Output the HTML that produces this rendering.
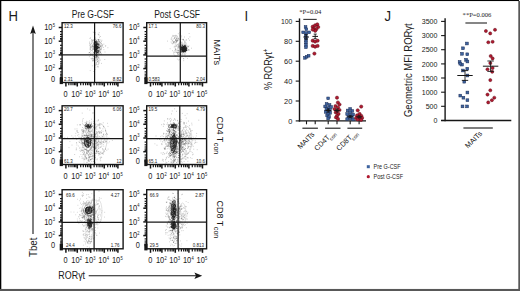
<!DOCTYPE html>
<html><head><meta charset="utf-8"><title>Figure</title>
<style>
html,body{margin:0;padding:0;background:#fff;}
body{width:520px;height:291px;overflow:hidden;font-family:"Liberation Sans",sans-serif;}
svg{display:block}
text{font-family:"Liberation Sans",sans-serif;fill:#1a1a1a}
.s{font-family:"Liberation Serif",serif}
</style></head><body>
<svg width="520" height="291" viewBox="0 0 520 291">
<rect x="0" y="0" width="520" height="291" fill="#fff"/>

<rect x="0" y="0" width="519" height="1.05" fill="#000"/>
<rect x="0" y="0" width="1.3" height="289.4" fill="#000"/>
<rect x="518.3" y="0.9" width="1.7" height="290.1" fill="#585858"/>
<rect x="0" y="288.95" width="520" height="2.05" fill="#585858"/>
<text transform="translate(8.6,20.9) scale(0.95,1)" font-size="13.8" text-anchor="start">H</text>
<text transform="translate(244.6,20.9) scale(0.95,1)" font-size="13.8" text-anchor="start">I</text>
<text transform="translate(384.5,20.9) scale(0.95,1)" font-size="13.8" text-anchor="start">J</text>
<text transform="translate(92.8,18) scale(0.82,1)" font-size="10.4" text-anchor="middle">Pre G-CSF</text>
<text transform="translate(177.1,18) scale(0.82,1)" font-size="10.4" text-anchor="middle">Post G-CSF</text>
<path d="M91.6 50.5h.01M99.6 44.7h.01M91.2 47.6h.01M97.7 55.1h.01M91.6 39.6h.01M98.5 51.1h.01M101.5 54.4h.01M95.6 46.2h.01M105.3 46.1h.01M93.2 40.6h.01M96.3 48.9h.01M94.8 47.6h.01M97.0 52.5h.01M99.9 49.4h.01M89.6 52.6h.01M90.9 46.9h.01M90.7 48.0h.01M93.2 49.4h.01M107.9 47.7h.01M99.0 39.4h.01M95.0 52.3h.01M95.7 50.4h.01M96.4 41.5h.01M98.0 42.7h.01M102.7 44.7h.01M98.5 48.0h.01M99.4 44.1h.01M99.6 47.2h.01M100.5 52.1h.01M96.5 42.9h.01M98.8 51.0h.01M101.9 45.5h.01M98.0 51.3h.01M97.0 49.4h.01M96.7 44.1h.01M92.3 45.4h.01M98.1 57.8h.01M99.5 54.8h.01M98.8 52.5h.01M96.7 53.0h.01M102.4 45.9h.01M93.5 60.7h.01M96.9 54.3h.01M99.1 40.6h.01M104.8 59.5h.01M96.6 52.9h.01M96.5 42.3h.01M95.6 50.4h.01M100.0 52.6h.01M96.2 56.8h.01M93.3 53.2h.01M100.0 46.1h.01M89.6 42.1h.01M96.9 51.4h.01M101.6 41.5h.01M96.0 52.2h.01M95.4 32.6h.01M98.9 63.0h.01M99.6 42.0h.01M94.5 49.4h.01M105.0 52.0h.01M96.4 58.1h.01M95.7 60.1h.01M93.5 44.9h.01M98.6 57.3h.01M98.4 50.0h.01M89.4 43.4h.01M93.8 44.5h.01M98.1 45.8h.01M98.8 48.5h.01M94.8 48.8h.01M97.5 53.6h.01M94.3 46.5h.01M91.1 58.4h.01M101.2 46.8h.01M94.3 40.0h.01M96.6 49.3h.01M103.9 49.6h.01M93.2 32.1h.01M101.1 49.2h.01M90.2 49.2h.01M90.2 70.6h.01M100.0 51.7h.01M95.4 34.1h.01M95.5 37.9h.01M98.1 34.1h.01M92.7 55.9h.01M101.9 40.3h.01M90.5 53.7h.01M99.1 41.6h.01M93.5 43.5h.01M91.7 43.6h.01M100.5 52.5h.01M103.4 47.4h.01M95.5 41.6h.01M95.6 39.5h.01M89.6 52.5h.01M101.2 53.4h.01M100.8 49.6h.01M93.4 48.6h.01M94.7 40.8h.01M89.9 38.4h.01M96.0 49.0h.01M94.3 57.3h.01M96.6 51.8h.01M100.4 42.7h.01M88.9 52.9h.01M93.5 56.5h.01M97.2 54.5h.01M98.7 34.5h.01M98.6 43.6h.01M93.3 45.2h.01M98.8 53.7h.01M99.6 37.2h.01M93.9 32.6h.01M95.6 51.9h.01M93.2 49.6h.01M96.8 54.5h.01M93.0 42.6h.01M93.3 59.4h.01M99.9 47.2h.01M96.8 48.7h.01M96.7 46.6h.01M94.8 39.8h.01M93.7 58.7h.01M97.9 48.4h.01M95.2 48.4h.01M97.3 43.8h.01M96.7 49.6h.01M93.3 42.9h.01M92.4 41.1h.01M99.2 32.7h.01M95.0 44.0h.01M93.8 48.6h.01M100.1 48.5h.01M95.5 44.0h.01M95.5 53.9h.01M94.6 40.5h.01M91.4 40.8h.01M91.0 55.1h.01M97.3 46.5h.01M101.3 43.7h.01M98.7 53.2h.01M90.4 37.9h.01M92.7 53.9h.01M100.7 40.0h.01M99.8 45.5h.01M94.6 44.4h.01M94.8 36.2h.01M92.4 40.0h.01M97.8 61.6h.01M105.8 45.8h.01M89.8 45.4h.01M92.6 60.9h.01M98.1 43.3h.01M99.4 51.5h.01M90.1 44.5h.01M95.1 48.1h.01M96.5 45.8h.01M96.7 44.2h.01M92.8 57.9h.01M97.3 50.8h.01M90.3 46.9h.01M98.9 39.6h.01M100.0 45.5h.01M97.4 47.1h.01M96.8 55.8h.01M94.5 58.2h.01M93.2 41.9h.01M98.6 41.1h.01M94.7 53.9h.01M100.4 36.5h.01M97.8 60.2h.01M100.3 46.4h.01M93.8 46.1h.01M91.8 46.3h.01M95.3 47.1h.01M100.3 46.5h.01M90.8 54.8h.01M92.1 45.1h.01M95.5 45.8h.01M92.4 46.4h.01M103.9 44.1h.01M95.5 55.3h.01M98.7 53.0h.01M99.1 35.2h.01M92.9 48.8h.01M97.8 56.4h.01M97.7 46.5h.01M96.1 46.6h.01M96.9 52.4h.01M94.8 42.7h.01M92.9 55.1h.01M100.6 54.4h.01M99.1 53.4h.01M96.0 52.3h.01M92.2 46.7h.01M93.4 52.7h.01M93.9 47.3h.01M97.4 56.8h.01" stroke="#222" stroke-opacity="0.33" stroke-width="0.8" stroke-linecap="round" fill="none"/>
<path d="M95.3 45.0h.01M97.3 44.5h.01M96.8 46.2h.01M96.2 42.2h.01M97.2 46.4h.01M95.2 54.6h.01M97.2 59.2h.01M96.8 46.9h.01M96.4 53.1h.01M96.3 49.4h.01M96.9 45.1h.01M96.5 46.4h.01M94.8 50.8h.01M97.1 48.2h.01M95.2 41.6h.01M96.9 47.7h.01M94.3 47.8h.01M94.5 47.9h.01M96.5 49.1h.01M96.6 48.5h.01M94.9 46.8h.01M95.7 47.2h.01M96.6 50.0h.01M98.3 39.8h.01M96.8 47.4h.01M99.0 51.0h.01M94.3 49.3h.01M95.7 51.2h.01M95.0 47.7h.01M96.1 47.7h.01M95.6 42.1h.01M96.9 51.2h.01M96.2 44.7h.01M96.5 49.8h.01M96.1 48.0h.01M98.0 44.4h.01M95.6 41.9h.01M95.5 45.6h.01M95.1 45.8h.01M98.5 47.4h.01M96.2 55.0h.01M96.2 42.5h.01M96.8 45.0h.01M98.3 44.0h.01M95.6 42.9h.01M96.4 44.8h.01M96.2 46.8h.01M95.6 51.0h.01M97.4 48.2h.01M95.2 44.6h.01M96.6 55.7h.01M95.8 45.5h.01M95.5 44.5h.01M95.1 47.3h.01M98.0 48.0h.01M95.7 42.8h.01M96.6 47.9h.01M94.8 44.5h.01M96.2 51.2h.01M97.1 48.7h.01M95.9 49.0h.01M96.3 55.0h.01M94.9 46.8h.01M97.8 47.1h.01M98.0 47.9h.01M96.5 46.8h.01M94.6 44.9h.01M99.0 50.1h.01M97.0 51.1h.01M97.0 51.3h.01M96.0 47.3h.01M97.5 46.9h.01M94.7 47.3h.01M95.6 50.0h.01M95.4 44.6h.01M95.9 53.0h.01M96.2 48.5h.01M96.3 48.9h.01M97.4 52.5h.01M94.3 52.4h.01M96.3 47.0h.01M99.2 47.5h.01M98.6 51.1h.01M95.1 49.6h.01M97.2 47.6h.01M93.5 46.9h.01M96.1 44.5h.01M98.5 47.2h.01M95.8 47.0h.01M95.4 45.5h.01M96.4 49.0h.01M95.7 47.7h.01M94.6 49.7h.01M95.4 48.7h.01M95.2 46.4h.01M96.6 44.1h.01M99.3 47.9h.01M96.2 45.6h.01M98.2 52.4h.01M96.7 43.6h.01M95.7 50.0h.01M95.7 44.2h.01M94.9 45.5h.01M96.3 45.9h.01M96.3 56.9h.01M98.4 44.7h.01M96.7 48.3h.01M96.1 51.3h.01M95.9 47.0h.01M95.9 47.7h.01M97.8 50.5h.01M94.7 46.6h.01M95.3 50.6h.01M96.6 50.8h.01M96.2 41.9h.01M96.8 48.7h.01M96.9 43.8h.01M96.4 45.8h.01M95.5 49.1h.01M96.7 45.1h.01M94.2 40.1h.01M95.6 51.6h.01M96.2 40.8h.01M95.3 49.3h.01M98.3 51.7h.01M96.7 48.6h.01M95.0 46.6h.01M95.9 45.5h.01M96.4 46.7h.01M96.7 52.6h.01M97.2 49.3h.01M96.0 43.1h.01M96.2 49.7h.01M95.1 52.0h.01M95.9 49.2h.01M95.9 44.0h.01M98.8 44.3h.01M97.4 46.2h.01M96.6 45.4h.01M95.8 50.9h.01M98.6 45.3h.01M96.3 51.0h.01M95.5 50.3h.01M95.4 49.9h.01M96.8 51.9h.01M96.7 44.2h.01M97.1 44.5h.01M97.2 52.8h.01M97.0 46.2h.01M97.7 48.5h.01M94.8 46.9h.01M98.0 47.0h.01M96.4 46.9h.01M94.3 46.4h.01M96.7 48.7h.01M96.1 41.2h.01M97.8 50.3h.01M97.5 52.2h.01M95.8 46.1h.01M96.7 53.4h.01M94.3 47.3h.01M95.4 49.8h.01M98.1 47.1h.01M94.8 48.2h.01M96.0 43.1h.01M97.4 46.3h.01M97.1 43.8h.01M97.6 43.4h.01M97.6 42.2h.01M98.0 46.8h.01" stroke="#222" stroke-opacity="0.75" stroke-width="1.0" stroke-linecap="round" fill="none"/>
<path d="M91.5 58.9h.01M96.4 55.5h.01M94.2 61.2h.01M95.1 46.2h.01M94.4 61.9h.01M96.3 64.5h.01M93.7 71.5h.01M97.6 61.4h.01M98.3 64.3h.01M95.8 57.2h.01M98.2 61.9h.01M90.6 55.0h.01M96.7 60.5h.01M96.2 62.9h.01M95.9 67.1h.01M94.0 58.2h.01M96.3 63.4h.01M97.5 66.7h.01M94.3 65.3h.01M96.7 55.3h.01M95.1 69.4h.01M97.5 57.9h.01M89.3 56.7h.01M93.7 60.3h.01M101.5 63.4h.01M96.3 55.8h.01M92.4 59.1h.01M94.3 73.5h.01M94.4 57.2h.01M98.4 60.3h.01M92.3 65.8h.01M94.7 54.0h.01M96.3 62.2h.01M94.6 63.1h.01M97.6 56.0h.01M90.2 49.2h.01M95.2 65.5h.01M98.1 66.3h.01M100.3 60.1h.01M98.2 53.1h.01M97.3 61.8h.01M95.3 58.0h.01M92.6 60.6h.01M98.8 58.3h.01M96.9 57.0h.01M96.2 55.5h.01M96.5 59.0h.01M96.3 57.3h.01M92.4 58.5h.01M98.2 67.1h.01" stroke="#222" stroke-opacity="0.3" stroke-width="0.8" stroke-linecap="round" fill="none"/>
<ellipse cx="95.6" cy="48" rx="5.5" ry="9" transform="rotate(0 95.6 48)" fill="none" stroke="#1a1a1a" stroke-opacity="0.25" stroke-width="0.5"/>
<ellipse cx="96" cy="47.5" rx="3.6" ry="6.5" transform="rotate(8 96 47.5)" fill="none" stroke="#1a1a1a" stroke-opacity="0.3" stroke-width="0.5"/>
<ellipse cx="98.5" cy="46" rx="3.5" ry="4.5" transform="rotate(0 98.5 46)" fill="none" stroke="#1a1a1a" stroke-opacity="0.3" stroke-width="0.5"/>
<ellipse cx="96.8" cy="60" rx="2.5" ry="5" transform="rotate(0 96.8 60)" fill="none" stroke="#1a1a1a" stroke-opacity="0.25" stroke-width="0.5"/>
<rect x="62.1" y="22.7" width="61.0" height="59.8" fill="none" stroke="#161616" stroke-width="1.4"/>
<line x1="94.6" y1="22.7" x2="94.6" y2="82.5" stroke="#161616" stroke-width="1.2"/>
<line x1="62.1" y1="54.8" x2="123.1" y2="54.8" stroke="#161616" stroke-width="1.2"/>
<text transform="translate(63.9,28.1) scale(0.9,1)" font-size="5.0" text-anchor="start" fill="#7c7c7c">12.3</text>
<text transform="translate(121.6,28.1) scale(0.9,1)" font-size="5.0" text-anchor="end" fill="#7c7c7c">76.6</text>
<text transform="translate(63.9,80.9) scale(0.9,1)" font-size="5.0" text-anchor="start" fill="#7c7c7c">2.31</text>
<text transform="translate(121.6,80.9) scale(0.9,1)" font-size="5.0" text-anchor="end" fill="#7c7c7c">8.82</text>
<line x1="58.7" y1="27.5" x2="62.1" y2="27.5" stroke="#161616" stroke-width="1.5"/>
<text transform="translate(54.9,30.1) scale(0.815,1)" font-size="9.2" text-anchor="end">10<tspan dy="-3.4" dx="0.2" font-size="5.0">5</tspan></text>
<line x1="58.7" y1="41.2" x2="62.1" y2="41.2" stroke="#161616" stroke-width="1.5"/>
<text transform="translate(54.9,43.8) scale(0.815,1)" font-size="9.2" text-anchor="end">10<tspan dy="-3.4" dx="0.2" font-size="5.0">4</tspan></text>
<line x1="58.7" y1="54.9" x2="62.1" y2="54.9" stroke="#161616" stroke-width="1.5"/>
<text transform="translate(54.9,57.5) scale(0.815,1)" font-size="9.2" text-anchor="end">10<tspan dy="-3.4" dx="0.2" font-size="5.0">3</tspan></text>
<line x1="58.7" y1="68.6" x2="62.1" y2="68.6" stroke="#161616" stroke-width="1.5"/>
<text transform="translate(54.9,71.2) scale(0.815,1)" font-size="9.2" text-anchor="end">10<tspan dy="-3.4" dx="0.2" font-size="5.0">2</tspan></text>
<line x1="60.0" y1="31.6" x2="62.1" y2="31.6" stroke="#161616" stroke-width="1.2"/>
<line x1="60.0" y1="34.4" x2="62.1" y2="34.4" stroke="#161616" stroke-width="1.2"/>
<line x1="60.0" y1="36.5" x2="62.1" y2="36.5" stroke="#161616" stroke-width="1.2"/>
<line x1="60.0" y1="38.5" x2="62.1" y2="38.5" stroke="#161616" stroke-width="1.2"/>
<line x1="60.0" y1="39.8" x2="62.1" y2="39.8" stroke="#161616" stroke-width="1.2"/>
<line x1="60.0" y1="45.3" x2="62.1" y2="45.3" stroke="#161616" stroke-width="1.2"/>
<line x1="60.0" y1="48.1" x2="62.1" y2="48.1" stroke="#161616" stroke-width="1.2"/>
<line x1="60.0" y1="50.2" x2="62.1" y2="50.2" stroke="#161616" stroke-width="1.2"/>
<line x1="60.0" y1="52.2" x2="62.1" y2="52.2" stroke="#161616" stroke-width="1.2"/>
<line x1="60.0" y1="53.5" x2="62.1" y2="53.5" stroke="#161616" stroke-width="1.2"/>
<line x1="60.0" y1="59.0" x2="62.1" y2="59.0" stroke="#161616" stroke-width="1.2"/>
<line x1="60.0" y1="61.8" x2="62.1" y2="61.8" stroke="#161616" stroke-width="1.2"/>
<line x1="60.0" y1="63.9" x2="62.1" y2="63.9" stroke="#161616" stroke-width="1.2"/>
<line x1="60.0" y1="65.9" x2="62.1" y2="65.9" stroke="#161616" stroke-width="1.2"/>
<line x1="60.0" y1="67.2" x2="62.1" y2="67.2" stroke="#161616" stroke-width="1.2"/>
<line x1="60.0" y1="71.9" x2="62.1" y2="71.9" stroke="#161616" stroke-width="1.2"/>
<line x1="60.0" y1="74.2" x2="62.1" y2="74.2" stroke="#161616" stroke-width="1.2"/>
<line x1="60.0" y1="75.9" x2="62.1" y2="75.9" stroke="#161616" stroke-width="1.2"/>
<line x1="60.0" y1="77.5" x2="62.1" y2="77.5" stroke="#161616" stroke-width="1.2"/>
<line x1="60.0" y1="78.6" x2="62.1" y2="78.6" stroke="#161616" stroke-width="1.2"/>
<text transform="translate(53.1,81.8) scale(0.8,1)" font-size="9.2" text-anchor="middle">0</text>
<rect x="59.7" y="77.5" width="3.2" height="6.6" fill="#161616"/>
<line x1="65.9" y1="82.5" x2="65.9" y2="86.5" stroke="#161616" stroke-width="1.5"/>
<text transform="translate(65.6,97.0) scale(0.8,1)" font-size="9.2" text-anchor="middle">0</text>
<line x1="77.3" y1="82.5" x2="77.3" y2="86.5" stroke="#161616" stroke-width="1.5"/>
<text transform="translate(76.7,97.0) scale(0.815,1)" font-size="9.2" text-anchor="middle">10<tspan dy="-3.4" dx="0.2" font-size="5.0">2</tspan></text>
<line x1="90.7" y1="82.5" x2="90.7" y2="86.5" stroke="#161616" stroke-width="1.5"/>
<text transform="translate(90.1,97.0) scale(0.815,1)" font-size="9.2" text-anchor="middle">10<tspan dy="-3.4" dx="0.2" font-size="5.0">3</tspan></text>
<line x1="104.3" y1="82.5" x2="104.3" y2="86.5" stroke="#161616" stroke-width="1.5"/>
<text transform="translate(103.7,97.0) scale(0.815,1)" font-size="9.2" text-anchor="middle">10<tspan dy="-3.4" dx="0.2" font-size="5.0">4</tspan></text>
<line x1="117.9" y1="82.5" x2="117.9" y2="86.5" stroke="#161616" stroke-width="1.5"/>
<text transform="translate(117.3,97.0) scale(0.815,1)" font-size="9.2" text-anchor="middle">10<tspan dy="-3.4" dx="0.2" font-size="5.0">5</tspan></text>
<line x1="68.8" y1="82.5" x2="68.8" y2="85.2" stroke="#161616" stroke-width="1.2"/>
<line x1="71.0" y1="82.5" x2="71.0" y2="85.2" stroke="#161616" stroke-width="1.2"/>
<line x1="73.0" y1="82.5" x2="73.0" y2="85.2" stroke="#161616" stroke-width="1.2"/>
<line x1="74.6" y1="82.5" x2="74.6" y2="85.2" stroke="#161616" stroke-width="1.2"/>
<line x1="75.9" y1="82.5" x2="75.9" y2="85.2" stroke="#161616" stroke-width="1.2"/>
<line x1="80.7" y1="82.5" x2="80.7" y2="85.2" stroke="#161616" stroke-width="1.2"/>
<line x1="83.3" y1="82.5" x2="83.3" y2="85.2" stroke="#161616" stroke-width="1.2"/>
<line x1="85.6" y1="82.5" x2="85.6" y2="85.2" stroke="#161616" stroke-width="1.2"/>
<line x1="87.5" y1="82.5" x2="87.5" y2="85.2" stroke="#161616" stroke-width="1.2"/>
<line x1="89.1" y1="82.5" x2="89.1" y2="85.2" stroke="#161616" stroke-width="1.2"/>
<line x1="94.1" y1="82.5" x2="94.1" y2="85.2" stroke="#161616" stroke-width="1.2"/>
<line x1="96.8" y1="82.5" x2="96.8" y2="85.2" stroke="#161616" stroke-width="1.2"/>
<line x1="99.1" y1="82.5" x2="99.1" y2="85.2" stroke="#161616" stroke-width="1.2"/>
<line x1="101.0" y1="82.5" x2="101.0" y2="85.2" stroke="#161616" stroke-width="1.2"/>
<line x1="102.7" y1="82.5" x2="102.7" y2="85.2" stroke="#161616" stroke-width="1.2"/>
<line x1="107.7" y1="82.5" x2="107.7" y2="85.2" stroke="#161616" stroke-width="1.2"/>
<line x1="110.4" y1="82.5" x2="110.4" y2="85.2" stroke="#161616" stroke-width="1.2"/>
<line x1="112.7" y1="82.5" x2="112.7" y2="85.2" stroke="#161616" stroke-width="1.2"/>
<line x1="114.6" y1="82.5" x2="114.6" y2="85.2" stroke="#161616" stroke-width="1.2"/>
<line x1="116.3" y1="82.5" x2="116.3" y2="85.2" stroke="#161616" stroke-width="1.2"/>
<path d="M179.9 51.8h.01M183.6 49.4h.01M175.7 48.9h.01M177.7 54.1h.01M183.7 50.7h.01M172.4 50.7h.01M183.4 39.3h.01M184.3 47.5h.01M180.4 42.7h.01M177.5 44.4h.01M191.5 48.2h.01M181.7 43.1h.01M178.9 43.7h.01M178.0 52.3h.01M180.1 52.2h.01M177.1 52.6h.01M180.9 51.0h.01M180.6 41.7h.01M185.1 44.4h.01M180.5 41.7h.01M181.7 44.7h.01M182.0 49.1h.01M178.7 38.5h.01M182.5 52.5h.01M183.4 40.1h.01M183.1 49.3h.01M182.0 49.6h.01M179.9 48.3h.01M184.2 44.0h.01M176.1 46.4h.01M181.7 35.9h.01M178.7 50.5h.01M180.5 47.6h.01M176.7 52.4h.01M187.0 45.8h.01M178.5 40.1h.01M184.0 47.6h.01M178.3 54.3h.01M183.6 50.6h.01M175.0 46.4h.01M183.1 39.7h.01M184.2 55.6h.01M184.5 42.7h.01M178.6 52.7h.01M184.4 54.4h.01M185.1 46.4h.01M179.6 35.9h.01M183.7 60.7h.01M179.4 44.1h.01M183.2 49.2h.01M176.3 42.7h.01M177.3 59.1h.01M178.6 52.1h.01M187.5 58.4h.01M185.8 56.8h.01M176.8 44.9h.01M178.5 45.3h.01M189.9 36.9h.01M182.9 39.6h.01M185.6 54.8h.01M179.3 59.4h.01M181.3 54.8h.01M182.1 43.6h.01M179.7 46.3h.01M183.1 47.8h.01M189.0 45.8h.01M179.4 42.7h.01M178.4 38.4h.01M177.6 52.4h.01M181.2 46.0h.01M182.2 53.4h.01M183.1 51.6h.01M179.1 45.4h.01M178.4 46.4h.01M178.2 44.8h.01M180.4 45.7h.01M180.1 44.0h.01M185.5 44.9h.01M177.6 48.2h.01M177.3 40.6h.01M181.3 37.0h.01M170.1 48.7h.01M184.5 37.0h.01M177.9 50.5h.01M174.2 41.8h.01M176.9 45.8h.01M174.3 52.4h.01M180.5 48.8h.01M179.9 34.3h.01M180.5 39.0h.01M181.0 41.9h.01M179.9 45.7h.01M183.6 51.6h.01M177.6 46.9h.01M186.0 50.0h.01M178.5 46.3h.01M179.8 52.6h.01M181.1 49.3h.01M188.5 38.7h.01M177.6 36.6h.01M175.6 52.1h.01M182.0 56.8h.01M174.3 41.7h.01M185.9 53.2h.01M184.0 52.2h.01M181.1 46.9h.01M181.1 52.1h.01M180.4 48.9h.01M185.9 40.2h.01M178.4 50.4h.01M180.1 46.1h.01M188.1 49.5h.01M179.6 53.6h.01M189.6 40.3h.01M178.7 47.7h.01M178.8 60.0h.01M182.8 44.6h.01M182.7 42.2h.01M178.9 47.6h.01M189.1 33.5h.01M182.4 55.1h.01M183.5 58.5h.01M182.5 47.9h.01M180.6 41.9h.01M186.6 39.9h.01M180.6 43.9h.01M178.3 33.7h.01M179.7 47.8h.01M181.5 52.1h.01M180.4 43.2h.01M182.0 51.0h.01M177.9 37.9h.01M177.5 53.3h.01M184.4 41.7h.01M181.4 52.0h.01M185.5 43.0h.01M180.2 55.5h.01M189.2 56.2h.01M177.1 49.7h.01M180.0 46.6h.01M178.7 44.1h.01M181.0 57.8h.01M183.4 49.6h.01M181.1 42.5h.01M180.2 54.4h.01M183.8 58.8h.01M181.9 46.9h.01M175.5 49.4h.01M175.1 56.2h.01M178.9 47.0h.01" stroke="#222" stroke-opacity="0.33" stroke-width="0.8" stroke-linecap="round" fill="none"/>
<path d="M182.0 48.0h.01M182.6 50.7h.01M184.4 46.8h.01M181.1 48.7h.01M183.3 46.9h.01M184.9 48.5h.01M184.2 47.8h.01M183.1 48.0h.01M181.6 49.9h.01M184.6 45.9h.01M184.2 50.8h.01M184.4 51.0h.01M183.6 48.8h.01M182.1 47.3h.01M181.3 47.3h.01M184.4 49.7h.01M185.7 49.0h.01M182.5 49.5h.01M183.8 51.8h.01M186.9 50.4h.01M182.3 47.9h.01M184.3 47.6h.01M184.8 50.0h.01M185.3 49.2h.01M182.7 47.4h.01M183.8 51.1h.01M186.4 50.5h.01M184.5 49.9h.01M185.2 51.0h.01M185.3 46.2h.01M185.4 49.5h.01M183.3 49.7h.01M184.4 48.7h.01M181.5 49.0h.01M184.8 48.7h.01M181.6 49.6h.01M185.1 49.1h.01M184.6 48.2h.01M183.0 49.7h.01M183.5 49.1h.01M188.9 50.0h.01M184.2 46.0h.01M184.1 50.1h.01M182.9 48.4h.01M180.6 49.7h.01M183.1 50.0h.01M186.0 48.5h.01M185.5 49.2h.01M183.7 48.3h.01M182.7 51.0h.01M185.3 47.1h.01M185.3 47.6h.01M181.7 50.8h.01M182.1 50.8h.01M184.3 50.3h.01M184.8 50.8h.01M184.5 49.8h.01M184.4 50.7h.01M183.4 50.5h.01M186.3 48.7h.01M184.7 47.9h.01M183.6 49.2h.01M183.5 47.3h.01M184.0 49.1h.01M184.5 50.0h.01M181.3 51.2h.01M183.7 47.5h.01M183.4 49.6h.01M185.3 48.2h.01M184.2 46.1h.01M184.3 48.6h.01M183.4 50.3h.01M186.7 50.6h.01M182.8 51.4h.01M183.5 48.7h.01M183.1 49.6h.01M184.8 49.0h.01M183.7 48.6h.01M183.4 50.5h.01M183.2 48.5h.01M183.7 47.5h.01M183.7 46.3h.01M184.6 49.7h.01M183.6 51.4h.01M182.8 49.7h.01M184.7 47.9h.01M183.6 50.3h.01M184.1 49.3h.01M186.1 49.2h.01M181.5 47.6h.01M185.2 48.6h.01M182.4 45.5h.01M184.5 51.3h.01M182.1 45.1h.01M184.7 47.9h.01M183.6 48.3h.01M182.7 49.5h.01M185.4 49.4h.01M183.2 50.6h.01M183.8 49.8h.01M182.6 49.9h.01M185.1 51.0h.01M184.0 49.5h.01M183.1 50.3h.01M185.2 50.6h.01M183.4 46.7h.01M183.9 48.5h.01M182.9 49.8h.01M185.4 49.5h.01M185.7 49.5h.01M182.6 47.8h.01M183.5 50.0h.01M185.4 49.0h.01M185.5 47.4h.01M183.8 51.3h.01M184.7 50.6h.01M181.2 46.0h.01M182.7 50.5h.01M186.4 47.8h.01M182.5 47.1h.01M182.7 49.7h.01M183.5 52.0h.01M185.1 47.7h.01M184.4 48.5h.01M185.2 50.3h.01M183.5 50.3h.01M184.8 48.7h.01M184.4 49.9h.01M183.5 47.7h.01M185.9 48.8h.01M183.1 49.6h.01M181.8 48.9h.01M182.0 48.1h.01M181.4 47.6h.01M185.3 48.5h.01M182.2 51.7h.01M183.1 51.3h.01M183.2 46.4h.01M186.7 48.1h.01M185.1 50.8h.01M182.1 48.9h.01M183.2 49.8h.01M184.0 46.7h.01M184.1 50.1h.01M183.6 49.7h.01M183.2 48.7h.01M184.5 49.0h.01M185.9 50.4h.01M185.2 50.0h.01M184.2 46.9h.01M185.6 51.7h.01M184.3 48.4h.01M184.0 50.8h.01M184.4 47.2h.01M183.8 47.5h.01M183.7 47.3h.01M182.7 51.3h.01M185.5 46.1h.01M182.6 48.1h.01M183.4 46.5h.01M185.3 46.1h.01M185.0 50.0h.01M183.5 47.7h.01M184.1 49.1h.01M180.9 46.7h.01M184.8 48.6h.01M183.4 47.2h.01M183.0 47.5h.01M188.1 46.7h.01M186.3 49.6h.01M184.3 49.1h.01M183.5 51.5h.01M184.8 48.8h.01M183.8 49.1h.01M182.3 48.3h.01M183.1 49.8h.01M184.9 45.7h.01M183.7 50.5h.01M182.1 46.8h.01M185.5 48.6h.01M183.4 46.8h.01M184.3 47.9h.01M184.3 49.5h.01M185.0 48.3h.01M183.2 48.9h.01M183.9 49.1h.01M183.2 48.4h.01M183.2 47.8h.01M184.2 50.7h.01M183.2 49.8h.01" stroke="#222" stroke-opacity="0.85" stroke-width="1.0" stroke-linecap="round" fill="none"/>
<path d="M175.8 40.3h.01M176.5 38.4h.01M176.2 40.9h.01M167.5 41.1h.01M176.3 45.8h.01M172.7 40.3h.01M175.8 37.2h.01M177.6 41.3h.01M173.3 36.5h.01M174.1 47.0h.01M179.7 32.8h.01M171.1 42.0h.01M174.8 38.2h.01M176.3 40.3h.01M175.6 40.8h.01M172.7 43.9h.01M174.0 43.4h.01M176.5 40.1h.01M175.3 39.9h.01M171.0 39.1h.01M175.9 35.3h.01M171.8 43.2h.01M176.8 35.5h.01M176.0 39.9h.01M177.1 39.1h.01M174.5 37.8h.01M175.4 39.6h.01M173.6 39.0h.01M173.4 41.9h.01M172.8 35.4h.01M172.9 43.2h.01M173.9 41.9h.01M176.6 38.5h.01M176.6 41.5h.01M174.9 37.9h.01M174.9 36.2h.01M174.4 38.3h.01M176.0 41.0h.01M173.6 42.6h.01M177.6 40.2h.01" stroke="#222" stroke-opacity="0.3" stroke-width="0.8" stroke-linecap="round" fill="none"/>
<ellipse cx="181" cy="47" rx="6" ry="8" transform="rotate(0 181 47)" fill="none" stroke="#1a1a1a" stroke-opacity="0.25" stroke-width="0.5"/>
<ellipse cx="183" cy="48.5" rx="4" ry="4.5" transform="rotate(0 183 48.5)" fill="none" stroke="#1a1a1a" stroke-opacity="0.35" stroke-width="0.5"/>
<ellipse cx="184.2" cy="48.8" rx="2.6" ry="2.8" transform="rotate(0 184.2 48.8)" fill="none" stroke="#1a1a1a" stroke-opacity="0.6" stroke-width="0.7"/>
<ellipse cx="174.5" cy="39" rx="2.8" ry="3.6" transform="rotate(-15 174.5 39)" fill="none" stroke="#1a1a1a" stroke-opacity="0.3" stroke-width="0.5"/>
<ellipse cx="176" cy="53" rx="2.5" ry="3" transform="rotate(0 176 53)" fill="none" stroke="#1a1a1a" stroke-opacity="0.25" stroke-width="0.5"/>
<rect x="146.7" y="22.7" width="59.9" height="59.8" fill="none" stroke="#161616" stroke-width="1.4"/>
<line x1="180.3" y1="22.7" x2="180.3" y2="82.5" stroke="#161616" stroke-width="1.2"/>
<line x1="146.7" y1="56.2" x2="206.6" y2="56.2" stroke="#161616" stroke-width="1.2"/>
<text transform="translate(148.5,28.1) scale(0.9,1)" font-size="5.0" text-anchor="start" fill="#7c7c7c">17.1</text>
<text transform="translate(205.1,28.1) scale(0.9,1)" font-size="5.0" text-anchor="end" fill="#7c7c7c">80.3</text>
<text transform="translate(148.5,80.9) scale(0.9,1)" font-size="5.0" text-anchor="start" fill="#7c7c7c">0.583</text>
<text transform="translate(205.1,80.9) scale(0.9,1)" font-size="5.0" text-anchor="end" fill="#7c7c7c">2.04</text>
<line x1="143.3" y1="27.5" x2="146.7" y2="27.5" stroke="#161616" stroke-width="1.5"/>
<text transform="translate(139.5,30.1) scale(0.815,1)" font-size="9.2" text-anchor="end">10<tspan dy="-3.4" dx="0.2" font-size="5.0">5</tspan></text>
<line x1="143.3" y1="41.2" x2="146.7" y2="41.2" stroke="#161616" stroke-width="1.5"/>
<text transform="translate(139.5,43.8) scale(0.815,1)" font-size="9.2" text-anchor="end">10<tspan dy="-3.4" dx="0.2" font-size="5.0">4</tspan></text>
<line x1="143.3" y1="54.9" x2="146.7" y2="54.9" stroke="#161616" stroke-width="1.5"/>
<text transform="translate(139.5,57.5) scale(0.815,1)" font-size="9.2" text-anchor="end">10<tspan dy="-3.4" dx="0.2" font-size="5.0">3</tspan></text>
<line x1="143.3" y1="68.6" x2="146.7" y2="68.6" stroke="#161616" stroke-width="1.5"/>
<text transform="translate(139.5,71.2) scale(0.815,1)" font-size="9.2" text-anchor="end">10<tspan dy="-3.4" dx="0.2" font-size="5.0">2</tspan></text>
<line x1="144.6" y1="31.6" x2="146.7" y2="31.6" stroke="#161616" stroke-width="1.2"/>
<line x1="144.6" y1="34.4" x2="146.7" y2="34.4" stroke="#161616" stroke-width="1.2"/>
<line x1="144.6" y1="36.5" x2="146.7" y2="36.5" stroke="#161616" stroke-width="1.2"/>
<line x1="144.6" y1="38.5" x2="146.7" y2="38.5" stroke="#161616" stroke-width="1.2"/>
<line x1="144.6" y1="39.8" x2="146.7" y2="39.8" stroke="#161616" stroke-width="1.2"/>
<line x1="144.6" y1="45.3" x2="146.7" y2="45.3" stroke="#161616" stroke-width="1.2"/>
<line x1="144.6" y1="48.1" x2="146.7" y2="48.1" stroke="#161616" stroke-width="1.2"/>
<line x1="144.6" y1="50.2" x2="146.7" y2="50.2" stroke="#161616" stroke-width="1.2"/>
<line x1="144.6" y1="52.2" x2="146.7" y2="52.2" stroke="#161616" stroke-width="1.2"/>
<line x1="144.6" y1="53.5" x2="146.7" y2="53.5" stroke="#161616" stroke-width="1.2"/>
<line x1="144.6" y1="59.0" x2="146.7" y2="59.0" stroke="#161616" stroke-width="1.2"/>
<line x1="144.6" y1="61.8" x2="146.7" y2="61.8" stroke="#161616" stroke-width="1.2"/>
<line x1="144.6" y1="63.9" x2="146.7" y2="63.9" stroke="#161616" stroke-width="1.2"/>
<line x1="144.6" y1="65.9" x2="146.7" y2="65.9" stroke="#161616" stroke-width="1.2"/>
<line x1="144.6" y1="67.2" x2="146.7" y2="67.2" stroke="#161616" stroke-width="1.2"/>
<line x1="144.6" y1="71.9" x2="146.7" y2="71.9" stroke="#161616" stroke-width="1.2"/>
<line x1="144.6" y1="74.2" x2="146.7" y2="74.2" stroke="#161616" stroke-width="1.2"/>
<line x1="144.6" y1="75.9" x2="146.7" y2="75.9" stroke="#161616" stroke-width="1.2"/>
<line x1="144.6" y1="77.5" x2="146.7" y2="77.5" stroke="#161616" stroke-width="1.2"/>
<line x1="144.6" y1="78.6" x2="146.7" y2="78.6" stroke="#161616" stroke-width="1.2"/>
<text transform="translate(137.7,81.8) scale(0.8,1)" font-size="9.2" text-anchor="middle">0</text>
<rect x="144.29999999999998" y="77.5" width="3.2" height="6.6" fill="#161616"/>
<line x1="150.5" y1="82.5" x2="150.5" y2="86.5" stroke="#161616" stroke-width="1.5"/>
<text transform="translate(150.2,97.0) scale(0.8,1)" font-size="9.2" text-anchor="middle">0</text>
<line x1="161.9" y1="82.5" x2="161.9" y2="86.5" stroke="#161616" stroke-width="1.5"/>
<text transform="translate(161.3,97.0) scale(0.815,1)" font-size="9.2" text-anchor="middle">10<tspan dy="-3.4" dx="0.2" font-size="5.0">2</tspan></text>
<line x1="175.3" y1="82.5" x2="175.3" y2="86.5" stroke="#161616" stroke-width="1.5"/>
<text transform="translate(174.7,97.0) scale(0.815,1)" font-size="9.2" text-anchor="middle">10<tspan dy="-3.4" dx="0.2" font-size="5.0">3</tspan></text>
<line x1="188.9" y1="82.5" x2="188.9" y2="86.5" stroke="#161616" stroke-width="1.5"/>
<text transform="translate(188.3,97.0) scale(0.815,1)" font-size="9.2" text-anchor="middle">10<tspan dy="-3.4" dx="0.2" font-size="5.0">4</tspan></text>
<line x1="202.5" y1="82.5" x2="202.5" y2="86.5" stroke="#161616" stroke-width="1.5"/>
<text transform="translate(201.9,97.0) scale(0.815,1)" font-size="9.2" text-anchor="middle">10<tspan dy="-3.4" dx="0.2" font-size="5.0">5</tspan></text>
<line x1="153.3" y1="82.5" x2="153.3" y2="85.2" stroke="#161616" stroke-width="1.2"/>
<line x1="155.6" y1="82.5" x2="155.6" y2="85.2" stroke="#161616" stroke-width="1.2"/>
<line x1="157.6" y1="82.5" x2="157.6" y2="85.2" stroke="#161616" stroke-width="1.2"/>
<line x1="159.2" y1="82.5" x2="159.2" y2="85.2" stroke="#161616" stroke-width="1.2"/>
<line x1="160.5" y1="82.5" x2="160.5" y2="85.2" stroke="#161616" stroke-width="1.2"/>
<line x1="165.2" y1="82.5" x2="165.2" y2="85.2" stroke="#161616" stroke-width="1.2"/>
<line x1="167.9" y1="82.5" x2="167.9" y2="85.2" stroke="#161616" stroke-width="1.2"/>
<line x1="170.2" y1="82.5" x2="170.2" y2="85.2" stroke="#161616" stroke-width="1.2"/>
<line x1="172.1" y1="82.5" x2="172.1" y2="85.2" stroke="#161616" stroke-width="1.2"/>
<line x1="173.7" y1="82.5" x2="173.7" y2="85.2" stroke="#161616" stroke-width="1.2"/>
<line x1="178.7" y1="82.5" x2="178.7" y2="85.2" stroke="#161616" stroke-width="1.2"/>
<line x1="181.4" y1="82.5" x2="181.4" y2="85.2" stroke="#161616" stroke-width="1.2"/>
<line x1="183.7" y1="82.5" x2="183.7" y2="85.2" stroke="#161616" stroke-width="1.2"/>
<line x1="185.6" y1="82.5" x2="185.6" y2="85.2" stroke="#161616" stroke-width="1.2"/>
<line x1="187.3" y1="82.5" x2="187.3" y2="85.2" stroke="#161616" stroke-width="1.2"/>
<line x1="192.3" y1="82.5" x2="192.3" y2="85.2" stroke="#161616" stroke-width="1.2"/>
<line x1="195.0" y1="82.5" x2="195.0" y2="85.2" stroke="#161616" stroke-width="1.2"/>
<line x1="197.3" y1="82.5" x2="197.3" y2="85.2" stroke="#161616" stroke-width="1.2"/>
<line x1="199.2" y1="82.5" x2="199.2" y2="85.2" stroke="#161616" stroke-width="1.2"/>
<line x1="200.9" y1="82.5" x2="200.9" y2="85.2" stroke="#161616" stroke-width="1.2"/>
<path d="M85.0 144.0h.01M75.8 133.3h.01M92.2 158.8h.01M85.0 154.1h.01M101.7 157.6h.01M76.2 149.9h.01M90.1 149.1h.01M88.1 133.0h.01M87.8 153.9h.01M93.6 136.2h.01M91.1 147.6h.01M92.1 138.6h.01M85.4 131.7h.01M86.7 133.6h.01M80.4 125.0h.01M93.8 128.0h.01M81.9 138.6h.01M96.9 151.5h.01M86.8 128.8h.01M86.1 130.0h.01M86.0 143.8h.01M83.2 131.3h.01M87.6 138.8h.01M84.8 131.2h.01M82.8 131.6h.01M91.9 136.6h.01M72.0 145.1h.01M88.6 130.4h.01M87.6 108.9h.01M80.0 150.6h.01M100.7 160.7h.01M85.0 139.4h.01M93.3 126.8h.01M98.6 131.8h.01M90.9 127.6h.01M91.0 138.9h.01M94.9 127.5h.01M89.0 157.1h.01M82.5 142.5h.01M91.4 134.1h.01M87.5 153.1h.01M95.3 144.7h.01M90.5 127.7h.01M89.5 156.9h.01M94.8 125.4h.01M77.6 132.4h.01M89.9 133.5h.01M87.3 142.4h.01M93.9 141.1h.01M95.9 124.8h.01M91.6 143.3h.01M80.8 151.5h.01M80.2 124.5h.01M103.7 152.0h.01M91.1 152.6h.01M95.3 127.7h.01M91.7 153.0h.01M88.1 139.7h.01M86.4 146.4h.01M86.0 133.1h.01M82.2 129.7h.01M90.2 143.7h.01M86.9 128.5h.01M90.9 142.6h.01M96.0 134.0h.01M86.7 144.2h.01M97.4 138.5h.01M88.6 129.6h.01M86.9 148.5h.01M93.7 150.2h.01M79.9 147.4h.01M83.9 145.0h.01M75.9 138.0h.01M84.1 151.8h.01M89.7 152.1h.01M86.6 158.8h.01M86.5 158.1h.01M86.3 129.1h.01M94.0 135.0h.01M88.7 125.5h.01M87.1 140.2h.01M85.1 143.0h.01M76.3 148.0h.01M86.7 153.9h.01M87.1 132.4h.01M86.5 141.8h.01M92.3 134.3h.01M84.6 143.4h.01M93.6 121.4h.01M83.2 132.2h.01M98.5 151.5h.01M93.4 144.0h.01M82.8 150.4h.01M86.5 131.0h.01M99.8 124.4h.01M96.7 141.1h.01M83.9 140.8h.01M84.3 140.9h.01M85.4 127.0h.01M103.8 133.9h.01M94.5 138.5h.01M92.8 126.2h.01M94.6 143.5h.01M82.5 147.5h.01M90.3 148.3h.01M92.4 146.8h.01M88.9 134.8h.01M93.0 151.5h.01M82.5 127.5h.01M88.8 157.3h.01M87.9 121.8h.01M93.5 146.7h.01M99.8 141.0h.01M100.0 131.7h.01M94.1 140.4h.01M82.4 136.2h.01M96.4 150.4h.01M86.9 150.3h.01M94.1 148.1h.01M90.6 142.1h.01M84.4 138.4h.01M89.7 131.6h.01M87.4 140.7h.01M90.2 149.7h.01M83.3 135.0h.01M90.5 135.2h.01M90.9 134.3h.01M95.6 136.7h.01M82.7 146.6h.01M98.3 119.6h.01M88.3 139.8h.01M94.8 154.2h.01M88.2 123.3h.01M92.7 149.2h.01M91.6 139.9h.01M82.4 123.8h.01M94.5 142.0h.01M92.8 142.7h.01M98.4 153.5h.01M86.0 149.2h.01M82.5 121.8h.01M95.7 134.7h.01M77.1 138.9h.01M85.3 144.2h.01M88.7 131.3h.01M85.1 146.8h.01M83.9 140.4h.01M83.5 143.6h.01M98.9 144.8h.01M95.2 143.6h.01M83.7 136.0h.01M89.4 143.5h.01M85.7 145.3h.01M85.0 139.7h.01M89.0 127.4h.01M94.6 139.6h.01M89.6 138.7h.01M77.3 124.9h.01M84.1 149.1h.01M85.8 145.2h.01M83.3 130.5h.01M86.4 149.8h.01M79.8 137.3h.01M91.3 140.4h.01M88.9 146.9h.01M90.6 128.9h.01M92.6 131.2h.01M87.1 153.7h.01M102.6 153.7h.01M91.4 131.2h.01M84.8 155.9h.01M90.9 125.1h.01M97.8 144.9h.01M96.4 143.2h.01M77.1 131.6h.01M88.2 137.4h.01M97.4 132.3h.01M88.5 138.5h.01M88.5 128.6h.01M82.2 113.1h.01M90.9 137.0h.01M90.2 128.4h.01M89.1 129.3h.01M83.4 142.5h.01M92.6 144.9h.01M88.8 135.2h.01M96.8 151.6h.01M85.5 128.1h.01M91.1 142.3h.01M84.0 162.1h.01M77.4 130.7h.01M90.4 149.0h.01M78.8 134.7h.01M97.0 153.2h.01M87.6 139.4h.01M84.1 143.0h.01M83.2 118.6h.01M80.6 139.6h.01M81.7 150.2h.01M96.1 149.1h.01M92.7 150.5h.01M90.5 147.8h.01M91.6 147.0h.01M83.4 132.4h.01M83.5 147.4h.01M91.8 131.1h.01M83.6 133.2h.01M93.9 137.9h.01M87.7 132.1h.01M88.4 155.2h.01M85.2 135.5h.01M98.4 146.3h.01M82.7 150.0h.01M82.0 144.7h.01M75.0 129.0h.01M94.1 133.1h.01M85.0 139.6h.01M89.1 134.4h.01M85.3 157.2h.01M97.3 142.4h.01M82.7 133.7h.01M87.4 144.0h.01M97.9 133.8h.01M89.9 134.7h.01M89.8 132.1h.01M91.1 150.8h.01M86.8 135.8h.01M89.7 125.8h.01M99.1 125.6h.01M87.1 130.2h.01M97.3 134.2h.01M86.2 158.1h.01M88.4 131.2h.01M89.0 141.0h.01M84.9 137.2h.01M87.9 146.4h.01M93.3 147.5h.01M88.4 147.1h.01M87.9 150.8h.01M91.3 134.8h.01M95.9 123.8h.01M83.7 131.1h.01M88.3 126.7h.01M82.4 120.1h.01M89.7 131.3h.01M101.2 146.9h.01M82.7 152.4h.01M89.6 149.9h.01M82.9 150.8h.01M95.1 134.9h.01M84.3 135.3h.01M90.5 163.3h.01M99.1 154.2h.01M87.8 135.8h.01M91.1 136.3h.01M86.5 137.0h.01M93.7 138.4h.01M90.4 136.4h.01M88.0 135.8h.01M96.0 141.4h.01M97.3 137.4h.01M94.9 125.2h.01M86.8 138.5h.01M85.5 137.9h.01M83.9 137.4h.01M85.4 139.0h.01M87.4 129.0h.01M86.8 139.4h.01M82.0 140.0h.01M96.0 136.8h.01M92.1 145.3h.01M84.6 152.4h.01M102.9 128.8h.01M100.9 132.0h.01M97.1 120.9h.01M95.3 140.5h.01M82.0 130.8h.01M83.2 130.0h.01M91.1 137.3h.01M75.2 135.9h.01M91.6 140.0h.01M98.4 120.6h.01M90.4 139.4h.01M93.0 125.6h.01M81.8 137.4h.01M89.5 120.9h.01M91.1 139.0h.01M93.1 112.8h.01M91.8 130.1h.01M86.4 146.9h.01M98.4 140.6h.01M88.4 152.2h.01M84.1 137.5h.01M86.2 129.2h.01M90.1 159.6h.01M90.4 144.1h.01M88.9 150.4h.01M90.0 130.2h.01M89.6 153.5h.01M88.6 151.1h.01M88.7 159.5h.01M90.6 145.7h.01M87.4 147.5h.01M87.8 124.2h.01M90.7 126.9h.01M97.2 147.0h.01M89.1 146.0h.01M74.7 154.5h.01M85.4 145.8h.01M103.2 122.8h.01M86.7 142.5h.01M91.4 122.1h.01M83.9 154.0h.01M85.7 144.7h.01M81.5 129.9h.01M79.0 141.8h.01M95.4 140.0h.01M87.5 141.5h.01M91.6 136.2h.01M92.1 158.7h.01M101.3 133.3h.01M82.1 158.4h.01M94.5 151.3h.01M92.4 136.8h.01M94.4 150.3h.01M95.6 128.2h.01M94.7 135.6h.01M87.1 142.6h.01M87.1 162.4h.01M92.2 141.8h.01M88.0 141.6h.01M87.8 145.0h.01M93.8 147.5h.01M82.1 135.8h.01M89.5 126.8h.01M91.1 137.7h.01M89.4 142.9h.01M85.6 154.7h.01M94.8 133.6h.01M91.6 146.6h.01M84.8 135.5h.01M92.9 113.1h.01M81.8 142.4h.01M92.5 129.8h.01M93.8 161.4h.01M90.2 138.7h.01M89.4 128.9h.01M92.1 140.9h.01M93.2 153.5h.01M89.3 140.9h.01M90.9 156.6h.01M81.0 139.1h.01M85.6 140.4h.01M93.7 139.8h.01M93.1 141.0h.01M85.1 132.5h.01M81.4 141.4h.01M86.9 147.6h.01M94.4 130.2h.01M83.1 145.2h.01M84.2 141.2h.01M92.4 135.2h.01M98.9 131.3h.01M91.4 135.0h.01M73.1 137.4h.01M88.2 144.9h.01M88.3 131.8h.01M86.2 136.1h.01M93.3 136.4h.01M95.9 147.7h.01M85.0 149.5h.01M76.6 139.4h.01M83.7 138.1h.01M95.4 139.1h.01M88.1 152.0h.01M84.9 130.8h.01M94.4 145.3h.01M81.2 140.6h.01M93.4 137.5h.01M86.8 140.5h.01M90.2 132.0h.01M93.7 123.3h.01M88.7 160.6h.01M83.2 138.7h.01M76.5 130.8h.01M82.7 139.7h.01M86.3 157.6h.01M84.0 138.8h.01M90.3 145.6h.01M94.0 123.4h.01M101.2 136.0h.01M85.1 122.6h.01M86.6 121.3h.01M90.1 133.1h.01M90.8 131.2h.01M89.5 161.4h.01M95.5 140.7h.01M83.6 153.8h.01M79.7 124.9h.01M96.2 133.1h.01M96.5 144.8h.01M101.1 157.0h.01M92.3 132.8h.01M92.3 153.2h.01M89.8 110.1h.01M87.0 135.4h.01M88.7 135.6h.01M95.3 126.4h.01M91.5 119.2h.01M77.0 128.9h.01M84.9 130.1h.01M85.2 145.2h.01M92.2 139.8h.01M90.1 132.1h.01M83.6 124.8h.01M86.7 127.7h.01M87.2 146.3h.01" stroke="#222" stroke-opacity="0.33" stroke-width="0.8" stroke-linecap="round" fill="none"/>
<path d="M97.0 145.3h.01M83.6 131.2h.01M82.0 148.0h.01M98.3 138.3h.01M103.9 138.3h.01M107.1 138.4h.01M88.4 142.8h.01M81.7 139.3h.01M109.5 141.8h.01M82.1 139.0h.01M91.8 137.0h.01M95.7 145.0h.01M92.4 143.6h.01M94.7 140.6h.01M85.2 143.9h.01M104.2 138.2h.01M84.1 142.1h.01M92.9 144.5h.01M96.4 139.5h.01M79.5 142.5h.01M92.9 134.9h.01M78.6 132.7h.01M97.6 138.3h.01M86.3 139.6h.01M92.3 138.6h.01M98.7 144.1h.01M90.0 146.3h.01M90.9 136.5h.01M93.4 134.3h.01M89.3 135.7h.01M88.1 140.8h.01M69.9 141.6h.01M94.3 139.1h.01M98.4 141.4h.01M88.7 136.0h.01M98.6 143.0h.01M78.7 137.1h.01M81.3 143.3h.01M86.8 135.0h.01M105.6 141.8h.01M94.1 141.0h.01M90.4 140.1h.01M100.0 141.8h.01M87.8 140.4h.01M108.9 137.8h.01M80.1 140.4h.01M81.7 150.5h.01M97.6 142.3h.01M95.3 147.9h.01M82.8 139.8h.01M76.9 145.0h.01M91.3 147.1h.01M89.4 135.8h.01M85.6 143.2h.01M84.5 141.0h.01M85.4 137.1h.01M86.9 146.5h.01M82.2 141.3h.01M99.2 137.0h.01M78.3 146.0h.01M107.6 139.0h.01M81.1 143.5h.01M91.6 136.7h.01M88.4 130.3h.01M84.5 135.1h.01M80.0 142.3h.01M94.3 146.8h.01M67.6 137.3h.01M84.3 145.3h.01M101.3 140.4h.01M92.7 136.9h.01M87.2 138.2h.01M69.0 147.6h.01M98.5 148.3h.01M103.1 141.9h.01M99.4 133.1h.01M82.7 143.4h.01M88.4 133.4h.01M91.8 134.7h.01M91.9 146.3h.01M81.5 138.1h.01M96.9 139.8h.01M93.5 136.5h.01M88.8 130.3h.01M90.2 145.1h.01M81.6 139.2h.01M98.3 144.9h.01M102.4 136.3h.01M88.0 147.0h.01M87.6 141.1h.01M84.1 137.3h.01M64.8 137.7h.01M71.8 135.8h.01M82.9 145.4h.01M98.8 141.5h.01M87.1 134.3h.01M96.2 136.6h.01M90.7 143.7h.01M90.1 139.8h.01M82.7 144.2h.01M96.6 142.8h.01M106.6 133.3h.01M92.0 142.5h.01M94.8 141.1h.01M96.0 133.7h.01M91.1 144.6h.01M91.3 139.1h.01M99.5 132.8h.01M95.4 146.1h.01M89.4 136.6h.01M96.6 138.1h.01M84.3 140.6h.01M76.6 142.6h.01M80.8 137.7h.01M98.4 139.8h.01M94.1 145.5h.01M105.6 148.4h.01M86.7 143.6h.01M76.7 143.1h.01M103.7 136.9h.01M96.0 143.3h.01M90.3 137.3h.01M105.5 134.5h.01M93.3 143.8h.01M93.9 146.3h.01M105.3 141.8h.01M107.9 142.9h.01M80.5 138.6h.01M94.2 140.7h.01M76.3 149.2h.01M77.5 135.3h.01M95.9 140.7h.01M105.8 140.8h.01M95.2 142.9h.01M85.1 134.7h.01M87.6 144.0h.01M89.2 145.0h.01M86.8 143.0h.01M92.1 143.3h.01M91.9 140.7h.01M87.5 145.0h.01M91.5 141.9h.01M97.7 136.3h.01M84.2 139.7h.01M103.4 135.6h.01M82.5 135.9h.01M88.2 135.6h.01M84.4 142.1h.01M81.9 139.9h.01M81.1 139.1h.01M96.6 131.8h.01M92.3 140.8h.01M91.3 141.0h.01M95.6 134.7h.01M90.7 142.5h.01M103.6 134.4h.01M86.4 134.4h.01M91.7 135.6h.01M82.9 143.0h.01" stroke="#222" stroke-opacity="0.28" stroke-width="0.8" stroke-linecap="round" fill="none"/>
<path d="M91.7 135.6h.01M90.6 139.3h.01M88.8 143.4h.01M89.8 141.6h.01M86.1 142.0h.01M89.0 139.4h.01M88.3 142.2h.01M87.9 142.3h.01M88.7 144.9h.01M87.0 141.1h.01M83.7 139.4h.01M84.8 144.4h.01M85.6 140.0h.01M88.5 145.5h.01M89.8 139.5h.01M88.0 145.7h.01M86.0 141.5h.01M85.4 140.2h.01M88.9 142.6h.01M86.9 140.4h.01M90.3 144.7h.01M85.3 149.3h.01M86.8 141.8h.01M86.7 140.4h.01M88.7 137.6h.01M87.6 141.2h.01M90.7 143.5h.01M88.4 144.0h.01M88.7 142.7h.01M83.1 143.6h.01M87.0 144.5h.01M88.1 140.5h.01M86.0 139.0h.01M88.1 141.9h.01M86.0 141.1h.01M88.2 140.1h.01M87.3 140.3h.01M82.9 142.6h.01M87.7 144.9h.01M89.9 139.9h.01M88.7 143.1h.01M87.7 144.9h.01M89.2 138.2h.01M90.3 141.7h.01M86.4 140.0h.01M87.2 138.6h.01M89.6 143.6h.01M85.9 144.9h.01M88.0 142.5h.01M89.3 142.0h.01M87.1 143.9h.01M84.3 138.4h.01M88.5 145.7h.01M84.5 142.3h.01M86.4 141.4h.01M88.7 147.1h.01M90.8 145.3h.01M88.7 142.7h.01M84.2 143.5h.01M85.4 138.7h.01M87.8 137.2h.01M90.8 144.2h.01M88.2 143.8h.01M88.0 142.5h.01M88.9 140.1h.01M88.1 142.8h.01M89.0 138.7h.01M88.0 141.9h.01M88.7 144.0h.01M87.9 143.8h.01M88.4 146.7h.01M88.1 144.0h.01M85.9 141.6h.01M89.0 145.6h.01M85.8 142.1h.01M87.1 142.4h.01M86.7 140.9h.01M87.5 142.7h.01M89.4 139.5h.01M85.8 144.8h.01M88.5 141.7h.01M85.5 145.7h.01M85.6 145.9h.01M88.0 141.8h.01M87.3 144.9h.01M87.6 136.7h.01M86.3 135.4h.01M88.3 145.2h.01M89.4 138.0h.01M91.4 148.1h.01M87.4 135.9h.01M86.0 145.6h.01M91.3 140.5h.01M84.3 139.2h.01M91.0 142.3h.01M85.0 135.6h.01M88.7 144.9h.01M86.7 141.6h.01M87.7 141.2h.01M86.6 140.4h.01M86.5 146.2h.01M88.3 145.6h.01M90.9 134.9h.01M87.5 145.3h.01M87.2 140.4h.01M88.3 140.6h.01M86.1 141.3h.01M87.7 142.3h.01M89.2 142.3h.01M86.7 152.0h.01" stroke="#222" stroke-opacity="0.6" stroke-width="0.9" stroke-linecap="round" fill="none"/>
<path d="M88.2 125.9h.01M88.4 125.4h.01M85.5 126.5h.01M91.6 123.9h.01M87.2 126.8h.01M87.3 127.0h.01M88.6 124.9h.01M88.2 125.6h.01M89.8 123.0h.01M89.5 128.0h.01M89.0 126.6h.01M87.6 126.7h.01M88.4 124.6h.01M86.3 123.3h.01M89.5 126.5h.01M90.9 126.6h.01M90.1 124.5h.01M84.9 125.5h.01M88.0 126.8h.01M88.4 126.1h.01M88.8 126.6h.01M89.1 126.7h.01M87.7 126.2h.01M85.7 124.8h.01M88.1 126.8h.01M87.2 124.5h.01M90.6 125.2h.01M85.2 125.0h.01M86.3 123.1h.01M87.9 128.5h.01M87.2 125.2h.01M91.0 126.4h.01M88.5 128.1h.01M86.3 126.2h.01M89.7 126.5h.01M86.3 125.1h.01M92.2 126.2h.01M88.2 127.7h.01M85.1 126.2h.01M85.2 128.1h.01M86.7 126.4h.01M86.8 126.5h.01M89.3 126.3h.01M88.0 126.6h.01M88.2 125.6h.01M89.9 127.4h.01M86.0 125.0h.01M87.1 126.7h.01M85.9 128.3h.01M88.8 126.5h.01M90.4 125.3h.01M89.4 126.8h.01M91.3 124.9h.01M91.5 127.1h.01M89.2 127.7h.01M88.2 126.0h.01M90.4 125.8h.01M90.9 128.1h.01M89.1 126.5h.01M87.4 125.1h.01" stroke="#222" stroke-opacity="0.7" stroke-width="0.9" stroke-linecap="round" fill="none"/>
<path d="M105.5 130.7h.01M99.4 142.6h.01M95.0 133.9h.01M95.8 159.0h.01M100.7 152.5h.01M108.1 149.1h.01M104.9 136.0h.01M95.9 153.1h.01M105.6 130.9h.01M104.2 142.7h.01M102.6 148.7h.01M107.6 134.4h.01M99.0 151.4h.01M97.9 145.0h.01M98.7 124.8h.01M96.6 148.0h.01M96.6 126.3h.01M96.8 141.0h.01M101.3 143.1h.01M101.4 130.7h.01M96.4 133.2h.01M97.1 144.1h.01M105.1 138.1h.01M103.8 150.1h.01M93.9 132.8h.01M99.8 127.8h.01M107.5 123.3h.01M93.6 147.2h.01M95.7 146.6h.01M94.7 149.7h.01M96.5 146.7h.01M103.6 126.8h.01M95.1 124.5h.01M94.1 148.5h.01M99.0 147.8h.01M105.5 149.5h.01M102.4 136.4h.01M97.4 143.1h.01M103.0 150.0h.01M100.5 137.6h.01M98.8 155.2h.01M100.4 158.2h.01M95.9 148.1h.01M100.1 147.1h.01M95.8 143.3h.01M98.9 137.8h.01M93.8 127.6h.01M97.6 145.2h.01M100.3 142.5h.01M100.6 128.2h.01M103.9 140.9h.01M95.8 135.4h.01M103.6 142.0h.01M91.7 159.2h.01M92.5 155.7h.01M103.0 131.3h.01M104.7 151.6h.01M103.8 146.2h.01M100.6 142.3h.01M96.8 142.8h.01M104.9 139.4h.01M108.0 126.4h.01M99.3 127.1h.01M91.3 142.6h.01M97.7 135.4h.01M94.4 138.3h.01M91.9 138.6h.01M96.8 129.2h.01M101.0 123.7h.01M101.1 142.8h.01M101.5 141.6h.01M102.7 138.0h.01M94.3 143.8h.01M95.7 137.1h.01M99.7 132.1h.01M103.6 126.6h.01M104.7 140.1h.01M106.8 150.3h.01M102.2 143.0h.01M99.7 128.1h.01M96.7 131.9h.01M96.0 139.2h.01M95.6 141.6h.01M98.0 136.2h.01M100.9 144.5h.01M93.2 137.6h.01M112.3 140.5h.01M101.2 132.4h.01M103.6 154.1h.01M101.8 139.2h.01M99.3 123.4h.01M101.8 137.6h.01M101.0 143.7h.01M100.1 159.2h.01M103.3 134.5h.01M101.9 146.0h.01M99.4 153.0h.01M97.5 124.7h.01M94.4 143.8h.01M94.8 141.7h.01M92.4 143.8h.01M98.0 132.2h.01M96.7 137.9h.01M103.3 142.5h.01M98.3 141.8h.01M103.2 144.5h.01M107.0 133.9h.01M102.9 141.5h.01M96.4 145.7h.01M102.9 149.1h.01M101.3 132.5h.01M99.9 143.8h.01M106.6 141.5h.01M99.9 154.3h.01M99.5 136.4h.01M100.5 147.3h.01M99.9 125.4h.01M97.4 149.3h.01M95.9 148.0h.01M99.9 133.3h.01" stroke="#222" stroke-opacity="0.3" stroke-width="0.8" stroke-linecap="round" fill="none"/>
<path d="M94.2 145.6h.01M79.8 148.5h.01M92.8 154.8h.01M93.3 155.8h.01M90.9 153.6h.01M88.2 161.1h.01M94.0 149.6h.01M94.0 151.5h.01M93.9 157.3h.01M88.6 161.0h.01M96.3 153.6h.01M90.8 154.3h.01M88.1 159.0h.01M91.5 156.6h.01M84.6 159.3h.01M84.8 159.8h.01M89.8 156.9h.01M87.9 152.0h.01M85.1 156.3h.01M89.8 157.6h.01M88.8 160.0h.01M90.9 156.8h.01M89.0 156.1h.01M93.4 152.7h.01M84.3 158.1h.01M92.3 156.3h.01M91.4 149.8h.01M85.4 156.2h.01M90.0 150.1h.01M92.5 146.8h.01M96.3 151.0h.01M87.4 151.1h.01M83.6 154.6h.01M80.9 154.5h.01M91.0 154.7h.01M90.1 149.1h.01M81.1 149.7h.01M95.4 157.7h.01M93.3 161.5h.01M95.2 162.6h.01M81.9 156.6h.01M93.6 156.2h.01M88.9 145.8h.01M90.7 152.0h.01M96.9 159.8h.01M89.8 154.2h.01M95.6 153.6h.01M95.6 157.2h.01M88.8 158.0h.01M98.8 148.3h.01M93.9 159.8h.01M88.9 163.4h.01M93.5 158.9h.01M85.2 159.0h.01M83.8 158.7h.01M100.8 151.8h.01M97.8 150.8h.01M90.5 159.7h.01M83.0 157.8h.01M86.4 153.1h.01M94.3 155.8h.01M92.2 156.3h.01M90.8 154.8h.01M90.3 159.7h.01M92.4 145.6h.01M89.8 158.3h.01M103.0 153.2h.01M88.8 150.5h.01M89.8 147.5h.01M86.0 155.8h.01M82.7 154.8h.01M86.8 162.4h.01M90.9 159.5h.01M101.9 153.0h.01M98.6 151.7h.01M95.4 148.4h.01M88.2 155.2h.01M88.9 146.6h.01M90.8 154.7h.01M97.5 159.0h.01M79.4 156.8h.01M95.4 155.7h.01M86.7 149.4h.01M88.3 151.5h.01M88.8 154.6h.01M96.5 151.3h.01M91.8 150.7h.01M91.5 161.3h.01M87.3 150.3h.01M90.3 156.3h.01M87.0 158.2h.01M90.5 159.5h.01M83.3 159.9h.01M96.4 152.1h.01M100.0 157.3h.01M83.7 150.9h.01M86.5 152.9h.01M89.0 157.6h.01M89.1 154.6h.01M85.4 146.0h.01M86.6 150.1h.01M94.5 144.2h.01M95.8 142.0h.01M89.2 156.2h.01" stroke="#222" stroke-opacity="0.28" stroke-width="0.8" stroke-linecap="round" fill="none"/>
<ellipse cx="87.6" cy="142.3" rx="3.0" ry="4.8" transform="rotate(0 87.6 142.3)" fill="none" stroke="#1a1a1a" stroke-opacity="0.85" stroke-width="1.0"/>
<ellipse cx="87.8" cy="142.3" rx="1.4" ry="2.8" transform="rotate(0 87.8 142.3)" fill="none" stroke="#1a1a1a" stroke-opacity="0.6" stroke-width="0.6"/>
<ellipse cx="88.7" cy="126.3" rx="2.3" ry="1.4" transform="rotate(0 88.7 126.3)" fill="none" stroke="#1a1a1a" stroke-opacity="0.8" stroke-width="0.8"/>
<ellipse cx="88" cy="138" rx="6.5" ry="13" transform="rotate(0 88 138)" fill="none" stroke="#1a1a1a" stroke-opacity="0.22" stroke-width="0.5"/>
<ellipse cx="100.5" cy="139" rx="6.5" ry="15" transform="rotate(0 100.5 139)" fill="none" stroke="#1a1a1a" stroke-opacity="0.28" stroke-width="0.55"/>
<ellipse cx="89" cy="150" rx="5" ry="11" transform="rotate(0 89 150)" fill="none" stroke="#1a1a1a" stroke-opacity="0.22" stroke-width="0.5"/>
<rect x="62.1" y="105.8" width="61.0" height="58.7" fill="none" stroke="#161616" stroke-width="1.4"/>
<line x1="94.5" y1="105.8" x2="94.5" y2="164.5" stroke="#161616" stroke-width="1.2"/>
<line x1="62.1" y1="138.6" x2="123.1" y2="138.6" stroke="#161616" stroke-width="1.2"/>
<text transform="translate(63.9,111.2) scale(0.9,1)" font-size="5.0" text-anchor="start" fill="#7c7c7c">20.7</text>
<text transform="translate(121.6,111.2) scale(0.9,1)" font-size="5.0" text-anchor="end" fill="#7c7c7c">6.06</text>
<text transform="translate(63.9,162.9) scale(0.9,1)" font-size="5.0" text-anchor="start" fill="#7c7c7c">61.3</text>
<text transform="translate(121.6,162.9) scale(0.9,1)" font-size="5.0" text-anchor="end" fill="#7c7c7c">12</text>
<line x1="58.7" y1="110.6" x2="62.1" y2="110.6" stroke="#161616" stroke-width="1.5"/>
<text transform="translate(54.9,113.2) scale(0.815,1)" font-size="9.2" text-anchor="end">10<tspan dy="-3.4" dx="0.2" font-size="5.0">5</tspan></text>
<line x1="58.7" y1="124.3" x2="62.1" y2="124.3" stroke="#161616" stroke-width="1.5"/>
<text transform="translate(54.9,126.9) scale(0.815,1)" font-size="9.2" text-anchor="end">10<tspan dy="-3.4" dx="0.2" font-size="5.0">4</tspan></text>
<line x1="58.7" y1="138.0" x2="62.1" y2="138.0" stroke="#161616" stroke-width="1.5"/>
<text transform="translate(54.9,140.6) scale(0.815,1)" font-size="9.2" text-anchor="end">10<tspan dy="-3.4" dx="0.2" font-size="5.0">3</tspan></text>
<line x1="58.7" y1="151.7" x2="62.1" y2="151.7" stroke="#161616" stroke-width="1.5"/>
<text transform="translate(54.9,154.3) scale(0.815,1)" font-size="9.2" text-anchor="end">10<tspan dy="-3.4" dx="0.2" font-size="5.0">2</tspan></text>
<line x1="60.0" y1="114.7" x2="62.1" y2="114.7" stroke="#161616" stroke-width="1.2"/>
<line x1="60.0" y1="117.4" x2="62.1" y2="117.4" stroke="#161616" stroke-width="1.2"/>
<line x1="60.0" y1="119.6" x2="62.1" y2="119.6" stroke="#161616" stroke-width="1.2"/>
<line x1="60.0" y1="121.6" x2="62.1" y2="121.6" stroke="#161616" stroke-width="1.2"/>
<line x1="60.0" y1="122.9" x2="62.1" y2="122.9" stroke="#161616" stroke-width="1.2"/>
<line x1="60.0" y1="128.4" x2="62.1" y2="128.4" stroke="#161616" stroke-width="1.2"/>
<line x1="60.0" y1="131.2" x2="62.1" y2="131.2" stroke="#161616" stroke-width="1.2"/>
<line x1="60.0" y1="133.3" x2="62.1" y2="133.3" stroke="#161616" stroke-width="1.2"/>
<line x1="60.0" y1="135.3" x2="62.1" y2="135.3" stroke="#161616" stroke-width="1.2"/>
<line x1="60.0" y1="136.6" x2="62.1" y2="136.6" stroke="#161616" stroke-width="1.2"/>
<line x1="60.0" y1="142.1" x2="62.1" y2="142.1" stroke="#161616" stroke-width="1.2"/>
<line x1="60.0" y1="144.8" x2="62.1" y2="144.8" stroke="#161616" stroke-width="1.2"/>
<line x1="60.0" y1="147.0" x2="62.1" y2="147.0" stroke="#161616" stroke-width="1.2"/>
<line x1="60.0" y1="149.0" x2="62.1" y2="149.0" stroke="#161616" stroke-width="1.2"/>
<line x1="60.0" y1="150.3" x2="62.1" y2="150.3" stroke="#161616" stroke-width="1.2"/>
<line x1="60.0" y1="155.0" x2="62.1" y2="155.0" stroke="#161616" stroke-width="1.2"/>
<line x1="60.0" y1="157.2" x2="62.1" y2="157.2" stroke="#161616" stroke-width="1.2"/>
<line x1="60.0" y1="159.0" x2="62.1" y2="159.0" stroke="#161616" stroke-width="1.2"/>
<line x1="60.0" y1="160.6" x2="62.1" y2="160.6" stroke="#161616" stroke-width="1.2"/>
<line x1="60.0" y1="161.7" x2="62.1" y2="161.7" stroke="#161616" stroke-width="1.2"/>
<text transform="translate(53.1,163.8) scale(0.8,1)" font-size="9.2" text-anchor="middle">0</text>
<rect x="59.7" y="159.5" width="3.2" height="6.6" fill="#161616"/>
<line x1="65.9" y1="164.5" x2="65.9" y2="168.5" stroke="#161616" stroke-width="1.5"/>
<text transform="translate(65.6,179.0) scale(0.8,1)" font-size="9.2" text-anchor="middle">0</text>
<line x1="77.3" y1="164.5" x2="77.3" y2="168.5" stroke="#161616" stroke-width="1.5"/>
<text transform="translate(76.7,179.0) scale(0.815,1)" font-size="9.2" text-anchor="middle">10<tspan dy="-3.4" dx="0.2" font-size="5.0">2</tspan></text>
<line x1="90.7" y1="164.5" x2="90.7" y2="168.5" stroke="#161616" stroke-width="1.5"/>
<text transform="translate(90.1,179.0) scale(0.815,1)" font-size="9.2" text-anchor="middle">10<tspan dy="-3.4" dx="0.2" font-size="5.0">3</tspan></text>
<line x1="104.3" y1="164.5" x2="104.3" y2="168.5" stroke="#161616" stroke-width="1.5"/>
<text transform="translate(103.7,179.0) scale(0.815,1)" font-size="9.2" text-anchor="middle">10<tspan dy="-3.4" dx="0.2" font-size="5.0">4</tspan></text>
<line x1="117.9" y1="164.5" x2="117.9" y2="168.5" stroke="#161616" stroke-width="1.5"/>
<text transform="translate(117.3,179.0) scale(0.815,1)" font-size="9.2" text-anchor="middle">10<tspan dy="-3.4" dx="0.2" font-size="5.0">5</tspan></text>
<line x1="68.8" y1="164.5" x2="68.8" y2="167.2" stroke="#161616" stroke-width="1.2"/>
<line x1="71.0" y1="164.5" x2="71.0" y2="167.2" stroke="#161616" stroke-width="1.2"/>
<line x1="73.0" y1="164.5" x2="73.0" y2="167.2" stroke="#161616" stroke-width="1.2"/>
<line x1="74.6" y1="164.5" x2="74.6" y2="167.2" stroke="#161616" stroke-width="1.2"/>
<line x1="75.9" y1="164.5" x2="75.9" y2="167.2" stroke="#161616" stroke-width="1.2"/>
<line x1="80.7" y1="164.5" x2="80.7" y2="167.2" stroke="#161616" stroke-width="1.2"/>
<line x1="83.3" y1="164.5" x2="83.3" y2="167.2" stroke="#161616" stroke-width="1.2"/>
<line x1="85.6" y1="164.5" x2="85.6" y2="167.2" stroke="#161616" stroke-width="1.2"/>
<line x1="87.5" y1="164.5" x2="87.5" y2="167.2" stroke="#161616" stroke-width="1.2"/>
<line x1="89.1" y1="164.5" x2="89.1" y2="167.2" stroke="#161616" stroke-width="1.2"/>
<line x1="94.1" y1="164.5" x2="94.1" y2="167.2" stroke="#161616" stroke-width="1.2"/>
<line x1="96.8" y1="164.5" x2="96.8" y2="167.2" stroke="#161616" stroke-width="1.2"/>
<line x1="99.1" y1="164.5" x2="99.1" y2="167.2" stroke="#161616" stroke-width="1.2"/>
<line x1="101.0" y1="164.5" x2="101.0" y2="167.2" stroke="#161616" stroke-width="1.2"/>
<line x1="102.7" y1="164.5" x2="102.7" y2="167.2" stroke="#161616" stroke-width="1.2"/>
<line x1="107.7" y1="164.5" x2="107.7" y2="167.2" stroke="#161616" stroke-width="1.2"/>
<line x1="110.4" y1="164.5" x2="110.4" y2="167.2" stroke="#161616" stroke-width="1.2"/>
<line x1="112.7" y1="164.5" x2="112.7" y2="167.2" stroke="#161616" stroke-width="1.2"/>
<line x1="114.6" y1="164.5" x2="114.6" y2="167.2" stroke="#161616" stroke-width="1.2"/>
<line x1="116.3" y1="164.5" x2="116.3" y2="167.2" stroke="#161616" stroke-width="1.2"/>
<path d="M168.6 129.7h.01M179.4 128.5h.01M174.2 140.8h.01M178.2 126.5h.01M181.8 138.6h.01M180.2 124.9h.01M180.6 139.3h.01M178.9 133.3h.01M179.4 140.7h.01M171.0 145.4h.01M173.6 135.4h.01M172.6 150.4h.01M179.8 150.5h.01M165.7 149.2h.01M176.8 152.8h.01M174.6 141.8h.01M170.8 162.2h.01M172.9 152.3h.01M170.2 138.7h.01M172.5 139.1h.01M171.9 147.3h.01M178.3 122.7h.01M172.3 125.9h.01M180.5 126.5h.01M177.2 142.0h.01M174.4 118.9h.01M184.0 138.7h.01M178.4 151.9h.01M169.2 129.4h.01M184.1 161.6h.01M170.2 139.4h.01M179.9 138.7h.01M181.9 147.0h.01M174.3 147.7h.01M172.1 154.2h.01M171.0 154.7h.01M188.5 121.1h.01M184.0 124.1h.01M174.3 160.5h.01M180.6 147.8h.01M176.7 142.3h.01M177.2 138.2h.01M173.1 126.8h.01M184.3 140.1h.01M185.2 148.5h.01M177.2 128.3h.01M173.3 140.9h.01M174.0 137.0h.01M162.1 135.9h.01M173.3 135.1h.01M173.0 123.2h.01M170.0 156.6h.01M169.5 134.6h.01M170.1 138.6h.01M171.8 162.4h.01M169.0 155.3h.01M172.1 145.3h.01M188.6 140.2h.01M174.7 108.8h.01M172.8 137.9h.01M175.4 143.0h.01M168.7 130.1h.01M178.9 137.5h.01M174.9 147.7h.01M175.3 142.1h.01M168.8 140.5h.01M165.4 159.9h.01M170.5 159.0h.01M172.0 139.0h.01M181.9 142.8h.01M175.7 137.5h.01M173.3 132.4h.01M170.5 120.8h.01M173.9 131.8h.01M185.3 127.4h.01M172.8 139.1h.01M166.3 157.7h.01M178.7 143.8h.01M185.4 146.0h.01M173.1 143.6h.01M172.2 145.8h.01M167.5 146.2h.01M173.1 135.9h.01M172.7 139.2h.01M165.2 147.2h.01M173.7 160.4h.01M174.7 151.0h.01M174.6 139.1h.01M168.1 135.5h.01M171.6 113.9h.01M173.2 132.6h.01M176.5 152.0h.01M173.1 153.7h.01M181.7 149.0h.01M173.0 141.8h.01M183.8 157.7h.01M181.1 121.6h.01M162.3 160.3h.01M178.8 155.5h.01M178.0 137.3h.01M177.4 140.2h.01M183.1 149.9h.01M169.6 132.3h.01M180.4 150.4h.01M176.4 144.5h.01M167.9 131.2h.01M177.7 120.4h.01M177.5 147.1h.01M178.5 150.1h.01M185.4 143.9h.01M170.3 121.8h.01M162.4 141.8h.01M179.8 122.2h.01M175.8 132.8h.01M173.4 143.1h.01M175.1 127.6h.01M179.0 139.2h.01M164.5 149.3h.01M183.6 136.4h.01M183.7 123.2h.01M173.5 155.1h.01M182.1 146.4h.01M180.7 136.2h.01M178.8 151.3h.01M180.1 144.9h.01M179.5 145.5h.01M178.2 123.6h.01M178.2 130.3h.01M172.8 141.3h.01M176.2 126.1h.01M171.9 143.4h.01M172.6 141.0h.01M176.1 143.1h.01M171.8 142.7h.01M178.0 126.7h.01M179.2 129.6h.01M176.9 147.5h.01M178.4 127.7h.01M169.8 127.6h.01M178.0 142.2h.01M164.9 148.8h.01M181.4 134.9h.01M174.4 143.4h.01M169.2 135.9h.01M177.9 136.8h.01M174.8 141.9h.01M184.3 143.6h.01M176.7 135.4h.01M181.7 141.4h.01M174.7 155.2h.01M182.3 130.4h.01M173.1 154.8h.01M172.2 158.0h.01M173.9 162.2h.01M169.5 119.1h.01M166.8 162.5h.01M170.8 135.8h.01M171.6 132.4h.01M175.7 142.0h.01M171.4 134.8h.01M182.2 151.2h.01M180.3 154.4h.01M173.7 150.3h.01M183.9 131.5h.01M182.3 113.4h.01M164.3 124.4h.01M169.3 129.9h.01M172.1 149.6h.01M170.7 136.5h.01M167.6 122.9h.01M173.8 132.3h.01M179.7 141.8h.01M164.8 148.6h.01M168.1 136.1h.01M169.0 131.4h.01M171.4 127.4h.01M170.7 137.4h.01M178.7 148.3h.01M184.6 122.6h.01M172.6 153.9h.01M168.5 138.6h.01M178.7 157.5h.01M177.9 144.0h.01M173.8 147.3h.01M175.3 144.2h.01M171.2 139.0h.01M169.8 128.4h.01M170.0 131.1h.01M171.0 134.0h.01M166.3 143.8h.01M176.4 157.5h.01M161.7 124.7h.01M169.3 130.7h.01M175.0 131.0h.01M170.4 148.4h.01M173.7 122.6h.01M180.9 138.6h.01M182.2 139.6h.01M172.7 143.1h.01M181.8 141.6h.01M173.0 125.1h.01M175.7 128.5h.01M174.1 125.0h.01M169.9 129.6h.01M171.0 127.8h.01M181.4 148.9h.01M172.8 128.9h.01M180.7 137.6h.01M177.8 151.4h.01M172.4 145.1h.01M177.1 135.6h.01M173.7 133.5h.01M156.0 136.0h.01M183.7 151.5h.01M189.6 141.1h.01M179.5 133.5h.01M170.5 130.7h.01M177.2 148.8h.01M164.1 148.0h.01M179.7 149.0h.01M167.6 142.5h.01M176.5 125.6h.01M170.9 134.9h.01M163.9 133.5h.01M182.1 144.6h.01M170.0 140.7h.01M176.7 146.7h.01M169.2 144.4h.01M171.0 134.8h.01M170.0 131.5h.01M177.3 120.9h.01M169.7 137.1h.01M174.2 157.4h.01M166.8 146.5h.01M174.1 161.8h.01M173.5 162.1h.01M169.3 144.2h.01M168.6 133.7h.01M167.8 135.8h.01M183.1 134.4h.01M188.2 157.9h.01M176.3 140.4h.01M176.3 132.0h.01M177.9 141.3h.01M163.9 140.6h.01M177.8 140.8h.01M176.3 140.3h.01M172.0 151.7h.01M182.3 136.9h.01M179.0 128.4h.01M181.5 131.2h.01M174.8 150.6h.01M171.9 140.7h.01M180.1 134.2h.01M176.5 152.2h.01M176.0 131.7h.01M172.4 137.5h.01M174.7 147.1h.01M166.1 139.4h.01M175.7 156.6h.01M166.6 130.6h.01M179.5 139.7h.01M180.6 139.7h.01M171.1 139.6h.01M181.3 148.1h.01M175.7 141.8h.01M180.4 146.9h.01M175.9 148.1h.01M175.1 128.1h.01M179.5 153.3h.01M182.2 139.5h.01M168.1 144.6h.01M171.4 119.9h.01M175.4 131.9h.01M175.0 134.9h.01M179.0 149.4h.01M177.3 152.9h.01M165.3 148.2h.01M180.2 135.9h.01M175.2 127.3h.01M172.2 143.3h.01M167.8 119.2h.01M172.7 131.1h.01M169.4 138.4h.01M167.2 152.0h.01M180.8 140.5h.01M171.4 139.5h.01M174.0 131.6h.01M171.1 144.7h.01M169.7 133.3h.01M172.2 129.4h.01M176.0 126.4h.01M179.6 147.8h.01M174.4 149.3h.01M180.5 136.0h.01M174.3 133.6h.01M172.6 136.0h.01M175.0 145.7h.01M186.4 143.7h.01M179.6 137.7h.01M183.4 141.4h.01M173.6 137.1h.01M174.7 135.9h.01M175.5 159.0h.01M174.9 132.0h.01M164.6 139.0h.01M169.2 131.9h.01M175.3 143.8h.01M177.1 152.4h.01M169.5 133.1h.01M169.8 129.3h.01M171.0 131.0h.01M178.2 128.7h.01M186.2 118.1h.01M178.9 123.3h.01M171.9 127.0h.01M174.5 145.1h.01M172.3 133.0h.01M169.2 131.0h.01M169.9 132.7h.01M174.8 149.3h.01M170.7 118.4h.01M172.5 148.7h.01M169.0 143.8h.01M168.3 126.3h.01M175.6 120.1h.01M172.2 111.0h.01M168.8 143.8h.01M171.7 132.2h.01M177.2 130.0h.01M168.3 135.3h.01M174.0 141.2h.01M173.4 152.3h.01M177.3 138.2h.01M186.6 123.1h.01M175.6 131.4h.01M185.8 142.7h.01M178.7 143.9h.01M182.1 133.8h.01M179.2 121.4h.01M177.3 151.7h.01M178.9 146.0h.01M164.4 140.5h.01M172.5 155.8h.01M177.2 146.6h.01M181.3 145.2h.01M167.1 131.0h.01M163.2 152.5h.01M173.3 126.0h.01M176.9 135.1h.01M172.7 153.4h.01M163.4 124.0h.01M173.8 136.9h.01M180.3 135.8h.01M177.1 157.9h.01M167.0 124.4h.01M170.5 137.3h.01M168.4 142.3h.01M170.2 151.6h.01M177.0 146.8h.01M175.4 141.7h.01M165.6 137.2h.01M164.8 153.6h.01M168.2 129.8h.01M171.8 162.9h.01M168.4 157.4h.01M173.1 133.7h.01M174.1 133.6h.01M170.5 147.1h.01M171.9 149.0h.01M177.5 149.4h.01M182.7 150.9h.01M169.2 153.8h.01M161.1 153.0h.01M180.8 128.2h.01M181.1 119.5h.01M179.6 135.2h.01M172.8 137.7h.01M171.3 147.4h.01M174.0 139.1h.01M174.6 135.7h.01M168.9 145.9h.01M178.7 127.0h.01M179.4 153.0h.01M175.2 155.2h.01M162.7 154.2h.01M170.3 142.8h.01M172.1 146.7h.01M166.5 136.4h.01M176.6 138.4h.01M170.3 155.5h.01M166.1 140.5h.01M173.4 135.7h.01M177.8 142.1h.01M173.3 146.6h.01M173.9 145.3h.01M181.1 142.2h.01M174.7 133.5h.01M181.9 149.9h.01M177.2 142.9h.01M169.9 140.5h.01M175.9 127.2h.01M169.2 138.4h.01M184.5 143.5h.01M166.6 153.2h.01M179.1 147.2h.01M171.4 138.4h.01M186.0 151.6h.01M198.8 120.2h.01M165.9 135.1h.01M169.5 132.5h.01M178.2 153.9h.01M166.7 145.8h.01M178.9 142.4h.01M181.6 152.1h.01M170.0 141.2h.01M175.8 126.9h.01M173.1 150.6h.01M176.4 140.0h.01M188.2 146.4h.01M179.5 130.5h.01M180.9 135.0h.01M173.4 135.3h.01M167.5 145.9h.01M167.8 148.7h.01M170.1 153.4h.01M176.2 152.3h.01M168.5 145.9h.01M178.4 142.8h.01M173.8 133.5h.01M157.0 145.2h.01M167.6 128.6h.01M176.4 111.3h.01M170.3 147.2h.01M174.5 137.5h.01M170.2 141.7h.01M166.1 133.8h.01M178.7 130.0h.01M173.7 135.8h.01M167.7 118.6h.01M169.7 131.5h.01M168.8 139.2h.01M176.1 146.6h.01M176.3 127.3h.01M181.9 143.6h.01M178.4 126.0h.01M177.2 151.9h.01M171.3 141.6h.01M174.1 147.0h.01M175.3 142.8h.01M169.5 127.1h.01M169.1 145.6h.01M181.6 133.0h.01M165.6 143.9h.01M174.2 130.6h.01M182.6 147.6h.01M174.4 125.1h.01M181.2 152.2h.01M178.9 157.5h.01M168.9 129.2h.01M179.2 144.8h.01M174.2 134.7h.01M180.0 142.7h.01M179.2 127.6h.01M174.8 144.5h.01M180.0 121.9h.01M173.4 132.9h.01M174.5 138.5h.01M176.8 148.5h.01M175.9 139.2h.01M179.3 155.2h.01M174.8 131.3h.01M184.1 149.9h.01M186.3 135.5h.01M172.4 138.1h.01M174.0 124.1h.01M179.0 123.8h.01M159.4 139.5h.01M168.7 142.8h.01M168.2 125.3h.01M163.3 126.3h.01M172.9 163.2h.01M178.2 133.0h.01M181.8 142.7h.01M164.3 120.9h.01M166.3 133.7h.01M174.7 133.3h.01M171.6 129.8h.01M175.4 148.6h.01M168.7 153.6h.01M169.9 136.9h.01M183.6 146.6h.01M174.8 119.1h.01M174.9 136.1h.01M173.3 152.0h.01M171.5 159.6h.01M174.8 141.8h.01M172.8 141.1h.01M181.9 142.7h.01M169.1 131.6h.01M180.9 146.0h.01M169.9 138.7h.01M175.0 146.3h.01M169.3 141.1h.01M167.4 131.6h.01M173.3 154.8h.01M174.0 158.2h.01M176.6 154.2h.01M173.6 120.4h.01" stroke="#222" stroke-opacity="0.36" stroke-width="0.8" stroke-linecap="round" fill="none"/>
<path d="M157.5 139.3h.01M192.9 140.4h.01M172.5 143.4h.01M173.7 139.5h.01M178.8 142.6h.01M171.8 137.8h.01M191.4 137.6h.01M168.9 140.3h.01M175.7 142.2h.01M191.0 146.2h.01M176.7 141.5h.01M185.7 140.5h.01M178.5 136.7h.01M180.6 140.7h.01M164.2 142.0h.01M196.9 142.4h.01M169.9 146.1h.01M180.2 141.8h.01M190.6 144.6h.01M195.7 137.8h.01M173.1 140.7h.01M178.8 136.3h.01M179.6 135.4h.01M172.0 140.0h.01M179.3 142.3h.01M170.2 142.4h.01M179.7 140.6h.01M177.3 139.0h.01M193.2 146.5h.01M179.3 146.3h.01M169.2 138.9h.01M174.1 142.8h.01M174.1 137.4h.01M163.6 136.6h.01M185.4 142.9h.01M164.4 148.4h.01M172.7 139.2h.01M175.5 141.2h.01M173.6 140.9h.01M183.9 144.6h.01M171.0 140.3h.01M170.3 139.3h.01M176.1 139.7h.01M182.3 137.3h.01M180.5 143.9h.01M174.2 139.7h.01M182.4 139.5h.01M174.0 141.8h.01M154.9 143.8h.01M179.2 143.3h.01M164.7 139.3h.01M180.9 143.2h.01M171.7 139.2h.01M190.7 142.1h.01M188.0 135.7h.01M180.8 138.8h.01M172.5 146.0h.01M167.6 137.3h.01M170.8 140.0h.01M177.3 142.7h.01M188.1 142.9h.01M192.8 145.2h.01M181.9 140.4h.01M189.3 139.8h.01M185.8 141.1h.01M172.0 143.6h.01M183.1 142.2h.01M186.8 141.5h.01M170.5 141.3h.01M193.7 137.2h.01M160.8 141.0h.01M167.9 146.3h.01M178.5 137.3h.01M176.5 137.3h.01M181.4 144.7h.01M187.8 145.2h.01M176.9 145.7h.01M181.4 136.0h.01M189.2 137.5h.01M171.8 134.8h.01M169.6 132.7h.01M166.0 137.7h.01M166.4 139.5h.01M184.1 139.8h.01M180.9 145.4h.01M171.6 146.9h.01M176.6 140.8h.01M180.2 146.4h.01M166.2 144.7h.01M172.7 141.4h.01M168.0 131.0h.01M187.4 144.0h.01M167.6 137.4h.01M166.3 140.8h.01M195.2 140.5h.01M161.9 143.9h.01M168.9 134.7h.01M180.5 141.0h.01M178.5 143.8h.01M185.5 132.7h.01M178.5 145.6h.01M188.1 136.9h.01M160.7 136.6h.01M180.5 140.2h.01M184.3 140.3h.01M165.7 136.6h.01M174.9 144.3h.01M190.2 137.0h.01M181.0 140.7h.01M166.7 136.3h.01M190.9 139.3h.01M176.2 142.8h.01M180.2 143.7h.01M169.8 139.5h.01M179.3 142.4h.01M170.5 134.2h.01M184.7 144.4h.01M185.5 140.5h.01M161.0 139.4h.01M195.1 142.2h.01M179.2 134.5h.01M171.2 144.9h.01M180.0 140.5h.01M188.2 143.8h.01M181.9 140.3h.01M180.8 145.1h.01M179.8 136.0h.01M175.4 139.9h.01M180.7 146.0h.01M176.4 139.3h.01M183.6 142.9h.01M170.0 142.8h.01M178.7 142.4h.01M163.4 133.2h.01M163.6 134.3h.01M185.7 145.0h.01M165.5 146.8h.01M166.9 137.8h.01M196.3 135.9h.01M183.3 144.3h.01M186.9 143.6h.01M179.3 147.1h.01M176.3 141.4h.01M180.6 139.7h.01M175.7 145.8h.01M191.5 143.4h.01M176.1 139.0h.01M173.6 139.6h.01M173.1 140.7h.01M175.0 145.3h.01M164.4 139.4h.01M184.3 139.4h.01M173.4 143.2h.01M176.3 137.2h.01M178.4 143.5h.01M162.0 144.6h.01M161.7 143.8h.01M165.3 141.9h.01M176.7 145.1h.01M176.4 139.3h.01" stroke="#222" stroke-opacity="0.28" stroke-width="0.8" stroke-linecap="round" fill="none"/>
<path d="M172.6 144.6h.01M173.4 148.2h.01M174.3 150.2h.01M174.8 144.4h.01M173.6 146.9h.01M174.9 136.2h.01M174.3 141.5h.01M174.2 147.8h.01M170.9 142.8h.01M175.2 134.0h.01M174.1 143.5h.01M172.9 148.4h.01M175.1 143.6h.01M175.8 151.5h.01M174.0 148.1h.01M175.0 152.9h.01M174.9 147.2h.01M173.9 147.5h.01M176.1 143.1h.01M173.6 138.3h.01M177.5 141.4h.01M173.0 140.4h.01M175.5 145.5h.01M170.7 144.3h.01M176.5 143.3h.01M173.9 159.3h.01M173.4 142.4h.01M174.7 156.8h.01M174.4 134.7h.01M173.5 142.4h.01M174.9 141.6h.01M174.0 136.6h.01M171.9 143.9h.01M176.2 138.3h.01M171.4 150.0h.01M174.3 147.9h.01M173.5 144.9h.01M173.6 143.6h.01M176.4 141.4h.01M173.2 143.7h.01M173.5 152.8h.01M173.5 145.8h.01M171.9 146.6h.01M174.7 147.2h.01M171.4 140.2h.01M169.8 152.7h.01M173.6 152.6h.01M176.6 149.2h.01M172.8 142.5h.01M174.9 132.9h.01M175.8 151.7h.01M175.1 142.1h.01M174.3 134.9h.01M172.3 141.2h.01M172.6 152.7h.01M174.4 130.4h.01M175.5 146.4h.01M173.4 139.7h.01M176.8 144.9h.01M174.2 134.9h.01M172.9 148.5h.01M174.0 141.1h.01M173.3 134.9h.01M170.1 146.5h.01M171.6 135.0h.01M174.2 148.7h.01M173.2 149.6h.01M173.8 126.4h.01M176.2 137.6h.01M176.1 142.0h.01M173.6 141.0h.01M172.2 146.9h.01M176.2 150.7h.01M172.9 146.3h.01M175.3 146.8h.01M171.8 154.8h.01M172.6 139.0h.01M174.0 144.9h.01M172.9 136.4h.01M171.9 143.6h.01M170.9 149.8h.01M174.7 144.8h.01M174.1 138.8h.01M172.9 148.5h.01M173.0 152.3h.01M175.3 147.4h.01M173.4 138.5h.01M173.5 138.3h.01M173.2 141.6h.01M172.9 149.8h.01M172.4 139.4h.01M175.5 145.0h.01M174.5 140.1h.01M174.2 150.8h.01M173.8 145.9h.01M175.6 146.9h.01M175.6 137.0h.01M171.1 137.4h.01M174.4 139.9h.01M170.7 153.5h.01M175.7 140.6h.01M172.8 139.7h.01M174.8 146.1h.01M174.0 151.1h.01M172.5 137.0h.01M173.7 143.3h.01M173.9 145.8h.01M171.4 152.3h.01M171.1 145.4h.01M174.3 148.1h.01M174.1 139.0h.01M173.4 136.0h.01M173.5 142.3h.01M170.9 155.6h.01M172.8 146.5h.01M175.7 143.4h.01M173.1 137.4h.01M172.6 139.6h.01M173.5 147.9h.01M174.0 151.8h.01M174.3 144.8h.01M169.2 142.7h.01M174.1 135.4h.01M173.6 139.7h.01M173.4 143.3h.01M173.3 143.2h.01M174.3 145.3h.01M172.7 148.6h.01M173.8 145.6h.01M176.4 152.7h.01M177.0 142.2h.01M174.4 146.2h.01M173.9 142.7h.01M175.0 149.8h.01M177.0 140.6h.01M174.4 139.4h.01M173.3 130.5h.01M176.9 134.8h.01M173.9 133.8h.01M173.2 137.9h.01M170.6 137.8h.01M173.4 142.9h.01M170.8 147.0h.01M173.3 137.3h.01M176.0 139.7h.01M174.1 151.8h.01M173.8 142.9h.01M175.2 141.1h.01M173.8 142.7h.01M173.2 147.6h.01M174.1 151.3h.01M174.3 135.8h.01M174.3 141.9h.01M173.4 148.8h.01M174.4 134.7h.01M176.7 142.8h.01M171.3 141.7h.01M174.5 137.3h.01M172.4 133.7h.01M174.1 140.6h.01M176.0 145.0h.01M174.1 140.1h.01M175.2 135.9h.01M174.1 146.1h.01M172.6 137.0h.01M175.5 153.5h.01M174.3 153.6h.01M174.4 142.5h.01M173.1 136.8h.01M175.1 140.4h.01M172.8 145.5h.01M174.5 139.4h.01M174.0 142.6h.01M173.9 142.7h.01M173.1 130.1h.01M172.8 150.0h.01M173.2 144.4h.01M174.6 138.0h.01M173.8 142.0h.01M174.3 146.8h.01M173.8 142.3h.01M175.1 144.2h.01M171.5 150.4h.01M174.4 140.2h.01M173.6 138.2h.01M173.9 135.4h.01M175.2 146.0h.01M172.2 146.2h.01M171.5 140.5h.01M172.2 147.2h.01M174.8 136.1h.01M174.0 146.2h.01M173.2 156.8h.01M171.4 150.8h.01M176.0 141.5h.01M172.0 150.1h.01M170.0 143.2h.01M171.6 143.3h.01M172.9 136.3h.01M174.5 149.8h.01" stroke="#222" stroke-opacity="0.7" stroke-width="0.96" stroke-linecap="round" fill="none"/>
<path d="M171.2 127.2h.01M174.1 125.4h.01M172.8 127.1h.01M176.2 125.9h.01M169.0 127.4h.01M174.7 123.6h.01M172.9 126.3h.01M173.3 126.7h.01M172.1 127.2h.01M168.4 126.8h.01M172.7 126.1h.01M175.2 128.2h.01M171.9 126.2h.01M171.8 126.4h.01M172.7 124.6h.01M176.1 126.8h.01M173.9 128.2h.01M170.6 126.8h.01M177.1 125.8h.01M172.1 125.2h.01M176.4 127.8h.01M174.5 127.6h.01M172.5 125.7h.01M175.5 125.0h.01M174.3 126.2h.01M172.2 126.6h.01M171.3 125.4h.01M169.9 124.5h.01M172.1 126.8h.01M173.9 124.5h.01M173.4 129.4h.01M174.0 126.8h.01M169.6 125.6h.01M176.2 124.3h.01M172.1 125.2h.01M173.6 127.1h.01M170.4 127.2h.01M168.6 125.0h.01M174.7 124.6h.01M172.2 125.5h.01M177.1 124.8h.01M175.8 129.0h.01M173.1 125.1h.01M173.8 124.8h.01M173.1 124.7h.01M170.8 124.0h.01M175.7 125.3h.01M171.5 127.7h.01M173.5 125.8h.01M172.3 126.2h.01M173.2 125.6h.01M173.4 127.3h.01M173.4 128.1h.01M175.8 124.8h.01M171.8 124.4h.01M172.3 127.2h.01M173.1 125.5h.01M174.0 123.1h.01M174.4 126.0h.01M175.1 125.8h.01M175.8 127.7h.01M173.2 127.0h.01M172.0 125.2h.01M171.6 125.9h.01M171.3 124.7h.01M173.3 124.1h.01M175.0 124.9h.01M173.3 125.8h.01M175.8 127.1h.01M173.3 125.4h.01" stroke="#222" stroke-opacity="0.75" stroke-width="0.9" stroke-linecap="round" fill="none"/>
<path d="M189.2 139.9h.01M181.5 142.6h.01M188.3 140.9h.01M185.9 156.2h.01M183.6 149.0h.01M192.0 158.4h.01M181.1 146.7h.01M190.9 151.5h.01M190.5 146.9h.01M178.9 149.2h.01M188.9 143.3h.01M189.8 141.2h.01M189.0 143.8h.01M182.8 151.3h.01M183.5 147.8h.01M181.6 143.8h.01M188.0 153.0h.01M181.4 135.9h.01M185.7 131.0h.01M188.5 147.7h.01M182.4 147.1h.01M187.9 161.3h.01M184.4 153.9h.01M184.4 138.6h.01M184.1 144.2h.01M179.8 137.7h.01M191.8 123.2h.01M189.4 149.2h.01M184.1 133.6h.01M190.4 138.0h.01M187.0 139.3h.01M181.3 151.9h.01M188.4 132.0h.01M190.3 128.9h.01M180.6 150.1h.01M184.1 141.5h.01M192.2 130.6h.01M188.3 137.4h.01M186.2 139.2h.01M182.6 142.0h.01M182.1 141.7h.01M181.9 138.7h.01M186.3 127.4h.01M185.5 148.5h.01M186.3 150.9h.01M181.8 147.4h.01M187.1 113.7h.01M185.8 150.3h.01M185.5 141.9h.01M185.3 139.9h.01M181.6 134.6h.01M176.9 162.5h.01M185.7 143.7h.01M188.3 146.6h.01M185.5 125.6h.01M181.0 158.5h.01M187.5 148.2h.01M181.5 136.7h.01M186.9 133.7h.01M190.6 133.8h.01M184.1 129.9h.01M187.2 154.5h.01M186.7 141.4h.01M184.3 149.5h.01M185.8 159.2h.01M184.7 137.7h.01M183.7 122.3h.01M186.7 142.8h.01M179.4 129.7h.01M181.5 138.3h.01M181.7 149.2h.01M190.6 134.9h.01M185.9 130.8h.01M191.1 130.6h.01M182.6 141.5h.01M185.0 139.0h.01M181.8 140.6h.01M183.3 137.3h.01M189.8 135.5h.01M187.5 135.2h.01M189.8 133.8h.01M181.9 139.0h.01M190.8 137.4h.01M182.3 140.0h.01M182.9 144.1h.01M183.1 144.7h.01M189.4 146.4h.01M191.8 144.5h.01M193.2 154.2h.01M184.7 149.3h.01M182.8 139.5h.01M185.4 133.6h.01M187.0 140.6h.01M193.8 149.2h.01M184.8 134.8h.01M183.6 134.6h.01M182.8 141.6h.01M180.4 138.4h.01M187.7 135.7h.01M181.3 136.5h.01M189.2 133.9h.01M192.0 124.9h.01M182.6 147.6h.01M191.2 139.5h.01M179.2 138.7h.01M182.2 134.6h.01M184.3 135.5h.01M185.6 142.9h.01M184.6 123.7h.01M185.1 115.4h.01M186.1 137.2h.01M182.1 162.4h.01M192.4 154.8h.01M186.7 136.6h.01M187.6 157.7h.01M185.4 140.0h.01M183.5 140.8h.01M189.1 132.4h.01M190.0 142.8h.01M194.7 143.4h.01M190.8 131.6h.01M195.4 142.3h.01M185.5 156.4h.01M186.4 129.3h.01M188.2 147.0h.01M185.8 136.9h.01M179.4 158.3h.01M184.1 145.1h.01M183.8 134.5h.01M186.9 132.8h.01M189.6 125.6h.01M188.2 153.3h.01M184.1 143.7h.01M189.1 137.2h.01M184.9 139.7h.01M196.7 133.4h.01M185.1 137.2h.01M183.7 132.4h.01M183.2 143.2h.01M190.5 157.7h.01M180.7 131.9h.01M185.7 131.9h.01M182.8 139.4h.01M183.6 133.2h.01M186.7 133.9h.01M184.8 144.8h.01M188.7 143.7h.01M190.2 143.1h.01M180.0 156.2h.01M197.2 149.7h.01M192.2 152.6h.01M184.1 147.8h.01M183.1 136.0h.01M188.1 142.5h.01M183.3 127.6h.01M189.1 141.7h.01M186.4 132.9h.01M182.8 141.2h.01M178.5 153.7h.01M186.0 152.5h.01M189.7 136.0h.01M187.9 130.6h.01M182.3 154.9h.01M183.8 134.0h.01M187.8 141.9h.01M189.7 129.1h.01" stroke="#222" stroke-opacity="0.33" stroke-width="0.8" stroke-linecap="round" fill="none"/>
<path d="M174.4 151.5h.01M176.0 155.5h.01M170.7 148.2h.01M168.4 161.5h.01M173.8 151.4h.01M176.8 151.3h.01M180.9 161.2h.01M176.1 154.0h.01M165.9 159.3h.01M186.9 157.8h.01M172.9 160.8h.01M173.7 150.8h.01M175.2 159.8h.01M165.9 162.0h.01M184.7 156.7h.01M173.2 149.8h.01M178.8 155.5h.01M182.6 157.8h.01M165.9 163.4h.01M173.2 154.5h.01M181.7 159.2h.01M170.2 155.2h.01M174.3 156.1h.01M175.1 160.1h.01M179.8 153.3h.01M173.5 161.2h.01M184.9 149.6h.01M186.4 154.1h.01M174.8 154.7h.01M179.1 155.9h.01M175.7 152.3h.01M183.8 158.7h.01M174.4 157.6h.01M175.1 161.2h.01M177.5 148.5h.01M179.0 155.8h.01M177.3 161.7h.01M174.4 160.1h.01M176.0 156.5h.01M173.1 156.4h.01M174.2 160.8h.01M163.4 159.8h.01M175.5 151.7h.01M180.2 156.8h.01M177.1 149.0h.01M167.2 156.6h.01M175.4 148.0h.01M164.1 154.2h.01M162.7 159.3h.01M163.3 161.3h.01M173.3 162.5h.01M169.5 154.7h.01M181.9 148.9h.01M170.5 156.2h.01M184.8 156.4h.01M173.9 156.1h.01M173.9 161.0h.01M180.6 159.5h.01M172.2 160.8h.01M178.7 158.1h.01M182.7 155.1h.01M176.6 162.4h.01M171.9 161.4h.01M183.1 154.1h.01M185.8 154.7h.01M169.5 155.6h.01M174.1 152.5h.01M181.4 159.5h.01M179.4 150.2h.01M186.0 159.3h.01M182.4 158.8h.01M178.0 160.8h.01M173.2 146.9h.01M174.1 156.9h.01M178.3 157.5h.01M178.4 159.2h.01M175.1 159.7h.01M179.1 153.2h.01M166.4 158.1h.01M178.7 162.3h.01M182.1 158.5h.01M182.4 154.2h.01M169.5 156.9h.01M170.3 151.0h.01M187.7 148.3h.01M185.7 154.8h.01M172.0 148.8h.01M177.3 160.1h.01M179.2 152.5h.01M185.0 158.1h.01M178.9 160.0h.01M179.1 155.5h.01M178.0 153.5h.01M177.5 152.3h.01M168.3 154.1h.01M175.2 153.7h.01M174.4 154.3h.01M179.3 161.2h.01M181.5 161.3h.01M178.4 161.2h.01M181.9 156.3h.01M174.6 157.0h.01M175.8 159.4h.01M173.7 155.0h.01M177.4 159.5h.01M175.5 149.7h.01M174.8 161.2h.01" stroke="#222" stroke-opacity="0.28" stroke-width="0.8" stroke-linecap="round" fill="none"/>
<ellipse cx="173.5" cy="143.4" rx="2.8" ry="8" transform="rotate(0 173.5 143.4)" fill="none" stroke="#1a1a1a" stroke-opacity="0.8" stroke-width="0.9"/>
<ellipse cx="174" cy="126.3" rx="2.4" ry="1.5" transform="rotate(0 174 126.3)" fill="none" stroke="#1a1a1a" stroke-opacity="0.8" stroke-width="0.8"/>
<ellipse cx="174" cy="139" rx="6.5" ry="14" transform="rotate(0 174 139)" fill="none" stroke="#1a1a1a" stroke-opacity="0.22" stroke-width="0.5"/>
<ellipse cx="186.5" cy="140" rx="5.5" ry="14" transform="rotate(0 186.5 140)" fill="none" stroke="#1a1a1a" stroke-opacity="0.28" stroke-width="0.55"/>
<rect x="146.7" y="105.8" width="59.9" height="58.7" fill="none" stroke="#161616" stroke-width="1.4"/>
<line x1="179.8" y1="105.8" x2="179.8" y2="164.5" stroke="#161616" stroke-width="1.2"/>
<line x1="146.7" y1="138.6" x2="206.6" y2="138.6" stroke="#161616" stroke-width="1.2"/>
<text transform="translate(148.5,111.2) scale(0.9,1)" font-size="5.0" text-anchor="start" fill="#7c7c7c">19.5</text>
<text transform="translate(205.1,111.2) scale(0.9,1)" font-size="5.0" text-anchor="end" fill="#7c7c7c">4.79</text>
<text transform="translate(148.5,162.9) scale(0.9,1)" font-size="5.0" text-anchor="start" fill="#7c7c7c">65.1</text>
<text transform="translate(205.1,162.9) scale(0.9,1)" font-size="5.0" text-anchor="end" fill="#7c7c7c">10.6</text>
<line x1="143.3" y1="110.6" x2="146.7" y2="110.6" stroke="#161616" stroke-width="1.5"/>
<text transform="translate(139.5,113.2) scale(0.815,1)" font-size="9.2" text-anchor="end">10<tspan dy="-3.4" dx="0.2" font-size="5.0">5</tspan></text>
<line x1="143.3" y1="124.3" x2="146.7" y2="124.3" stroke="#161616" stroke-width="1.5"/>
<text transform="translate(139.5,126.9) scale(0.815,1)" font-size="9.2" text-anchor="end">10<tspan dy="-3.4" dx="0.2" font-size="5.0">4</tspan></text>
<line x1="143.3" y1="138.0" x2="146.7" y2="138.0" stroke="#161616" stroke-width="1.5"/>
<text transform="translate(139.5,140.6) scale(0.815,1)" font-size="9.2" text-anchor="end">10<tspan dy="-3.4" dx="0.2" font-size="5.0">3</tspan></text>
<line x1="143.3" y1="151.7" x2="146.7" y2="151.7" stroke="#161616" stroke-width="1.5"/>
<text transform="translate(139.5,154.3) scale(0.815,1)" font-size="9.2" text-anchor="end">10<tspan dy="-3.4" dx="0.2" font-size="5.0">2</tspan></text>
<line x1="144.6" y1="114.7" x2="146.7" y2="114.7" stroke="#161616" stroke-width="1.2"/>
<line x1="144.6" y1="117.4" x2="146.7" y2="117.4" stroke="#161616" stroke-width="1.2"/>
<line x1="144.6" y1="119.6" x2="146.7" y2="119.6" stroke="#161616" stroke-width="1.2"/>
<line x1="144.6" y1="121.6" x2="146.7" y2="121.6" stroke="#161616" stroke-width="1.2"/>
<line x1="144.6" y1="122.9" x2="146.7" y2="122.9" stroke="#161616" stroke-width="1.2"/>
<line x1="144.6" y1="128.4" x2="146.7" y2="128.4" stroke="#161616" stroke-width="1.2"/>
<line x1="144.6" y1="131.2" x2="146.7" y2="131.2" stroke="#161616" stroke-width="1.2"/>
<line x1="144.6" y1="133.3" x2="146.7" y2="133.3" stroke="#161616" stroke-width="1.2"/>
<line x1="144.6" y1="135.3" x2="146.7" y2="135.3" stroke="#161616" stroke-width="1.2"/>
<line x1="144.6" y1="136.6" x2="146.7" y2="136.6" stroke="#161616" stroke-width="1.2"/>
<line x1="144.6" y1="142.1" x2="146.7" y2="142.1" stroke="#161616" stroke-width="1.2"/>
<line x1="144.6" y1="144.8" x2="146.7" y2="144.8" stroke="#161616" stroke-width="1.2"/>
<line x1="144.6" y1="147.0" x2="146.7" y2="147.0" stroke="#161616" stroke-width="1.2"/>
<line x1="144.6" y1="149.0" x2="146.7" y2="149.0" stroke="#161616" stroke-width="1.2"/>
<line x1="144.6" y1="150.3" x2="146.7" y2="150.3" stroke="#161616" stroke-width="1.2"/>
<line x1="144.6" y1="155.0" x2="146.7" y2="155.0" stroke="#161616" stroke-width="1.2"/>
<line x1="144.6" y1="157.2" x2="146.7" y2="157.2" stroke="#161616" stroke-width="1.2"/>
<line x1="144.6" y1="159.0" x2="146.7" y2="159.0" stroke="#161616" stroke-width="1.2"/>
<line x1="144.6" y1="160.6" x2="146.7" y2="160.6" stroke="#161616" stroke-width="1.2"/>
<line x1="144.6" y1="161.7" x2="146.7" y2="161.7" stroke="#161616" stroke-width="1.2"/>
<text transform="translate(137.7,163.8) scale(0.8,1)" font-size="9.2" text-anchor="middle">0</text>
<rect x="144.29999999999998" y="159.5" width="3.2" height="6.6" fill="#161616"/>
<line x1="150.5" y1="164.5" x2="150.5" y2="168.5" stroke="#161616" stroke-width="1.5"/>
<text transform="translate(150.2,179.0) scale(0.8,1)" font-size="9.2" text-anchor="middle">0</text>
<line x1="161.9" y1="164.5" x2="161.9" y2="168.5" stroke="#161616" stroke-width="1.5"/>
<text transform="translate(161.3,179.0) scale(0.815,1)" font-size="9.2" text-anchor="middle">10<tspan dy="-3.4" dx="0.2" font-size="5.0">2</tspan></text>
<line x1="175.3" y1="164.5" x2="175.3" y2="168.5" stroke="#161616" stroke-width="1.5"/>
<text transform="translate(174.7,179.0) scale(0.815,1)" font-size="9.2" text-anchor="middle">10<tspan dy="-3.4" dx="0.2" font-size="5.0">3</tspan></text>
<line x1="188.9" y1="164.5" x2="188.9" y2="168.5" stroke="#161616" stroke-width="1.5"/>
<text transform="translate(188.3,179.0) scale(0.815,1)" font-size="9.2" text-anchor="middle">10<tspan dy="-3.4" dx="0.2" font-size="5.0">4</tspan></text>
<line x1="202.5" y1="164.5" x2="202.5" y2="168.5" stroke="#161616" stroke-width="1.5"/>
<text transform="translate(201.9,179.0) scale(0.815,1)" font-size="9.2" text-anchor="middle">10<tspan dy="-3.4" dx="0.2" font-size="5.0">5</tspan></text>
<line x1="153.3" y1="164.5" x2="153.3" y2="167.2" stroke="#161616" stroke-width="1.2"/>
<line x1="155.6" y1="164.5" x2="155.6" y2="167.2" stroke="#161616" stroke-width="1.2"/>
<line x1="157.6" y1="164.5" x2="157.6" y2="167.2" stroke="#161616" stroke-width="1.2"/>
<line x1="159.2" y1="164.5" x2="159.2" y2="167.2" stroke="#161616" stroke-width="1.2"/>
<line x1="160.5" y1="164.5" x2="160.5" y2="167.2" stroke="#161616" stroke-width="1.2"/>
<line x1="165.2" y1="164.5" x2="165.2" y2="167.2" stroke="#161616" stroke-width="1.2"/>
<line x1="167.9" y1="164.5" x2="167.9" y2="167.2" stroke="#161616" stroke-width="1.2"/>
<line x1="170.2" y1="164.5" x2="170.2" y2="167.2" stroke="#161616" stroke-width="1.2"/>
<line x1="172.1" y1="164.5" x2="172.1" y2="167.2" stroke="#161616" stroke-width="1.2"/>
<line x1="173.7" y1="164.5" x2="173.7" y2="167.2" stroke="#161616" stroke-width="1.2"/>
<line x1="178.7" y1="164.5" x2="178.7" y2="167.2" stroke="#161616" stroke-width="1.2"/>
<line x1="181.4" y1="164.5" x2="181.4" y2="167.2" stroke="#161616" stroke-width="1.2"/>
<line x1="183.7" y1="164.5" x2="183.7" y2="167.2" stroke="#161616" stroke-width="1.2"/>
<line x1="185.6" y1="164.5" x2="185.6" y2="167.2" stroke="#161616" stroke-width="1.2"/>
<line x1="187.3" y1="164.5" x2="187.3" y2="167.2" stroke="#161616" stroke-width="1.2"/>
<line x1="192.3" y1="164.5" x2="192.3" y2="167.2" stroke="#161616" stroke-width="1.2"/>
<line x1="195.0" y1="164.5" x2="195.0" y2="167.2" stroke="#161616" stroke-width="1.2"/>
<line x1="197.3" y1="164.5" x2="197.3" y2="167.2" stroke="#161616" stroke-width="1.2"/>
<line x1="199.2" y1="164.5" x2="199.2" y2="167.2" stroke="#161616" stroke-width="1.2"/>
<line x1="200.9" y1="164.5" x2="200.9" y2="167.2" stroke="#161616" stroke-width="1.2"/>
<path d="M87.7 226.2h.01M86.7 213.0h.01M91.5 225.4h.01M87.5 228.1h.01M89.3 218.7h.01M95.3 222.5h.01M87.8 214.6h.01M85.2 225.0h.01M89.9 231.7h.01M93.1 215.3h.01M86.3 212.4h.01M93.3 214.1h.01M92.8 226.1h.01M94.2 217.4h.01M91.3 203.9h.01M89.9 215.5h.01M92.1 199.7h.01M87.4 235.5h.01M89.2 211.1h.01M89.0 214.0h.01M87.3 220.5h.01M89.6 225.3h.01M98.0 221.6h.01M89.9 228.2h.01M83.4 231.1h.01M84.4 211.1h.01M88.8 203.5h.01M86.3 216.7h.01M90.1 202.9h.01M77.5 221.1h.01M82.4 218.3h.01M90.4 222.3h.01M86.5 209.9h.01M100.1 214.4h.01M84.8 203.7h.01M87.6 230.3h.01M91.2 207.3h.01M83.4 209.8h.01M88.5 217.8h.01M90.4 225.0h.01M83.6 201.6h.01M88.2 220.4h.01M86.5 217.6h.01M88.3 225.4h.01M87.8 211.1h.01M90.5 224.0h.01M86.2 214.3h.01M85.9 205.2h.01M97.7 209.9h.01M87.4 212.2h.01M85.5 214.0h.01M88.2 218.5h.01M86.5 202.7h.01M88.1 221.4h.01M93.3 214.5h.01M87.6 208.6h.01M94.2 209.9h.01M86.7 214.8h.01M87.7 215.8h.01M90.1 230.2h.01M90.5 218.9h.01M83.1 234.8h.01M90.5 223.0h.01M87.4 214.4h.01M87.2 213.7h.01M87.1 222.2h.01M92.6 214.8h.01M87.5 222.7h.01M87.8 220.1h.01M86.2 227.6h.01M86.9 220.2h.01M95.0 218.8h.01M87.6 221.8h.01M94.3 195.6h.01M87.1 213.9h.01M91.8 201.9h.01M91.6 215.8h.01M90.7 206.2h.01M93.4 238.3h.01M89.1 220.5h.01M88.3 213.3h.01M91.1 215.8h.01M83.6 195.4h.01M92.7 223.9h.01M88.1 213.0h.01M91.2 210.5h.01M83.8 226.3h.01M83.4 211.6h.01M93.5 219.5h.01M92.7 228.5h.01M89.3 202.1h.01M82.1 195.5h.01M91.4 202.5h.01M88.1 216.1h.01M89.9 215.0h.01M93.4 218.2h.01M92.6 214.5h.01M88.7 216.7h.01M90.4 222.2h.01M86.7 220.8h.01M99.0 191.2h.01M91.0 214.2h.01M87.8 209.9h.01M84.1 217.5h.01M85.8 229.5h.01M89.8 230.9h.01M89.0 202.4h.01M90.2 217.1h.01M91.8 193.7h.01M88.9 228.3h.01M88.9 196.9h.01M90.2 219.6h.01M93.9 220.3h.01M84.8 225.8h.01M91.3 226.0h.01M87.9 224.6h.01M80.6 203.1h.01M90.9 229.7h.01M90.8 216.7h.01M88.0 211.5h.01M92.8 199.1h.01M89.6 228.8h.01M82.3 195.0h.01M84.9 215.2h.01M90.7 210.1h.01M91.6 210.6h.01M82.5 224.4h.01M88.6 209.3h.01M82.3 192.4h.01M84.6 221.7h.01M85.1 203.1h.01M85.6 220.6h.01M90.9 226.3h.01M85.3 228.9h.01M94.7 219.2h.01M92.6 230.3h.01M90.1 207.4h.01M90.6 218.6h.01M91.3 239.1h.01M88.8 213.1h.01M93.4 215.6h.01M83.9 218.2h.01M92.4 200.6h.01M95.1 232.7h.01M84.4 217.6h.01M90.1 220.4h.01M89.7 221.7h.01M85.7 213.1h.01M88.3 219.3h.01M96.1 223.3h.01M84.6 218.7h.01M95.9 233.9h.01M95.1 216.3h.01M91.5 217.0h.01M84.3 215.9h.01M87.1 203.8h.01M88.1 211.8h.01M87.7 221.9h.01M84.6 216.1h.01M90.1 218.0h.01M89.7 216.1h.01M82.6 196.5h.01M86.4 211.7h.01M85.1 208.3h.01M87.1 230.9h.01M88.2 222.7h.01M91.2 216.9h.01M92.3 210.2h.01M87.9 204.6h.01M88.2 223.4h.01M85.2 214.6h.01M87.6 214.8h.01M87.1 217.9h.01M83.9 216.5h.01M95.0 205.3h.01M91.7 208.9h.01M86.4 231.8h.01M91.2 221.0h.01M94.9 221.2h.01M88.2 194.5h.01M91.3 230.8h.01M87.0 204.3h.01M82.1 220.7h.01M79.5 218.7h.01M91.7 211.1h.01M84.6 212.7h.01M94.6 204.7h.01M85.5 220.0h.01M86.2 227.1h.01M85.8 204.2h.01M82.9 213.2h.01M92.8 215.4h.01M86.4 201.4h.01M89.6 209.1h.01M97.5 204.4h.01M83.4 203.5h.01M89.3 220.5h.01M89.5 225.9h.01M91.3 209.8h.01M95.0 208.1h.01M89.4 215.6h.01M93.0 214.9h.01M89.9 197.4h.01M88.3 216.5h.01M94.4 199.5h.01M84.0 222.8h.01M97.5 216.5h.01M80.5 199.0h.01M87.1 207.1h.01M90.5 224.8h.01M91.6 206.6h.01M85.9 213.5h.01M90.2 220.3h.01M87.1 224.6h.01M91.3 212.4h.01M89.4 229.7h.01M91.1 212.5h.01M87.3 223.9h.01M90.1 216.5h.01M85.8 212.8h.01M89.2 231.2h.01M83.6 216.3h.01M85.0 202.7h.01M97.4 203.6h.01M93.3 224.6h.01M90.4 215.7h.01M88.4 219.7h.01M90.1 220.4h.01M91.1 200.4h.01M83.7 214.9h.01M88.4 203.0h.01M92.2 219.7h.01M89.8 224.7h.01M91.0 214.2h.01M86.3 225.7h.01M86.7 208.5h.01M85.0 221.5h.01M89.6 213.8h.01M92.2 207.7h.01M91.8 210.5h.01M88.0 213.4h.01M89.4 227.8h.01M86.3 224.5h.01M93.3 213.8h.01M86.1 204.9h.01M88.3 241.3h.01M87.9 216.4h.01M85.0 219.2h.01M89.6 224.2h.01M96.6 224.4h.01M85.4 214.0h.01M83.6 211.4h.01M83.2 225.5h.01M80.2 220.6h.01M89.1 201.2h.01M91.6 227.0h.01M95.4 212.9h.01M91.5 217.0h.01M94.1 215.2h.01M92.9 206.0h.01M86.1 205.4h.01M87.9 203.8h.01M89.2 210.0h.01M83.2 217.3h.01M92.9 219.8h.01M89.9 213.0h.01M87.9 200.7h.01M96.1 200.0h.01M85.2 205.8h.01M84.5 216.5h.01M85.7 210.1h.01M89.9 204.2h.01M84.3 219.3h.01M86.7 198.4h.01M90.9 202.0h.01M88.5 215.2h.01M89.7 217.6h.01M87.0 214.8h.01M82.2 217.5h.01M81.3 221.7h.01M85.7 223.0h.01M88.3 219.7h.01M86.8 212.8h.01M90.4 221.0h.01M89.1 221.5h.01M93.4 212.7h.01M87.0 209.3h.01M96.5 212.8h.01M98.5 215.4h.01M86.9 209.7h.01M85.3 216.2h.01M89.1 206.0h.01M95.3 224.7h.01M87.4 219.9h.01M87.9 210.5h.01M85.2 209.0h.01M95.3 230.5h.01M88.1 212.1h.01M92.9 207.4h.01M91.4 201.1h.01M90.1 221.9h.01M91.8 229.5h.01M93.2 211.2h.01M83.3 193.7h.01M84.4 213.7h.01M86.4 240.8h.01M90.3 219.1h.01M89.0 213.3h.01M90.0 225.5h.01M88.8 223.8h.01M94.1 217.1h.01M91.3 218.4h.01M93.2 223.3h.01M89.5 226.2h.01M93.3 217.4h.01M83.9 231.4h.01M89.6 222.1h.01M89.4 212.7h.01M84.1 215.6h.01M87.9 220.3h.01M87.6 215.0h.01M91.6 215.4h.01M86.4 219.8h.01M87.5 206.0h.01M84.6 207.4h.01M86.4 194.8h.01M83.1 209.8h.01" stroke="#222" stroke-opacity="0.33" stroke-width="0.8" stroke-linecap="round" fill="none"/>
<path d="M88.0 210.0h.01M89.9 208.2h.01M91.9 211.1h.01M83.8 210.3h.01M86.7 211.4h.01M92.3 207.5h.01M89.0 208.1h.01M85.7 211.7h.01M90.5 209.0h.01M87.9 207.8h.01M87.4 209.9h.01M88.4 211.8h.01M89.2 210.3h.01M89.0 211.6h.01M89.9 207.6h.01M88.4 211.2h.01M87.2 207.4h.01M86.7 207.8h.01M88.3 210.0h.01M89.8 206.4h.01M89.7 212.0h.01M94.1 209.7h.01M90.3 206.8h.01M90.9 213.7h.01M89.3 209.1h.01M91.8 208.4h.01M92.4 208.1h.01M89.7 211.0h.01M89.1 209.1h.01M86.7 213.2h.01M89.7 208.5h.01M86.1 211.9h.01M91.5 210.2h.01M87.9 211.5h.01M89.8 212.8h.01M88.4 208.9h.01M88.6 207.6h.01M86.5 209.2h.01M88.4 210.5h.01M85.8 209.6h.01M92.8 206.8h.01M88.0 209.4h.01M90.0 208.7h.01M93.4 209.2h.01M89.3 210.7h.01M91.6 211.2h.01M85.9 210.4h.01M87.5 212.7h.01M89.8 211.1h.01M88.6 208.9h.01M90.9 212.2h.01M93.4 209.8h.01M91.0 208.2h.01M89.9 210.4h.01M86.6 209.1h.01M89.0 209.9h.01M88.2 209.8h.01M88.7 209.4h.01M85.3 210.6h.01M92.3 210.0h.01M89.0 208.7h.01M87.1 208.4h.01M86.0 210.4h.01M86.9 211.0h.01M88.9 207.4h.01M93.2 209.6h.01M89.0 209.4h.01M86.4 210.2h.01M89.8 206.1h.01M88.8 210.6h.01M92.4 206.3h.01M87.3 212.6h.01M87.2 211.6h.01M86.7 208.0h.01M90.2 209.2h.01M86.5 210.4h.01M91.1 210.1h.01M93.3 207.7h.01M92.1 210.9h.01M90.5 211.8h.01M88.1 209.7h.01M86.0 208.8h.01M87.3 212.3h.01M87.8 211.0h.01M88.5 215.1h.01M87.1 208.4h.01M90.0 206.7h.01M88.8 208.3h.01M87.0 209.9h.01M92.9 212.1h.01M90.4 211.2h.01M89.7 208.9h.01M89.1 210.1h.01M90.0 212.1h.01M86.4 207.6h.01M91.6 208.1h.01M91.1 216.0h.01M90.8 210.9h.01M88.4 210.7h.01M90.5 216.4h.01M90.5 210.0h.01M92.0 210.3h.01M91.4 210.9h.01M89.2 211.8h.01M88.4 209.0h.01M88.6 210.5h.01M88.0 211.8h.01M89.4 210.9h.01M88.0 210.8h.01M90.1 209.7h.01M88.2 210.8h.01M89.2 209.1h.01M90.4 211.2h.01M92.5 208.0h.01M86.1 210.8h.01M92.6 212.2h.01M88.7 208.8h.01M89.3 209.3h.01M87.1 210.5h.01M87.3 209.7h.01" stroke="#222" stroke-opacity="0.6" stroke-width="0.9" stroke-linecap="round" fill="none"/>
<path d="M88.8 223.0h.01M90.3 223.6h.01M90.0 220.8h.01M87.9 223.2h.01M89.7 225.2h.01M88.0 225.9h.01M89.5 220.6h.01M89.0 222.3h.01M91.3 222.3h.01M90.1 221.1h.01M88.0 221.6h.01M87.7 222.6h.01M89.4 228.0h.01M89.1 226.3h.01M90.5 225.6h.01M89.9 223.1h.01M90.3 226.5h.01M88.7 220.2h.01M89.0 219.7h.01M89.1 222.6h.01M88.8 222.9h.01M91.1 223.6h.01M91.0 223.0h.01M89.8 219.9h.01M91.2 224.3h.01M91.4 223.2h.01M88.9 228.9h.01M88.3 218.2h.01M90.6 220.7h.01M88.3 224.1h.01M88.7 228.1h.01M92.2 229.1h.01M89.0 225.9h.01M88.9 222.1h.01M89.4 223.0h.01M90.1 222.6h.01M91.4 219.8h.01M90.2 219.3h.01M90.3 226.6h.01M91.5 225.1h.01M89.9 221.8h.01M89.2 223.9h.01M88.8 220.0h.01M91.2 224.8h.01M90.2 222.4h.01M90.5 222.4h.01M90.2 223.6h.01M89.7 221.8h.01M90.5 221.4h.01M91.6 225.9h.01M89.4 224.7h.01M90.7 223.6h.01M88.3 224.2h.01M89.3 223.0h.01M92.2 223.6h.01M88.0 225.4h.01M91.0 221.4h.01M89.7 221.7h.01M90.0 226.5h.01M92.9 222.9h.01M89.9 227.2h.01M89.4 225.9h.01M88.9 231.9h.01M88.7 225.4h.01M91.7 226.1h.01M91.6 226.0h.01M89.8 225.4h.01M90.8 224.1h.01M90.8 222.8h.01M88.7 227.2h.01M90.0 227.8h.01M92.0 222.4h.01M91.7 224.6h.01M90.2 219.0h.01M89.2 222.9h.01M89.0 220.4h.01M87.7 223.9h.01M90.2 225.8h.01M88.0 219.4h.01M92.2 223.2h.01M89.6 226.2h.01M88.4 223.1h.01M90.7 224.7h.01M90.8 222.4h.01M91.5 219.7h.01M87.0 223.0h.01M89.9 223.4h.01M87.2 220.0h.01M89.3 225.8h.01M91.1 227.9h.01M88.2 222.1h.01M87.6 220.3h.01M88.2 223.2h.01M88.7 224.3h.01M91.4 222.8h.01M89.2 223.5h.01M89.5 222.9h.01M88.9 223.8h.01M89.0 224.7h.01M89.9 226.3h.01M90.4 224.9h.01M89.6 222.3h.01M90.4 221.3h.01M90.2 227.8h.01M88.9 225.2h.01M90.5 223.5h.01M91.0 222.3h.01M88.2 224.9h.01M90.3 224.3h.01M90.8 220.7h.01" stroke="#222" stroke-opacity="0.75" stroke-width="0.96" stroke-linecap="round" fill="none"/>
<path d="M95.5 227.5h.01M97.2 221.4h.01M99.3 197.7h.01M96.4 235.3h.01M98.6 219.1h.01M94.2 212.1h.01M94.7 210.8h.01M98.4 207.0h.01M93.9 217.8h.01M99.8 209.1h.01M95.9 220.1h.01M97.6 222.5h.01M100.0 210.9h.01M101.1 198.4h.01M95.2 213.5h.01M100.8 219.8h.01M99.6 206.5h.01M97.8 228.0h.01M100.1 221.6h.01M98.4 203.5h.01M96.9 223.4h.01M95.7 223.2h.01M99.5 199.2h.01M98.2 208.9h.01M97.4 224.8h.01M93.8 200.2h.01M97.0 214.0h.01M98.8 214.1h.01M95.4 211.3h.01M104.4 217.1h.01M100.5 215.9h.01M98.7 201.0h.01M99.5 233.1h.01M92.7 217.8h.01M94.2 218.4h.01M99.0 212.2h.01M94.3 208.6h.01M102.0 210.8h.01M97.9 217.4h.01M96.3 211.4h.01M93.5 229.3h.01M98.8 217.9h.01M96.3 204.7h.01M100.2 209.1h.01M98.2 204.7h.01M104.7 212.3h.01M99.0 220.2h.01M94.7 214.5h.01M94.1 206.3h.01M100.6 222.3h.01M99.4 205.6h.01M97.7 219.1h.01M96.8 210.5h.01M98.6 219.6h.01M96.1 200.8h.01M96.4 211.8h.01M97.4 215.2h.01M101.3 212.8h.01M99.2 207.9h.01M97.7 217.4h.01" stroke="#222" stroke-opacity="0.28" stroke-width="0.8" stroke-linecap="round" fill="none"/>
<path d="M85.5 243.9h.01M86.5 236.3h.01M90.7 241.5h.01M89.2 234.3h.01M94.7 237.4h.01M89.1 238.4h.01M89.4 236.4h.01M87.3 231.8h.01M85.6 242.1h.01M94.0 239.1h.01M89.4 236.6h.01M89.6 241.2h.01M92.1 220.9h.01M91.0 237.7h.01M89.3 238.6h.01M91.0 241.6h.01M93.9 235.5h.01M90.3 243.5h.01M87.3 236.9h.01M90.8 239.4h.01M88.7 239.6h.01M97.0 235.4h.01M85.8 239.1h.01M83.6 234.2h.01M83.3 245.2h.01M91.3 236.7h.01M82.4 230.9h.01M84.5 238.0h.01M91.5 241.4h.01M87.9 234.6h.01M92.0 236.9h.01M84.2 233.7h.01M87.2 246.6h.01M88.4 227.7h.01M87.9 243.0h.01M86.2 234.7h.01M85.2 239.3h.01M89.1 234.7h.01M89.4 241.0h.01M87.0 237.5h.01M90.8 236.3h.01M84.2 241.3h.01M88.7 240.4h.01M89.6 247.3h.01M90.4 242.2h.01M86.3 238.2h.01M88.6 240.7h.01M84.0 237.7h.01M87.0 234.0h.01M87.4 241.6h.01M91.8 241.8h.01M83.8 235.7h.01M89.7 238.7h.01M91.4 234.9h.01M88.0 225.9h.01M88.6 241.7h.01M89.5 233.0h.01M88.9 238.0h.01M86.2 234.8h.01M89.5 241.8h.01M94.8 232.3h.01M88.0 242.9h.01M87.5 242.7h.01M91.8 238.6h.01M85.1 235.5h.01" stroke="#222" stroke-opacity="0.28" stroke-width="0.8" stroke-linecap="round" fill="none"/>
<path d="M78.8 222.3h.01M79.9 215.5h.01M84.3 211.8h.01M79.4 200.7h.01M85.3 222.8h.01M82.6 208.6h.01M83.9 212.4h.01M71.0 212.0h.01M73.9 212.1h.01M77.3 219.0h.01M75.7 214.8h.01M81.4 204.5h.01M82.2 209.8h.01M77.9 205.3h.01M81.9 210.2h.01M81.3 213.7h.01M87.7 212.4h.01M82.1 222.1h.01M80.0 221.1h.01M83.8 202.5h.01M87.8 213.0h.01M77.3 212.3h.01M82.6 215.3h.01M90.3 203.6h.01M83.2 210.6h.01M80.1 211.2h.01M78.9 223.5h.01M82.6 213.6h.01M83.2 204.7h.01M81.3 210.8h.01M78.1 222.0h.01M82.7 217.5h.01M79.6 214.5h.01M81.8 217.5h.01M82.4 216.7h.01M78.9 216.8h.01M83.6 216.9h.01M80.7 215.3h.01M81.6 215.7h.01M81.9 210.9h.01M79.9 214.6h.01M77.6 199.3h.01M81.5 211.6h.01M82.8 217.4h.01M83.3 212.3h.01M82.6 203.7h.01M84.1 208.5h.01M78.8 216.8h.01M79.4 208.4h.01M80.8 207.8h.01" stroke="#222" stroke-opacity="0.25" stroke-width="0.8" stroke-linecap="round" fill="none"/>
<ellipse cx="88.7" cy="210.3" rx="3.2" ry="3.2" transform="rotate(0 88.7 210.3)" fill="none" stroke="#1a1a1a" stroke-opacity="0.9" stroke-width="1.1"/>
<ellipse cx="88.7" cy="210.3" rx="5" ry="5.5" transform="rotate(0 88.7 210.3)" fill="none" stroke="#1a1a1a" stroke-opacity="0.4" stroke-width="0.6"/>
<ellipse cx="88.6" cy="211" rx="6.8" ry="8.5" transform="rotate(-10 88.6 211)" fill="none" stroke="#1a1a1a" stroke-opacity="0.28" stroke-width="0.5"/>
<ellipse cx="89.7" cy="224" rx="2.2" ry="3.8" transform="rotate(0 89.7 224)" fill="none" stroke="#1a1a1a" stroke-opacity="0.55" stroke-width="0.7"/>
<ellipse cx="98.5" cy="212" rx="3.5" ry="12" transform="rotate(0 98.5 212)" fill="none" stroke="#1a1a1a" stroke-opacity="0.25" stroke-width="0.5"/>
<ellipse cx="89" cy="234" rx="3.5" ry="10" transform="rotate(0 89 234)" fill="none" stroke="#1a1a1a" stroke-opacity="0.22" stroke-width="0.5"/>
<rect x="62.1" y="189.7" width="61.0" height="59.1" fill="none" stroke="#161616" stroke-width="1.4"/>
<line x1="94.1" y1="189.7" x2="94.1" y2="248.8" stroke="#161616" stroke-width="1.2"/>
<line x1="62.1" y1="222.4" x2="123.1" y2="222.4" stroke="#161616" stroke-width="1.2"/>
<text transform="translate(65.9,197.29999999999998) scale(0.9,1)" font-size="5.0" text-anchor="start" fill="#7c7c7c">69.6</text>
<text transform="translate(119.6,197.29999999999998) scale(0.9,1)" font-size="5.0" text-anchor="end" fill="#7c7c7c">4.27</text>
<text transform="translate(65.9,247.20000000000002) scale(0.9,1)" font-size="5.0" text-anchor="start" fill="#7c7c7c">24.4</text>
<text transform="translate(119.6,247.20000000000002) scale(0.9,1)" font-size="5.0" text-anchor="end" fill="#7c7c7c">1.76</text>
<line x1="58.7" y1="194.5" x2="62.1" y2="194.5" stroke="#161616" stroke-width="1.5"/>
<text transform="translate(54.9,197.1) scale(0.815,1)" font-size="9.2" text-anchor="end">10<tspan dy="-3.4" dx="0.2" font-size="5.0">5</tspan></text>
<line x1="58.7" y1="208.2" x2="62.1" y2="208.2" stroke="#161616" stroke-width="1.5"/>
<text transform="translate(54.9,210.8) scale(0.815,1)" font-size="9.2" text-anchor="end">10<tspan dy="-3.4" dx="0.2" font-size="5.0">4</tspan></text>
<line x1="58.7" y1="221.9" x2="62.1" y2="221.9" stroke="#161616" stroke-width="1.5"/>
<text transform="translate(54.9,224.5) scale(0.815,1)" font-size="9.2" text-anchor="end">10<tspan dy="-3.4" dx="0.2" font-size="5.0">3</tspan></text>
<line x1="58.7" y1="235.6" x2="62.1" y2="235.6" stroke="#161616" stroke-width="1.5"/>
<text transform="translate(54.9,238.2) scale(0.815,1)" font-size="9.2" text-anchor="end">10<tspan dy="-3.4" dx="0.2" font-size="5.0">2</tspan></text>
<line x1="60.0" y1="198.6" x2="62.1" y2="198.6" stroke="#161616" stroke-width="1.2"/>
<line x1="60.0" y1="201.3" x2="62.1" y2="201.3" stroke="#161616" stroke-width="1.2"/>
<line x1="60.0" y1="203.5" x2="62.1" y2="203.5" stroke="#161616" stroke-width="1.2"/>
<line x1="60.0" y1="205.5" x2="62.1" y2="205.5" stroke="#161616" stroke-width="1.2"/>
<line x1="60.0" y1="206.8" x2="62.1" y2="206.8" stroke="#161616" stroke-width="1.2"/>
<line x1="60.0" y1="212.3" x2="62.1" y2="212.3" stroke="#161616" stroke-width="1.2"/>
<line x1="60.0" y1="215.0" x2="62.1" y2="215.0" stroke="#161616" stroke-width="1.2"/>
<line x1="60.0" y1="217.2" x2="62.1" y2="217.2" stroke="#161616" stroke-width="1.2"/>
<line x1="60.0" y1="219.2" x2="62.1" y2="219.2" stroke="#161616" stroke-width="1.2"/>
<line x1="60.0" y1="220.5" x2="62.1" y2="220.5" stroke="#161616" stroke-width="1.2"/>
<line x1="60.0" y1="226.0" x2="62.1" y2="226.0" stroke="#161616" stroke-width="1.2"/>
<line x1="60.0" y1="228.8" x2="62.1" y2="228.8" stroke="#161616" stroke-width="1.2"/>
<line x1="60.0" y1="230.9" x2="62.1" y2="230.9" stroke="#161616" stroke-width="1.2"/>
<line x1="60.0" y1="232.9" x2="62.1" y2="232.9" stroke="#161616" stroke-width="1.2"/>
<line x1="60.0" y1="234.2" x2="62.1" y2="234.2" stroke="#161616" stroke-width="1.2"/>
<line x1="60.0" y1="238.9" x2="62.1" y2="238.9" stroke="#161616" stroke-width="1.2"/>
<line x1="60.0" y1="241.1" x2="62.1" y2="241.1" stroke="#161616" stroke-width="1.2"/>
<line x1="60.0" y1="242.9" x2="62.1" y2="242.9" stroke="#161616" stroke-width="1.2"/>
<line x1="60.0" y1="244.5" x2="62.1" y2="244.5" stroke="#161616" stroke-width="1.2"/>
<line x1="60.0" y1="245.6" x2="62.1" y2="245.6" stroke="#161616" stroke-width="1.2"/>
<text transform="translate(53.1,248.10000000000002) scale(0.8,1)" font-size="9.2" text-anchor="middle">0</text>
<rect x="59.7" y="243.8" width="3.2" height="6.6" fill="#161616"/>
<line x1="65.9" y1="248.8" x2="65.9" y2="252.8" stroke="#161616" stroke-width="1.5"/>
<text transform="translate(65.6,263.3) scale(0.8,1)" font-size="9.2" text-anchor="middle">0</text>
<line x1="77.3" y1="248.8" x2="77.3" y2="252.8" stroke="#161616" stroke-width="1.5"/>
<text transform="translate(76.7,263.3) scale(0.815,1)" font-size="9.2" text-anchor="middle">10<tspan dy="-3.4" dx="0.2" font-size="5.0">2</tspan></text>
<line x1="90.7" y1="248.8" x2="90.7" y2="252.8" stroke="#161616" stroke-width="1.5"/>
<text transform="translate(90.1,263.3) scale(0.815,1)" font-size="9.2" text-anchor="middle">10<tspan dy="-3.4" dx="0.2" font-size="5.0">3</tspan></text>
<line x1="104.3" y1="248.8" x2="104.3" y2="252.8" stroke="#161616" stroke-width="1.5"/>
<text transform="translate(103.7,263.3) scale(0.815,1)" font-size="9.2" text-anchor="middle">10<tspan dy="-3.4" dx="0.2" font-size="5.0">4</tspan></text>
<line x1="117.9" y1="248.8" x2="117.9" y2="252.8" stroke="#161616" stroke-width="1.5"/>
<text transform="translate(117.3,263.3) scale(0.815,1)" font-size="9.2" text-anchor="middle">10<tspan dy="-3.4" dx="0.2" font-size="5.0">5</tspan></text>
<line x1="68.8" y1="248.8" x2="68.8" y2="251.5" stroke="#161616" stroke-width="1.2"/>
<line x1="71.0" y1="248.8" x2="71.0" y2="251.5" stroke="#161616" stroke-width="1.2"/>
<line x1="73.0" y1="248.8" x2="73.0" y2="251.5" stroke="#161616" stroke-width="1.2"/>
<line x1="74.6" y1="248.8" x2="74.6" y2="251.5" stroke="#161616" stroke-width="1.2"/>
<line x1="75.9" y1="248.8" x2="75.9" y2="251.5" stroke="#161616" stroke-width="1.2"/>
<line x1="80.7" y1="248.8" x2="80.7" y2="251.5" stroke="#161616" stroke-width="1.2"/>
<line x1="83.3" y1="248.8" x2="83.3" y2="251.5" stroke="#161616" stroke-width="1.2"/>
<line x1="85.6" y1="248.8" x2="85.6" y2="251.5" stroke="#161616" stroke-width="1.2"/>
<line x1="87.5" y1="248.8" x2="87.5" y2="251.5" stroke="#161616" stroke-width="1.2"/>
<line x1="89.1" y1="248.8" x2="89.1" y2="251.5" stroke="#161616" stroke-width="1.2"/>
<line x1="94.1" y1="248.8" x2="94.1" y2="251.5" stroke="#161616" stroke-width="1.2"/>
<line x1="96.8" y1="248.8" x2="96.8" y2="251.5" stroke="#161616" stroke-width="1.2"/>
<line x1="99.1" y1="248.8" x2="99.1" y2="251.5" stroke="#161616" stroke-width="1.2"/>
<line x1="101.0" y1="248.8" x2="101.0" y2="251.5" stroke="#161616" stroke-width="1.2"/>
<line x1="102.7" y1="248.8" x2="102.7" y2="251.5" stroke="#161616" stroke-width="1.2"/>
<line x1="107.7" y1="248.8" x2="107.7" y2="251.5" stroke="#161616" stroke-width="1.2"/>
<line x1="110.4" y1="248.8" x2="110.4" y2="251.5" stroke="#161616" stroke-width="1.2"/>
<line x1="112.7" y1="248.8" x2="112.7" y2="251.5" stroke="#161616" stroke-width="1.2"/>
<line x1="114.6" y1="248.8" x2="114.6" y2="251.5" stroke="#161616" stroke-width="1.2"/>
<line x1="116.3" y1="248.8" x2="116.3" y2="251.5" stroke="#161616" stroke-width="1.2"/>
<path d="M177.0 204.7h.01M173.5 226.4h.01M175.0 238.1h.01M177.9 218.9h.01M169.1 221.9h.01M178.8 225.0h.01M176.2 222.0h.01M173.4 219.6h.01M175.4 216.0h.01M179.0 207.3h.01M178.8 210.3h.01M169.8 212.8h.01M170.6 213.3h.01M176.4 227.9h.01M178.6 208.6h.01M175.4 228.3h.01M178.1 232.9h.01M174.1 206.3h.01M170.3 234.8h.01M172.5 217.6h.01M171.9 206.9h.01M179.8 229.2h.01M174.7 222.3h.01M171.0 214.6h.01M171.8 225.5h.01M178.8 210.3h.01M167.1 223.8h.01M182.0 206.1h.01M181.1 218.9h.01M175.0 200.4h.01M173.2 201.5h.01M176.5 238.3h.01M174.8 208.9h.01M171.5 214.7h.01M174.5 230.0h.01M174.3 217.0h.01M169.9 206.7h.01M174.8 214.7h.01M173.2 220.7h.01M180.2 206.7h.01M176.6 225.2h.01M171.9 203.1h.01M169.0 217.3h.01M174.4 219.5h.01M176.6 226.0h.01M179.2 232.3h.01M173.8 217.6h.01M170.4 204.3h.01M173.8 205.1h.01M179.2 208.4h.01M180.5 208.8h.01M173.4 226.5h.01M175.5 229.6h.01M170.6 223.2h.01M172.3 220.6h.01M168.6 207.4h.01M172.8 220.3h.01M169.8 206.8h.01M166.8 210.3h.01M180.3 209.9h.01M166.3 202.2h.01M169.5 211.3h.01M175.0 224.5h.01M171.9 221.9h.01M173.6 222.3h.01M178.1 223.7h.01M167.4 223.1h.01M172.6 193.3h.01M175.6 213.4h.01M169.0 196.9h.01M175.9 218.7h.01M176.5 216.8h.01M181.8 209.3h.01M174.2 216.7h.01M180.3 228.5h.01M171.7 227.6h.01M171.3 224.1h.01M167.7 198.1h.01M177.8 220.1h.01M172.4 198.9h.01M171.7 210.2h.01M176.8 217.2h.01M166.1 208.2h.01M169.4 208.9h.01M169.1 227.2h.01M178.5 213.9h.01M170.9 206.4h.01M173.8 237.8h.01M177.7 220.7h.01M178.6 210.0h.01M171.9 220.4h.01M169.4 227.9h.01M171.7 203.4h.01M177.6 213.0h.01M172.8 229.6h.01M179.7 209.3h.01M178.7 201.3h.01M179.6 218.0h.01M174.2 231.1h.01M175.7 198.4h.01M175.4 225.0h.01M178.1 231.7h.01M172.6 203.7h.01M167.8 211.1h.01M171.6 217.8h.01M180.6 211.1h.01M168.9 216.4h.01M174.8 223.0h.01M179.6 220.9h.01M175.2 208.8h.01M175.5 226.0h.01M172.6 232.4h.01M174.1 223.8h.01M167.4 227.1h.01M173.5 211.2h.01M174.8 218.5h.01M171.2 203.3h.01M175.6 223.0h.01M174.8 213.4h.01M173.1 197.4h.01M172.0 208.8h.01M173.4 193.5h.01M168.8 211.0h.01M166.6 202.4h.01M179.8 213.6h.01M171.9 216.4h.01M169.8 216.8h.01M172.0 205.6h.01M174.1 222.7h.01M174.0 203.0h.01M174.3 209.5h.01M172.1 217.7h.01M175.7 224.2h.01M172.5 240.5h.01M177.8 223.4h.01M181.0 227.5h.01M180.3 227.9h.01M172.5 224.6h.01M178.6 224.1h.01M179.3 222.5h.01M170.9 214.4h.01M170.3 203.3h.01M182.1 224.8h.01M179.1 203.4h.01M177.3 211.8h.01M176.9 223.7h.01M179.2 208.5h.01M179.2 226.6h.01M175.6 205.6h.01M169.2 199.7h.01M167.7 224.1h.01M167.7 208.5h.01M175.3 211.4h.01M176.0 228.3h.01M172.1 222.9h.01M178.3 216.0h.01M178.1 215.9h.01M174.8 225.4h.01M173.3 214.6h.01M176.3 226.7h.01M169.9 227.6h.01M175.0 218.6h.01M179.7 207.3h.01M170.6 205.3h.01M174.8 221.3h.01M168.3 221.1h.01M169.4 218.7h.01M182.5 227.7h.01M174.3 225.9h.01M177.3 193.2h.01M171.0 224.1h.01M176.5 206.2h.01M176.1 220.7h.01M173.8 216.7h.01M181.8 224.2h.01M177.8 199.8h.01M172.8 224.7h.01M175.2 214.8h.01M170.5 219.9h.01M173.8 200.8h.01M184.4 215.0h.01M167.0 202.1h.01M171.8 212.1h.01M170.8 215.6h.01M180.1 206.3h.01M178.6 224.7h.01M169.8 202.5h.01M177.2 226.5h.01M177.3 222.7h.01M171.6 223.2h.01M170.0 222.5h.01M177.8 223.9h.01M179.5 223.1h.01M178.5 218.6h.01M181.0 216.4h.01M180.2 210.2h.01M169.7 219.1h.01M174.1 212.0h.01M171.2 225.0h.01M176.1 225.8h.01M172.7 220.4h.01M170.4 210.3h.01M177.5 224.8h.01M174.8 228.8h.01M171.3 230.4h.01M173.8 215.6h.01M170.5 230.4h.01M170.4 230.7h.01M179.9 198.6h.01M174.0 205.5h.01M172.3 216.5h.01M173.1 223.5h.01M176.1 199.3h.01M169.4 203.6h.01M168.8 222.1h.01M173.6 217.3h.01M165.9 213.1h.01M165.4 216.3h.01M171.7 221.0h.01M176.3 224.9h.01M173.3 220.5h.01M170.2 238.8h.01M174.8 205.7h.01M174.4 227.7h.01M171.2 228.0h.01M172.9 229.7h.01M174.3 207.9h.01M174.9 228.7h.01M166.6 206.9h.01M175.7 205.7h.01M167.0 216.7h.01M172.2 213.7h.01M172.5 219.4h.01M170.6 200.7h.01M173.1 213.5h.01M173.4 217.1h.01M171.3 200.7h.01M175.9 231.1h.01M176.1 217.7h.01M176.5 212.9h.01M168.5 197.2h.01M174.5 205.0h.01M170.3 220.4h.01M177.9 230.5h.01M167.3 213.9h.01M171.1 216.9h.01M173.9 221.0h.01M173.1 204.4h.01M165.8 234.0h.01M171.5 223.0h.01M174.6 223.9h.01M174.1 228.0h.01M170.1 221.4h.01M175.9 208.0h.01M170.3 208.6h.01M179.1 211.6h.01M177.4 212.0h.01M175.0 222.4h.01M174.8 211.5h.01M172.0 234.8h.01M179.8 222.0h.01M171.8 220.4h.01M181.5 209.4h.01M174.5 221.2h.01M172.5 214.7h.01M177.4 213.0h.01M173.5 219.1h.01M168.9 216.9h.01M178.3 227.1h.01M166.6 214.4h.01M181.1 206.2h.01M170.6 219.5h.01M171.3 208.2h.01M171.1 218.1h.01M175.1 219.7h.01M168.1 199.5h.01M177.1 215.1h.01M174.5 220.1h.01M179.9 227.4h.01M171.8 223.9h.01M176.1 230.6h.01M177.6 239.1h.01M183.1 219.3h.01M170.3 221.8h.01M171.1 215.9h.01M178.2 209.9h.01M166.2 210.4h.01M169.9 199.8h.01M176.5 221.7h.01M175.1 227.6h.01M173.4 237.3h.01M175.0 225.6h.01M171.1 220.9h.01M172.8 204.7h.01M175.1 207.1h.01M177.9 199.8h.01M166.3 229.5h.01M176.6 212.9h.01M166.3 209.6h.01M175.1 235.9h.01M171.6 233.5h.01M167.1 232.7h.01M176.8 209.2h.01M179.5 217.1h.01M170.9 212.6h.01M177.6 210.7h.01M171.2 214.7h.01M173.4 203.7h.01M179.8 234.8h.01M173.6 221.3h.01M173.3 205.7h.01M175.4 206.1h.01M168.0 210.7h.01M175.7 211.7h.01M177.5 223.4h.01M178.1 230.6h.01M172.0 223.9h.01M176.7 220.1h.01M172.0 222.0h.01M174.8 223.9h.01M173.7 211.0h.01M168.2 215.6h.01M181.3 218.5h.01M174.1 208.5h.01M175.5 217.4h.01M174.8 213.9h.01M169.9 207.7h.01M171.6 206.9h.01M169.7 219.4h.01M174.1 211.4h.01M173.5 227.6h.01M169.3 223.0h.01M165.8 232.4h.01M176.0 238.0h.01M181.3 217.9h.01M176.6 220.9h.01M166.2 226.0h.01M177.2 224.8h.01M175.2 204.8h.01M175.0 208.8h.01M171.7 227.2h.01M178.0 201.8h.01M169.1 206.0h.01M179.0 203.0h.01M175.4 222.3h.01M165.4 230.3h.01M171.1 232.9h.01M172.3 231.1h.01M182.4 194.3h.01M169.1 210.2h.01M177.8 233.0h.01M174.5 221.0h.01M177.1 206.7h.01M171.5 217.6h.01M179.4 208.9h.01M176.6 208.5h.01M169.2 217.4h.01M174.7 217.1h.01M170.9 210.7h.01M177.7 201.8h.01M171.4 204.6h.01M174.3 229.2h.01M172.4 209.3h.01M172.5 216.8h.01M172.0 206.6h.01M175.3 231.4h.01M174.8 209.3h.01M179.3 216.6h.01M175.6 214.7h.01M175.8 203.1h.01M173.8 214.5h.01M173.1 217.8h.01M185.2 206.4h.01M172.7 202.9h.01M174.3 210.8h.01M177.9 215.0h.01M173.4 216.7h.01M182.0 227.1h.01M175.6 227.1h.01M173.0 200.0h.01M168.3 221.5h.01M175.4 210.2h.01M170.1 224.7h.01M172.2 203.9h.01M176.9 217.5h.01M169.0 231.7h.01M171.6 210.7h.01M170.9 212.6h.01M180.0 212.8h.01M176.9 209.2h.01M178.8 228.9h.01M177.3 233.7h.01M174.9 196.2h.01M168.8 209.7h.01M177.2 217.5h.01M175.1 218.5h.01M172.6 215.3h.01" stroke="#222" stroke-opacity="0.36" stroke-width="0.8" stroke-linecap="round" fill="none"/>
<path d="M173.0 210.4h.01M174.5 217.8h.01M175.4 209.8h.01M173.1 208.4h.01M171.5 214.6h.01M174.8 212.2h.01M173.7 213.5h.01M174.8 216.2h.01M171.9 221.4h.01M172.9 216.7h.01M172.3 216.1h.01M176.9 215.1h.01M173.7 217.7h.01M173.6 211.1h.01M173.1 209.7h.01M173.9 207.2h.01M175.1 212.0h.01M172.2 207.0h.01M173.6 208.9h.01M175.5 205.7h.01M173.7 209.8h.01M173.5 213.2h.01M174.4 207.9h.01M173.0 212.2h.01M173.6 208.0h.01M171.7 211.9h.01M173.1 212.8h.01M172.9 210.1h.01M173.4 202.1h.01M173.7 211.7h.01M173.6 210.8h.01M175.4 201.2h.01M172.5 207.3h.01M172.7 208.0h.01M172.1 208.7h.01M174.3 207.2h.01M174.5 214.2h.01M174.7 211.5h.01M171.3 209.7h.01M170.7 203.3h.01M174.5 197.6h.01M174.5 207.6h.01M174.5 216.6h.01M173.6 205.7h.01M174.4 204.5h.01M173.7 210.0h.01M175.0 202.5h.01M173.9 218.9h.01M173.5 219.0h.01M174.8 203.0h.01M174.4 212.0h.01M172.9 209.3h.01M171.5 218.1h.01M174.3 208.9h.01M174.7 217.1h.01M173.6 210.0h.01M174.4 209.6h.01M175.8 215.1h.01M174.0 208.5h.01M171.2 205.3h.01M176.3 210.0h.01M175.2 201.3h.01M172.2 214.5h.01M175.1 203.7h.01M171.8 205.4h.01M173.8 200.1h.01M175.7 205.2h.01M174.1 214.1h.01M173.6 210.3h.01M173.2 219.2h.01M175.1 209.5h.01M173.1 210.1h.01M171.0 207.9h.01M173.1 216.4h.01M174.2 205.8h.01M172.0 213.2h.01M174.2 214.0h.01M173.8 211.9h.01M173.8 218.8h.01M173.7 205.7h.01M174.8 213.9h.01M173.3 216.5h.01M174.4 207.0h.01M172.7 217.8h.01M174.8 204.9h.01M172.3 219.1h.01M177.0 215.5h.01M173.6 208.7h.01M174.7 217.3h.01M174.2 209.5h.01M172.0 204.3h.01M172.3 201.4h.01M174.2 208.4h.01M175.9 215.1h.01M173.8 219.5h.01M174.8 209.1h.01M173.8 207.2h.01M173.1 210.1h.01M173.2 208.5h.01M173.5 210.7h.01M175.3 209.4h.01M173.2 213.0h.01M174.0 205.2h.01M173.4 209.8h.01M172.8 214.1h.01M174.1 207.7h.01M175.1 212.0h.01M173.8 211.5h.01M174.8 213.5h.01M172.9 211.9h.01M173.6 208.9h.01M173.3 215.4h.01M173.8 222.0h.01M173.0 214.5h.01M175.1 208.6h.01M173.8 215.4h.01M176.0 209.8h.01M173.5 211.9h.01M174.6 208.6h.01M174.8 212.6h.01M173.8 206.0h.01M174.6 200.3h.01M172.5 202.1h.01M173.3 209.3h.01M173.3 207.2h.01M174.6 201.3h.01M171.9 211.8h.01M175.2 212.1h.01M172.3 201.8h.01M174.4 211.6h.01M173.8 204.1h.01M170.7 214.0h.01M175.9 214.2h.01M174.4 212.5h.01M173.5 209.1h.01M173.8 206.5h.01M174.2 204.5h.01M173.6 218.3h.01M175.5 206.4h.01M174.8 213.0h.01M174.9 212.3h.01M173.4 215.7h.01M175.0 204.8h.01M173.8 208.8h.01M172.5 210.7h.01M173.3 201.0h.01M176.1 210.7h.01M173.5 211.3h.01M172.6 206.5h.01M175.8 208.3h.01M171.7 211.8h.01M174.8 206.9h.01M173.0 216.3h.01M174.8 204.6h.01M173.2 208.5h.01M173.5 204.3h.01M173.5 205.4h.01M174.6 211.1h.01M173.1 208.9h.01M173.1 214.4h.01M174.3 213.2h.01M171.2 213.4h.01M173.6 208.3h.01M172.0 215.5h.01M175.6 210.3h.01M173.5 206.9h.01M174.7 210.6h.01M172.9 216.2h.01M174.3 211.6h.01M173.6 209.0h.01M172.7 207.9h.01M173.1 214.3h.01M172.5 217.0h.01M175.0 207.3h.01M172.8 202.3h.01M174.7 213.5h.01M175.7 211.6h.01M174.2 208.8h.01M172.2 213.2h.01M173.3 210.0h.01M172.8 212.5h.01M171.7 204.6h.01M175.0 213.0h.01M172.5 211.4h.01M174.2 214.9h.01M175.0 214.9h.01M173.0 219.1h.01M173.7 213.4h.01M174.4 217.0h.01M175.0 202.7h.01M172.0 209.7h.01M172.8 214.7h.01M175.5 216.2h.01M172.5 212.6h.01M174.8 213.6h.01M174.8 222.5h.01M174.7 212.2h.01M174.4 211.7h.01M173.3 210.3h.01M172.6 205.8h.01" stroke="#222" stroke-opacity="0.75" stroke-width="0.96" stroke-linecap="round" fill="none"/>
<path d="M173.8 223.0h.01M173.0 223.6h.01M172.3 218.6h.01M174.5 228.5h.01M174.0 223.5h.01M175.1 226.1h.01M172.1 225.0h.01M173.8 223.0h.01M174.4 221.6h.01M173.7 226.9h.01M171.4 226.6h.01M174.7 223.1h.01M172.3 224.7h.01M173.7 224.7h.01M173.3 222.4h.01M171.5 223.4h.01M174.8 227.0h.01M174.6 224.7h.01M173.0 223.9h.01M173.9 221.8h.01M174.1 226.2h.01M173.0 227.3h.01M174.5 219.7h.01M173.2 224.9h.01M170.9 226.7h.01M174.8 226.4h.01M173.5 228.6h.01M173.8 225.9h.01M174.3 227.9h.01M171.7 227.4h.01M174.1 228.6h.01M173.9 225.0h.01M172.9 225.3h.01M173.0 226.4h.01M173.7 223.4h.01M174.5 225.0h.01M173.2 228.5h.01M174.2 226.2h.01M172.8 228.3h.01M174.4 222.3h.01M173.4 228.2h.01M174.8 224.9h.01M174.0 225.6h.01M170.9 226.9h.01M175.4 223.9h.01M173.8 227.5h.01M174.0 227.7h.01M173.7 224.6h.01M172.9 225.0h.01M172.1 222.3h.01M173.8 223.0h.01M173.9 225.0h.01M173.5 226.5h.01M173.1 222.7h.01M173.4 224.7h.01M175.3 227.6h.01M172.1 220.9h.01M172.2 226.5h.01M171.5 227.3h.01M173.3 227.9h.01M174.0 222.9h.01M173.2 225.6h.01M175.1 224.5h.01M173.0 225.5h.01M172.8 226.4h.01M174.1 227.3h.01M172.7 227.9h.01M177.1 228.6h.01M173.8 224.9h.01M171.8 226.3h.01M176.1 226.5h.01M174.1 225.0h.01M172.3 230.8h.01M173.3 229.0h.01M173.7 225.0h.01M172.6 225.5h.01M173.9 224.3h.01M173.6 224.7h.01M172.6 223.5h.01M176.9 222.1h.01M174.5 221.9h.01M172.5 227.4h.01M171.9 227.0h.01M175.4 224.7h.01M174.6 227.6h.01M171.2 224.2h.01M173.2 227.4h.01M173.1 222.1h.01M172.1 225.3h.01M173.8 226.2h.01M172.3 226.4h.01M173.5 222.8h.01M172.2 230.4h.01M174.4 224.3h.01M174.4 223.5h.01M175.7 226.6h.01M171.0 224.3h.01M173.4 225.5h.01M172.3 227.5h.01M173.9 228.7h.01M173.9 228.7h.01M175.6 225.5h.01M174.0 227.5h.01M174.3 225.0h.01M176.5 228.1h.01M174.3 222.3h.01M172.4 224.8h.01M172.3 221.7h.01M174.4 226.9h.01M173.0 225.2h.01" stroke="#222" stroke-opacity="0.75" stroke-width="0.96" stroke-linecap="round" fill="none"/>
<path d="M185.3 222.2h.01M187.5 213.5h.01M180.9 221.6h.01M187.6 213.9h.01M181.0 213.1h.01M185.4 224.7h.01M179.0 223.7h.01M184.3 225.4h.01M180.6 214.7h.01M183.6 219.4h.01M179.1 221.2h.01M183.8 213.3h.01M183.3 224.2h.01M182.1 215.8h.01M178.9 214.7h.01M179.9 207.2h.01M184.9 218.8h.01M183.0 216.7h.01M186.1 201.5h.01M186.7 211.5h.01M179.3 208.8h.01M179.4 214.0h.01M184.3 208.6h.01M184.4 211.1h.01M182.0 226.4h.01M181.0 206.1h.01M182.2 218.3h.01M180.9 211.8h.01M183.9 207.7h.01M181.6 208.7h.01M183.9 211.7h.01M183.1 214.8h.01M181.8 208.3h.01M185.8 210.9h.01M181.6 205.0h.01M182.2 208.5h.01M178.8 223.2h.01M184.3 217.4h.01M182.6 219.7h.01M182.0 216.8h.01M179.1 212.1h.01M181.5 194.7h.01M178.4 208.3h.01M188.1 202.5h.01M176.4 220.6h.01M179.0 219.0h.01M181.9 228.2h.01M182.0 222.0h.01M181.5 215.5h.01M182.1 214.7h.01M186.3 227.7h.01M182.1 213.4h.01M182.6 223.1h.01M184.2 215.7h.01M177.3 233.6h.01M186.4 219.0h.01M183.0 225.9h.01M187.0 216.0h.01M183.0 213.7h.01M187.9 212.3h.01M180.8 223.6h.01M183.9 215.2h.01M184.6 217.6h.01M182.0 218.0h.01M183.8 217.0h.01M183.5 216.5h.01M183.7 207.8h.01M187.1 223.4h.01M183.0 220.0h.01M187.5 219.1h.01M178.3 218.4h.01M176.1 213.9h.01M186.4 206.7h.01M177.5 212.5h.01M183.2 230.6h.01M181.3 214.8h.01M178.5 232.0h.01M181.6 218.9h.01M185.2 214.2h.01M179.5 211.6h.01" stroke="#222" stroke-opacity="0.28" stroke-width="0.8" stroke-linecap="round" fill="none"/>
<path d="M174.8 243.3h.01M178.7 235.2h.01M173.9 230.0h.01M176.7 236.4h.01M180.4 240.9h.01M179.1 247.8h.01M170.8 238.6h.01M174.3 245.5h.01M174.8 239.0h.01M168.1 235.3h.01M173.0 232.2h.01M175.6 236.5h.01M175.8 243.6h.01M176.5 238.4h.01M176.2 231.6h.01M173.7 234.8h.01M181.7 230.7h.01M173.8 241.4h.01M173.4 242.1h.01M171.1 244.1h.01M175.8 225.2h.01M170.1 230.6h.01M174.2 236.0h.01M176.2 241.9h.01M177.1 240.9h.01M172.2 229.3h.01M170.8 240.4h.01M171.7 230.9h.01M172.0 240.5h.01M170.4 236.9h.01M177.5 243.0h.01M169.1 237.9h.01M174.2 229.8h.01M172.9 238.0h.01M173.4 242.4h.01M173.7 238.3h.01M186.9 240.7h.01M178.0 238.3h.01M173.4 242.2h.01M170.1 238.8h.01M178.8 231.5h.01M181.7 243.9h.01M176.4 236.5h.01M178.3 226.0h.01M179.4 226.3h.01M173.2 246.0h.01M176.2 226.8h.01M169.2 230.5h.01M173.2 233.0h.01M178.4 236.0h.01M181.1 246.1h.01M170.7 245.7h.01M179.6 231.2h.01M173.8 233.1h.01M171.5 237.7h.01M176.1 233.1h.01M169.4 241.8h.01M179.7 244.9h.01M170.0 235.0h.01M173.9 233.9h.01M178.7 232.6h.01M174.0 240.2h.01M175.3 239.5h.01M174.5 241.1h.01M176.1 238.4h.01M177.0 240.5h.01M177.5 240.9h.01M176.6 240.2h.01M172.0 235.2h.01M174.0 234.0h.01M173.3 234.0h.01M172.6 240.0h.01M175.0 238.4h.01M174.1 236.6h.01M177.0 240.6h.01M176.0 243.5h.01M173.5 242.4h.01M175.6 232.2h.01M179.4 232.5h.01M177.8 233.8h.01M172.6 244.8h.01M176.4 238.0h.01M172.3 227.8h.01M173.3 237.0h.01M178.1 237.9h.01M178.5 234.8h.01" stroke="#222" stroke-opacity="0.28" stroke-width="0.8" stroke-linecap="round" fill="none"/>
<ellipse cx="173.6" cy="210.3" rx="2.4" ry="7" transform="rotate(0 173.6 210.3)" fill="none" stroke="#1a1a1a" stroke-opacity="0.8" stroke-width="0.9"/>
<ellipse cx="173.7" cy="225.4" rx="2.2" ry="3.2" transform="rotate(0 173.7 225.4)" fill="none" stroke="#1a1a1a" stroke-opacity="0.6" stroke-width="0.7"/>
<ellipse cx="173.5" cy="213" rx="5.5" ry="11" transform="rotate(0 173.5 213)" fill="none" stroke="#1a1a1a" stroke-opacity="0.25" stroke-width="0.5"/>
<ellipse cx="182.5" cy="214" rx="3.5" ry="11" transform="rotate(0 182.5 214)" fill="none" stroke="#1a1a1a" stroke-opacity="0.25" stroke-width="0.5"/>
<rect x="146.7" y="189.7" width="59.9" height="59.1" fill="none" stroke="#161616" stroke-width="1.4"/>
<line x1="178.1" y1="189.7" x2="178.1" y2="248.8" stroke="#161616" stroke-width="1.2"/>
<line x1="146.7" y1="222.1" x2="206.6" y2="222.1" stroke="#161616" stroke-width="1.2"/>
<text transform="translate(149.7,196.89999999999998) scale(0.9,1)" font-size="5.0" text-anchor="start" fill="#7c7c7c">66.9</text>
<text transform="translate(203.9,196.89999999999998) scale(0.9,1)" font-size="5.0" text-anchor="end" fill="#7c7c7c">2.87</text>
<text transform="translate(149.7,247.20000000000002) scale(0.9,1)" font-size="5.0" text-anchor="start" fill="#7c7c7c">29.5</text>
<text transform="translate(203.9,247.20000000000002) scale(0.9,1)" font-size="5.0" text-anchor="end" fill="#7c7c7c">0.813</text>
<line x1="143.3" y1="194.5" x2="146.7" y2="194.5" stroke="#161616" stroke-width="1.5"/>
<text transform="translate(139.5,197.1) scale(0.815,1)" font-size="9.2" text-anchor="end">10<tspan dy="-3.4" dx="0.2" font-size="5.0">5</tspan></text>
<line x1="143.3" y1="208.2" x2="146.7" y2="208.2" stroke="#161616" stroke-width="1.5"/>
<text transform="translate(139.5,210.8) scale(0.815,1)" font-size="9.2" text-anchor="end">10<tspan dy="-3.4" dx="0.2" font-size="5.0">4</tspan></text>
<line x1="143.3" y1="221.9" x2="146.7" y2="221.9" stroke="#161616" stroke-width="1.5"/>
<text transform="translate(139.5,224.5) scale(0.815,1)" font-size="9.2" text-anchor="end">10<tspan dy="-3.4" dx="0.2" font-size="5.0">3</tspan></text>
<line x1="143.3" y1="235.6" x2="146.7" y2="235.6" stroke="#161616" stroke-width="1.5"/>
<text transform="translate(139.5,238.2) scale(0.815,1)" font-size="9.2" text-anchor="end">10<tspan dy="-3.4" dx="0.2" font-size="5.0">2</tspan></text>
<line x1="144.6" y1="198.6" x2="146.7" y2="198.6" stroke="#161616" stroke-width="1.2"/>
<line x1="144.6" y1="201.3" x2="146.7" y2="201.3" stroke="#161616" stroke-width="1.2"/>
<line x1="144.6" y1="203.5" x2="146.7" y2="203.5" stroke="#161616" stroke-width="1.2"/>
<line x1="144.6" y1="205.5" x2="146.7" y2="205.5" stroke="#161616" stroke-width="1.2"/>
<line x1="144.6" y1="206.8" x2="146.7" y2="206.8" stroke="#161616" stroke-width="1.2"/>
<line x1="144.6" y1="212.3" x2="146.7" y2="212.3" stroke="#161616" stroke-width="1.2"/>
<line x1="144.6" y1="215.0" x2="146.7" y2="215.0" stroke="#161616" stroke-width="1.2"/>
<line x1="144.6" y1="217.2" x2="146.7" y2="217.2" stroke="#161616" stroke-width="1.2"/>
<line x1="144.6" y1="219.2" x2="146.7" y2="219.2" stroke="#161616" stroke-width="1.2"/>
<line x1="144.6" y1="220.5" x2="146.7" y2="220.5" stroke="#161616" stroke-width="1.2"/>
<line x1="144.6" y1="226.0" x2="146.7" y2="226.0" stroke="#161616" stroke-width="1.2"/>
<line x1="144.6" y1="228.8" x2="146.7" y2="228.8" stroke="#161616" stroke-width="1.2"/>
<line x1="144.6" y1="230.9" x2="146.7" y2="230.9" stroke="#161616" stroke-width="1.2"/>
<line x1="144.6" y1="232.9" x2="146.7" y2="232.9" stroke="#161616" stroke-width="1.2"/>
<line x1="144.6" y1="234.2" x2="146.7" y2="234.2" stroke="#161616" stroke-width="1.2"/>
<line x1="144.6" y1="238.9" x2="146.7" y2="238.9" stroke="#161616" stroke-width="1.2"/>
<line x1="144.6" y1="241.1" x2="146.7" y2="241.1" stroke="#161616" stroke-width="1.2"/>
<line x1="144.6" y1="242.9" x2="146.7" y2="242.9" stroke="#161616" stroke-width="1.2"/>
<line x1="144.6" y1="244.5" x2="146.7" y2="244.5" stroke="#161616" stroke-width="1.2"/>
<line x1="144.6" y1="245.6" x2="146.7" y2="245.6" stroke="#161616" stroke-width="1.2"/>
<text transform="translate(137.7,248.10000000000002) scale(0.8,1)" font-size="9.2" text-anchor="middle">0</text>
<rect x="144.29999999999998" y="243.8" width="3.2" height="6.6" fill="#161616"/>
<line x1="150.5" y1="248.8" x2="150.5" y2="252.8" stroke="#161616" stroke-width="1.5"/>
<text transform="translate(150.2,263.3) scale(0.8,1)" font-size="9.2" text-anchor="middle">0</text>
<line x1="161.9" y1="248.8" x2="161.9" y2="252.8" stroke="#161616" stroke-width="1.5"/>
<text transform="translate(161.3,263.3) scale(0.815,1)" font-size="9.2" text-anchor="middle">10<tspan dy="-3.4" dx="0.2" font-size="5.0">2</tspan></text>
<line x1="175.3" y1="248.8" x2="175.3" y2="252.8" stroke="#161616" stroke-width="1.5"/>
<text transform="translate(174.7,263.3) scale(0.815,1)" font-size="9.2" text-anchor="middle">10<tspan dy="-3.4" dx="0.2" font-size="5.0">3</tspan></text>
<line x1="188.9" y1="248.8" x2="188.9" y2="252.8" stroke="#161616" stroke-width="1.5"/>
<text transform="translate(188.3,263.3) scale(0.815,1)" font-size="9.2" text-anchor="middle">10<tspan dy="-3.4" dx="0.2" font-size="5.0">4</tspan></text>
<line x1="202.5" y1="248.8" x2="202.5" y2="252.8" stroke="#161616" stroke-width="1.5"/>
<text transform="translate(201.9,263.3) scale(0.815,1)" font-size="9.2" text-anchor="middle">10<tspan dy="-3.4" dx="0.2" font-size="5.0">5</tspan></text>
<line x1="153.3" y1="248.8" x2="153.3" y2="251.5" stroke="#161616" stroke-width="1.2"/>
<line x1="155.6" y1="248.8" x2="155.6" y2="251.5" stroke="#161616" stroke-width="1.2"/>
<line x1="157.6" y1="248.8" x2="157.6" y2="251.5" stroke="#161616" stroke-width="1.2"/>
<line x1="159.2" y1="248.8" x2="159.2" y2="251.5" stroke="#161616" stroke-width="1.2"/>
<line x1="160.5" y1="248.8" x2="160.5" y2="251.5" stroke="#161616" stroke-width="1.2"/>
<line x1="165.2" y1="248.8" x2="165.2" y2="251.5" stroke="#161616" stroke-width="1.2"/>
<line x1="167.9" y1="248.8" x2="167.9" y2="251.5" stroke="#161616" stroke-width="1.2"/>
<line x1="170.2" y1="248.8" x2="170.2" y2="251.5" stroke="#161616" stroke-width="1.2"/>
<line x1="172.1" y1="248.8" x2="172.1" y2="251.5" stroke="#161616" stroke-width="1.2"/>
<line x1="173.7" y1="248.8" x2="173.7" y2="251.5" stroke="#161616" stroke-width="1.2"/>
<line x1="178.7" y1="248.8" x2="178.7" y2="251.5" stroke="#161616" stroke-width="1.2"/>
<line x1="181.4" y1="248.8" x2="181.4" y2="251.5" stroke="#161616" stroke-width="1.2"/>
<line x1="183.7" y1="248.8" x2="183.7" y2="251.5" stroke="#161616" stroke-width="1.2"/>
<line x1="185.6" y1="248.8" x2="185.6" y2="251.5" stroke="#161616" stroke-width="1.2"/>
<line x1="187.3" y1="248.8" x2="187.3" y2="251.5" stroke="#161616" stroke-width="1.2"/>
<line x1="192.3" y1="248.8" x2="192.3" y2="251.5" stroke="#161616" stroke-width="1.2"/>
<line x1="195.0" y1="248.8" x2="195.0" y2="251.5" stroke="#161616" stroke-width="1.2"/>
<line x1="197.3" y1="248.8" x2="197.3" y2="251.5" stroke="#161616" stroke-width="1.2"/>
<line x1="199.2" y1="248.8" x2="199.2" y2="251.5" stroke="#161616" stroke-width="1.2"/>
<line x1="200.9" y1="248.8" x2="200.9" y2="251.5" stroke="#161616" stroke-width="1.2"/>
<text transform="translate(213.8,39.3) rotate(90) scale(0.97,1)" font-size="9.6" text-anchor="start">MAITs</text>
<text transform="translate(216.5,116.4) rotate(90) scale(0.94,1)" font-size="9.6" text-anchor="start">CD4 T<tspan dy="2.8" dx="0.6" font-size="7.6">con</tspan></text>
<text transform="translate(216.5,200.4) rotate(90) scale(0.94,1)" font-size="9.6" text-anchor="start">CD8 T<tspan dy="2.8" dx="0.6" font-size="7.6">con</tspan></text>
<line x1="33" y1="234" x2="33" y2="32" stroke="#161616" stroke-width="1.1"/>
<path d="M33 25.4 L30.2 34 L33 32.6 L35.8 34 Z" fill="#161616"/>
<text transform="translate(37,257.1) rotate(-90) scale(0.98,1)" font-size="10" text-anchor="start">Tbet</text>
<line x1="88.7" y1="275.8" x2="196" y2="275.8" stroke="#161616" stroke-width="1.1"/>
<path d="M202.2 275.8 L194.4 272.5 L196 275.8 L194.4 279.1 Z" fill="#161616"/>
<text transform="translate(58.3,278.7) scale(0.86,1)" font-size="10.4" text-anchor="start">ROR&#947;t</text>
<line x1="299.5" y1="18.4" x2="299.5" y2="121.60000000000001" stroke="#161616" stroke-width="1.4"/>
<line x1="298.8" y1="120.9" x2="366" y2="120.9" stroke="#161616" stroke-width="1.4"/>
<line x1="295.7" y1="120.9" x2="299.5" y2="120.9" stroke="#161616" stroke-width="1.1"/>
<text transform="translate(292.3,123.6) scale(0.98,1)" font-size="7.6" text-anchor="end">0</text>
<line x1="295.7" y1="101.0" x2="299.5" y2="101.0" stroke="#161616" stroke-width="1.1"/>
<text transform="translate(292.3,103.7) scale(0.98,1)" font-size="7.6" text-anchor="end">20</text>
<line x1="295.7" y1="81.1" x2="299.5" y2="81.1" stroke="#161616" stroke-width="1.1"/>
<text transform="translate(292.3,83.8) scale(0.98,1)" font-size="7.6" text-anchor="end">40</text>
<line x1="295.7" y1="61.2" x2="299.5" y2="61.2" stroke="#161616" stroke-width="1.1"/>
<text transform="translate(292.3,63.9) scale(0.98,1)" font-size="7.6" text-anchor="end">60</text>
<line x1="295.7" y1="41.3" x2="299.5" y2="41.3" stroke="#161616" stroke-width="1.1"/>
<text transform="translate(292.3,44.0) scale(0.98,1)" font-size="7.6" text-anchor="end">80</text>
<line x1="295.7" y1="21.4" x2="299.5" y2="21.4" stroke="#161616" stroke-width="1.1"/>
<text transform="translate(292.3,24.1) scale(0.9,1)" font-size="7.6" text-anchor="end">100</text>
<text transform="translate(271.6,90) rotate(-90) scale(0.89,1)" font-size="10.2" text-anchor="start">% ROR&#947;t<tspan dy="-3.4" font-size="6.8">+</tspan></text>
<text transform="translate(299.2,13.8)" font-size="6.6" text-anchor="start" fill="#333" class="s">*P=0.04</text>
<line x1="303.3" y1="19.4" x2="316.7" y2="19.4" stroke="#333" stroke-width="1.1"/>
<rect x="304.2" y="25.6" width="2.7" height="2.7" fill="#3d639f" stroke="#1d2d55" stroke-width="0.5"/>
<rect x="305.0" y="27.9" width="2.7" height="2.7" fill="#3d639f" stroke="#1d2d55" stroke-width="0.5"/>
<rect x="301.8" y="31.0" width="2.7" height="2.7" fill="#3d639f" stroke="#1d2d55" stroke-width="0.5"/>
<rect x="304.8" y="31.6" width="2.7" height="2.7" fill="#3d639f" stroke="#1d2d55" stroke-width="0.5"/>
<rect x="307.8" y="31.0" width="2.7" height="2.7" fill="#3d639f" stroke="#1d2d55" stroke-width="0.5"/>
<rect x="304.4" y="34.0" width="2.7" height="2.7" fill="#3d639f" stroke="#1d2d55" stroke-width="0.5"/>
<rect x="304.6" y="36.2" width="2.7" height="2.7" fill="#3d639f" stroke="#1d2d55" stroke-width="0.5"/>
<rect x="304.6" y="38.6" width="2.7" height="2.7" fill="#3d639f" stroke="#1d2d55" stroke-width="0.5"/>
<rect x="304.6" y="41.0" width="2.7" height="2.7" fill="#3d639f" stroke="#1d2d55" stroke-width="0.5"/>
<rect x="304.6" y="43.6" width="2.7" height="2.7" fill="#3d639f" stroke="#1d2d55" stroke-width="0.5"/>
<rect x="304.6" y="45.9" width="2.7" height="2.7" fill="#3d639f" stroke="#1d2d55" stroke-width="0.5"/>
<rect x="303.6" y="56.5" width="2.7" height="2.7" fill="#3d639f" stroke="#1d2d55" stroke-width="0.5"/>
<rect x="305.3" y="55.4" width="2.7" height="2.7" fill="#3d639f" stroke="#1d2d55" stroke-width="0.5"/>
<rect x="307.3" y="54.4" width="2.7" height="2.7" fill="#3d639f" stroke="#1d2d55" stroke-width="0.5"/>
<circle cx="312.7" cy="26.7" r="1.62" fill="#b01a30" stroke="#5e0a16" stroke-width="0.5"/>
<circle cx="315.1" cy="25.3" r="1.62" fill="#b01a30" stroke="#5e0a16" stroke-width="0.5"/>
<circle cx="317.3" cy="24.4" r="1.62" fill="#b01a30" stroke="#5e0a16" stroke-width="0.5"/>
<circle cx="318.2" cy="27.0" r="1.62" fill="#b01a30" stroke="#5e0a16" stroke-width="0.5"/>
<circle cx="313.9" cy="28.7" r="1.62" fill="#b01a30" stroke="#5e0a16" stroke-width="0.5"/>
<circle cx="316.4" cy="29.1" r="1.62" fill="#b01a30" stroke="#5e0a16" stroke-width="0.5"/>
<circle cx="315.2" cy="30.8" r="1.62" fill="#b01a30" stroke="#5e0a16" stroke-width="0.5"/>
<circle cx="312.7" cy="29.6" r="1.62" fill="#b01a30" stroke="#5e0a16" stroke-width="0.5"/>
<circle cx="312.7" cy="40.7" r="1.62" fill="#b01a30" stroke="#5e0a16" stroke-width="0.5"/>
<circle cx="315.1" cy="41.6" r="1.62" fill="#b01a30" stroke="#5e0a16" stroke-width="0.5"/>
<circle cx="317.6" cy="40.7" r="1.62" fill="#b01a30" stroke="#5e0a16" stroke-width="0.5"/>
<circle cx="312.7" cy="45.9" r="1.62" fill="#b01a30" stroke="#5e0a16" stroke-width="0.5"/>
<circle cx="315.1" cy="46.7" r="1.62" fill="#b01a30" stroke="#5e0a16" stroke-width="0.5"/>
<circle cx="317.6" cy="45.9" r="1.62" fill="#b01a30" stroke="#5e0a16" stroke-width="0.5"/>
<circle cx="314.4" cy="53.6" r="1.62" fill="#b01a30" stroke="#5e0a16" stroke-width="0.5"/>
<line x1="303.4" y1="37.0" x2="309.0" y2="37.0" stroke="#161616" stroke-width="1"/>
<line x1="306.2" y1="34.7" x2="306.2" y2="39.3" stroke="#161616" stroke-width="0.9"/>
<line x1="304.7" y1="34.7" x2="307.7" y2="34.7" stroke="#161616" stroke-width="0.9"/>
<line x1="304.7" y1="39.3" x2="307.7" y2="39.3" stroke="#161616" stroke-width="0.9"/>
<line x1="312.4" y1="36.4" x2="318.0" y2="36.4" stroke="#161616" stroke-width="1"/>
<line x1="315.2" y1="34.1" x2="315.2" y2="38.7" stroke="#161616" stroke-width="0.9"/>
<line x1="313.7" y1="34.1" x2="316.7" y2="34.1" stroke="#161616" stroke-width="0.9"/>
<line x1="313.7" y1="38.7" x2="316.7" y2="38.7" stroke="#161616" stroke-width="0.9"/>
<rect x="326.8" y="97.0" width="2.7" height="2.7" fill="#3d639f" stroke="#1d2d55" stroke-width="0.5"/>
<rect x="325.2" y="102.6" width="2.7" height="2.7" fill="#3d639f" stroke="#1d2d55" stroke-width="0.5"/>
<rect x="328.2" y="103.6" width="2.7" height="2.7" fill="#3d639f" stroke="#1d2d55" stroke-width="0.5"/>
<rect x="323.8" y="105.1" width="2.7" height="2.7" fill="#3d639f" stroke="#1d2d55" stroke-width="0.5"/>
<rect x="329.8" y="105.6" width="2.7" height="2.7" fill="#3d639f" stroke="#1d2d55" stroke-width="0.5"/>
<rect x="326.8" y="106.6" width="2.7" height="2.7" fill="#3d639f" stroke="#1d2d55" stroke-width="0.5"/>
<rect x="325.0" y="107.6" width="2.7" height="2.7" fill="#3d639f" stroke="#1d2d55" stroke-width="0.5"/>
<rect x="328.6" y="108.6" width="2.7" height="2.7" fill="#3d639f" stroke="#1d2d55" stroke-width="0.5"/>
<rect x="326.8" y="109.6" width="2.7" height="2.7" fill="#3d639f" stroke="#1d2d55" stroke-width="0.5"/>
<rect x="324.3" y="110.6" width="2.7" height="2.7" fill="#3d639f" stroke="#1d2d55" stroke-width="0.5"/>
<rect x="328.8" y="111.6" width="2.7" height="2.7" fill="#3d639f" stroke="#1d2d55" stroke-width="0.5"/>
<rect x="326.8" y="112.6" width="2.7" height="2.7" fill="#3d639f" stroke="#1d2d55" stroke-width="0.5"/>
<rect x="325.8" y="114.1" width="2.7" height="2.7" fill="#3d639f" stroke="#1d2d55" stroke-width="0.5"/>
<rect x="327.8" y="115.6" width="2.7" height="2.7" fill="#3d639f" stroke="#1d2d55" stroke-width="0.5"/>
<rect x="326.8" y="117.1" width="2.7" height="2.7" fill="#3d639f" stroke="#1d2d55" stroke-width="0.5"/>
<circle cx="337.0" cy="97.7" r="1.62" fill="#b01a30" stroke="#5e0a16" stroke-width="0.5"/>
<circle cx="337.9" cy="102.5" r="1.62" fill="#b01a30" stroke="#5e0a16" stroke-width="0.5"/>
<circle cx="339.5" cy="104.5" r="1.62" fill="#b01a30" stroke="#5e0a16" stroke-width="0.5"/>
<circle cx="335.5" cy="106.0" r="1.62" fill="#b01a30" stroke="#5e0a16" stroke-width="0.5"/>
<circle cx="338.0" cy="107.5" r="1.62" fill="#b01a30" stroke="#5e0a16" stroke-width="0.5"/>
<circle cx="334.5" cy="109.0" r="1.62" fill="#b01a30" stroke="#5e0a16" stroke-width="0.5"/>
<circle cx="339.5" cy="110.0" r="1.62" fill="#b01a30" stroke="#5e0a16" stroke-width="0.5"/>
<circle cx="337.0" cy="111.0" r="1.62" fill="#b01a30" stroke="#5e0a16" stroke-width="0.5"/>
<circle cx="335.8" cy="112.4" r="1.62" fill="#b01a30" stroke="#5e0a16" stroke-width="0.5"/>
<circle cx="338.5" cy="113.9" r="1.62" fill="#b01a30" stroke="#5e0a16" stroke-width="0.5"/>
<circle cx="337.0" cy="115.9" r="1.62" fill="#b01a30" stroke="#5e0a16" stroke-width="0.5"/>
<circle cx="336.0" cy="117.4" r="1.62" fill="#b01a30" stroke="#5e0a16" stroke-width="0.5"/>
<circle cx="338.0" cy="118.9" r="1.62" fill="#b01a30" stroke="#5e0a16" stroke-width="0.5"/>
<line x1="325.4" y1="110.5" x2="331.0" y2="110.5" stroke="#161616" stroke-width="1"/>
<line x1="328.2" y1="109.0" x2="328.2" y2="112.0" stroke="#161616" stroke-width="0.9"/>
<line x1="326.8" y1="109.0" x2="329.59999999999997" y2="109.0" stroke="#161616" stroke-width="0.9"/>
<line x1="326.8" y1="112.0" x2="329.59999999999997" y2="112.0" stroke="#161616" stroke-width="0.9"/>
<line x1="334.2" y1="110.5" x2="339.8" y2="110.5" stroke="#161616" stroke-width="1"/>
<line x1="337" y1="109.0" x2="337" y2="112.0" stroke="#161616" stroke-width="0.9"/>
<line x1="335.6" y1="109.0" x2="338.4" y2="109.0" stroke="#161616" stroke-width="0.9"/>
<line x1="335.6" y1="112.0" x2="338.4" y2="112.0" stroke="#161616" stroke-width="0.9"/>
<rect x="348.8" y="107.6" width="2.7" height="2.7" fill="#3d639f" stroke="#1d2d55" stroke-width="0.5"/>
<rect x="346.3" y="109.1" width="2.7" height="2.7" fill="#3d639f" stroke="#1d2d55" stroke-width="0.5"/>
<rect x="351.0" y="109.6" width="2.7" height="2.7" fill="#3d639f" stroke="#1d2d55" stroke-width="0.5"/>
<rect x="348.8" y="111.1" width="2.7" height="2.7" fill="#3d639f" stroke="#1d2d55" stroke-width="0.5"/>
<rect x="345.8" y="112.6" width="2.7" height="2.7" fill="#3d639f" stroke="#1d2d55" stroke-width="0.5"/>
<rect x="351.8" y="113.1" width="2.7" height="2.7" fill="#3d639f" stroke="#1d2d55" stroke-width="0.5"/>
<rect x="348.8" y="114.1" width="2.7" height="2.7" fill="#3d639f" stroke="#1d2d55" stroke-width="0.5"/>
<rect x="347.0" y="115.6" width="2.7" height="2.7" fill="#3d639f" stroke="#1d2d55" stroke-width="0.5"/>
<rect x="350.6" y="115.6" width="2.7" height="2.7" fill="#3d639f" stroke="#1d2d55" stroke-width="0.5"/>
<rect x="348.8" y="117.1" width="2.7" height="2.7" fill="#3d639f" stroke="#1d2d55" stroke-width="0.5"/>
<rect x="345.8" y="117.8" width="2.7" height="2.7" fill="#3d639f" stroke="#1d2d55" stroke-width="0.5"/>
<rect x="351.8" y="118.1" width="2.7" height="2.7" fill="#3d639f" stroke="#1d2d55" stroke-width="0.5"/>
<circle cx="361.2" cy="106.6" r="1.62" fill="#b01a30" stroke="#5e0a16" stroke-width="0.5"/>
<circle cx="357.7" cy="110.3" r="1.62" fill="#b01a30" stroke="#5e0a16" stroke-width="0.5"/>
<circle cx="359.6" cy="113.9" r="1.62" fill="#b01a30" stroke="#5e0a16" stroke-width="0.5"/>
<circle cx="357.1" cy="115.4" r="1.62" fill="#b01a30" stroke="#5e0a16" stroke-width="0.5"/>
<circle cx="361.3" cy="115.9" r="1.62" fill="#b01a30" stroke="#5e0a16" stroke-width="0.5"/>
<circle cx="359.1" cy="116.9" r="1.62" fill="#b01a30" stroke="#5e0a16" stroke-width="0.5"/>
<circle cx="362.1" cy="117.9" r="1.62" fill="#b01a30" stroke="#5e0a16" stroke-width="0.5"/>
<circle cx="356.1" cy="117.9" r="1.62" fill="#b01a30" stroke="#5e0a16" stroke-width="0.5"/>
<circle cx="359.9" cy="118.9" r="1.62" fill="#b01a30" stroke="#5e0a16" stroke-width="0.5"/>
<circle cx="357.6" cy="119.4" r="1.62" fill="#b01a30" stroke="#5e0a16" stroke-width="0.5"/>
<circle cx="361.1" cy="119.9" r="1.62" fill="#b01a30" stroke="#5e0a16" stroke-width="0.5"/>
<line x1="347.4" y1="116.7" x2="353.0" y2="116.7" stroke="#161616" stroke-width="1"/>
<line x1="350.2" y1="115.7" x2="350.2" y2="117.7" stroke="#161616" stroke-width="0.9"/>
<line x1="348.8" y1="115.7" x2="351.59999999999997" y2="115.7" stroke="#161616" stroke-width="0.9"/>
<line x1="348.8" y1="117.7" x2="351.59999999999997" y2="117.7" stroke="#161616" stroke-width="0.9"/>
<line x1="356.3" y1="116.9" x2="361.90000000000003" y2="116.9" stroke="#161616" stroke-width="1"/>
<line x1="359.1" y1="115.9" x2="359.1" y2="117.9" stroke="#161616" stroke-width="0.9"/>
<line x1="357.70000000000005" y1="115.9" x2="360.5" y2="115.9" stroke="#161616" stroke-width="0.9"/>
<line x1="357.70000000000005" y1="117.9" x2="360.5" y2="117.9" stroke="#161616" stroke-width="0.9"/>
<line x1="306.5" y1="120.9" x2="306.5" y2="124.30000000000001" stroke="#161616" stroke-width="1.1"/>
<line x1="315.2" y1="120.9" x2="315.2" y2="124.30000000000001" stroke="#161616" stroke-width="1.1"/>
<line x1="328.2" y1="120.9" x2="328.2" y2="124.30000000000001" stroke="#161616" stroke-width="1.1"/>
<line x1="337" y1="120.9" x2="337" y2="124.30000000000001" stroke="#161616" stroke-width="1.1"/>
<line x1="350.2" y1="120.9" x2="350.2" y2="124.30000000000001" stroke="#161616" stroke-width="1.1"/>
<line x1="359.1" y1="120.9" x2="359.1" y2="124.30000000000001" stroke="#161616" stroke-width="1.1"/>
<line x1="302.4" y1="128.2" x2="317.9" y2="128.2" stroke="#161616" stroke-width="1.1"/>
<line x1="325.1" y1="128.2" x2="340.5" y2="128.2" stroke="#161616" stroke-width="1.1"/>
<line x1="347.4" y1="128.2" x2="362.2" y2="128.2" stroke="#161616" stroke-width="1.1"/>
<text transform="translate(314.9,135.0) rotate(-45)" font-size="7.4" text-anchor="end">MAITs</text>
<text transform="translate(330.4,138) rotate(-45) scale(0.97,1)" font-size="7.4" text-anchor="end">CD4T</text>
<text transform="translate(337.4,135.0) rotate(-45)" font-size="5.2" text-anchor="end" fill="#777">con</text>
<text transform="translate(352.5,138) rotate(-45) scale(0.97,1)" font-size="7.4" text-anchor="end">CD8T</text>
<text transform="translate(359.6,135.0) rotate(-45)" font-size="5.2" text-anchor="end" fill="#777">con</text>
<rect x="366.8" y="165.2" width="3" height="3" fill="#3d639f"/>
<text transform="translate(373.6,169) scale(0.84,1)" font-size="6.5" text-anchor="start">Pre G-CSF</text>
<circle cx="368.3" cy="176.7" r="1.6" fill="#b01a30"/>
<text transform="translate(373.6,178.8) scale(0.84,1)" font-size="6.5" text-anchor="start">Post G-CSF</text>
<line x1="445.1" y1="18.2" x2="445.1" y2="121.2" stroke="#161616" stroke-width="1.4"/>
<line x1="441.1" y1="120.5" x2="511.3" y2="120.5" stroke="#161616" stroke-width="1.4"/>
<line x1="441.1" y1="120.5" x2="445.1" y2="120.5" stroke="#161616" stroke-width="1.1"/>
<text transform="translate(437.5,123.1) scale(0.97,1)" font-size="7.3" text-anchor="end">0</text>
<line x1="441.1" y1="106.3" x2="445.1" y2="106.3" stroke="#161616" stroke-width="1.1"/>
<text transform="translate(437.5,108.9) scale(0.97,1)" font-size="7.3" text-anchor="end">500</text>
<line x1="441.1" y1="92.2" x2="445.1" y2="92.2" stroke="#161616" stroke-width="1.1"/>
<text transform="translate(437.5,94.8) scale(0.97,1)" font-size="7.3" text-anchor="end">1000</text>
<line x1="441.1" y1="78.0" x2="445.1" y2="78.0" stroke="#161616" stroke-width="1.1"/>
<text transform="translate(437.5,80.6) scale(0.97,1)" font-size="7.3" text-anchor="end">1500</text>
<line x1="441.1" y1="63.9" x2="445.1" y2="63.9" stroke="#161616" stroke-width="1.1"/>
<text transform="translate(437.5,66.5) scale(0.97,1)" font-size="7.3" text-anchor="end">2000</text>
<line x1="441.1" y1="49.7" x2="445.1" y2="49.7" stroke="#161616" stroke-width="1.1"/>
<text transform="translate(437.5,52.3) scale(0.97,1)" font-size="7.3" text-anchor="end">2500</text>
<line x1="441.1" y1="35.6" x2="445.1" y2="35.6" stroke="#161616" stroke-width="1.1"/>
<text transform="translate(437.5,38.2) scale(0.97,1)" font-size="7.3" text-anchor="end">3000</text>
<line x1="441.1" y1="21.4" x2="445.1" y2="21.4" stroke="#161616" stroke-width="1.1"/>
<text transform="translate(437.5,24.0) scale(0.97,1)" font-size="7.3" text-anchor="end">3500</text>
<text transform="translate(412.0,117) rotate(-90) scale(0.895,1)" font-size="10.6" text-anchor="start">Geometric MFI ROR&#947;t</text>
<text transform="translate(462.6,17.1)" font-size="6.6" text-anchor="start" fill="#333" class="s">**P=0.006</text>
<line x1="465.4" y1="23" x2="487" y2="23" stroke="#444" stroke-width="1.3"/>
<rect x="465.5" y="42.1" width="2.8" height="2.8" fill="#3d639f" stroke="#1d2d55" stroke-width="0.5"/>
<rect x="461.6" y="46.9" width="2.8" height="2.8" fill="#3d639f" stroke="#1d2d55" stroke-width="0.5"/>
<rect x="460.6" y="52.4" width="2.8" height="2.8" fill="#3d639f" stroke="#1d2d55" stroke-width="0.5"/>
<rect x="465.9" y="52.9" width="2.8" height="2.8" fill="#3d639f" stroke="#1d2d55" stroke-width="0.5"/>
<rect x="464.7" y="58.4" width="2.8" height="2.8" fill="#3d639f" stroke="#1d2d55" stroke-width="0.5"/>
<rect x="458.2" y="60.6" width="2.8" height="2.8" fill="#3d639f" stroke="#1d2d55" stroke-width="0.5"/>
<rect x="460.6" y="63.2" width="2.8" height="2.8" fill="#3d639f" stroke="#1d2d55" stroke-width="0.5"/>
<rect x="466.0" y="60.1" width="2.8" height="2.8" fill="#3d639f" stroke="#1d2d55" stroke-width="0.5"/>
<rect x="458.9" y="62.3" width="2.8" height="2.8" fill="#3d639f" stroke="#1d2d55" stroke-width="0.5"/>
<rect x="465.9" y="67.3" width="2.8" height="2.8" fill="#3d639f" stroke="#1d2d55" stroke-width="0.5"/>
<rect x="461.6" y="69.1" width="2.8" height="2.8" fill="#3d639f" stroke="#1d2d55" stroke-width="0.5"/>
<rect x="466.0" y="74.1" width="2.8" height="2.8" fill="#3d639f" stroke="#1d2d55" stroke-width="0.5"/>
<rect x="462.9" y="80.3" width="2.8" height="2.8" fill="#3d639f" stroke="#1d2d55" stroke-width="0.5"/>
<rect x="466.0" y="91.1" width="2.8" height="2.8" fill="#3d639f" stroke="#1d2d55" stroke-width="0.5"/>
<rect x="458.9" y="94.2" width="2.8" height="2.8" fill="#3d639f" stroke="#1d2d55" stroke-width="0.5"/>
<rect x="462.0" y="96.3" width="2.8" height="2.8" fill="#3d639f" stroke="#1d2d55" stroke-width="0.5"/>
<rect x="466.0" y="98.8" width="2.8" height="2.8" fill="#3d639f" stroke="#1d2d55" stroke-width="0.5"/>
<rect x="461.1" y="105.0" width="2.8" height="2.8" fill="#3d639f" stroke="#1d2d55" stroke-width="0.5"/>
<rect x="465.7" y="105.0" width="2.8" height="2.8" fill="#3d639f" stroke="#1d2d55" stroke-width="0.5"/>
<circle cx="485.9" cy="31.0" r="1.55" fill="#b01a30" stroke="#5e0a16" stroke-width="0.5"/>
<circle cx="490.2" cy="33.4" r="1.55" fill="#b01a30" stroke="#5e0a16" stroke-width="0.5"/>
<circle cx="495.0" cy="29.8" r="1.55" fill="#b01a30" stroke="#5e0a16" stroke-width="0.5"/>
<circle cx="488.3" cy="42.3" r="1.55" fill="#b01a30" stroke="#5e0a16" stroke-width="0.5"/>
<circle cx="492.6" cy="41.8" r="1.55" fill="#b01a30" stroke="#5e0a16" stroke-width="0.5"/>
<circle cx="490.7" cy="56.0" r="1.55" fill="#b01a30" stroke="#5e0a16" stroke-width="0.5"/>
<circle cx="492.6" cy="58.4" r="1.55" fill="#b01a30" stroke="#5e0a16" stroke-width="0.5"/>
<circle cx="490.3" cy="63.1" r="1.55" fill="#b01a30" stroke="#5e0a16" stroke-width="0.5"/>
<circle cx="492.6" cy="68.0" r="1.55" fill="#b01a30" stroke="#5e0a16" stroke-width="0.5"/>
<circle cx="487.5" cy="69.3" r="1.55" fill="#b01a30" stroke="#5e0a16" stroke-width="0.5"/>
<circle cx="492.2" cy="71.8" r="1.55" fill="#b01a30" stroke="#5e0a16" stroke-width="0.5"/>
<circle cx="490.3" cy="80.1" r="1.55" fill="#b01a30" stroke="#5e0a16" stroke-width="0.5"/>
<circle cx="490.3" cy="90.3" r="1.55" fill="#b01a30" stroke="#5e0a16" stroke-width="0.5"/>
<circle cx="487.5" cy="94.6" r="1.55" fill="#b01a30" stroke="#5e0a16" stroke-width="0.5"/>
<circle cx="494.3" cy="97.7" r="1.55" fill="#b01a30" stroke="#5e0a16" stroke-width="0.5"/>
<circle cx="491.9" cy="100.2" r="1.55" fill="#b01a30" stroke="#5e0a16" stroke-width="0.5"/>
<circle cx="488.2" cy="102.4" r="1.55" fill="#b01a30" stroke="#5e0a16" stroke-width="0.5"/>
<line x1="457.3" y1="75.5" x2="472.7" y2="75.5" stroke="#161616" stroke-width="1"/>
<line x1="465" y1="70.6" x2="465" y2="80.4" stroke="#161616" stroke-width="0.9"/>
<line x1="461.8" y1="70.6" x2="468.2" y2="70.6" stroke="#161616" stroke-width="0.9"/>
<line x1="461.8" y1="80.4" x2="468.2" y2="80.4" stroke="#161616" stroke-width="0.9"/>
<line x1="482.90000000000003" y1="66.2" x2="498.3" y2="66.2" stroke="#161616" stroke-width="1"/>
<line x1="490.6" y1="61.0" x2="490.6" y2="71.4" stroke="#161616" stroke-width="0.9"/>
<line x1="487.40000000000003" y1="61.0" x2="493.8" y2="61.0" stroke="#161616" stroke-width="0.9"/>
<line x1="487.40000000000003" y1="71.4" x2="493.8" y2="71.4" stroke="#161616" stroke-width="0.9"/>
<line x1="463.4" y1="128" x2="492.8" y2="128" stroke="#161616" stroke-width="1.1"/>
<text transform="translate(482.6,134.2) rotate(-45)" font-size="7.4" text-anchor="end">MAITs</text>
</svg></body></html>
